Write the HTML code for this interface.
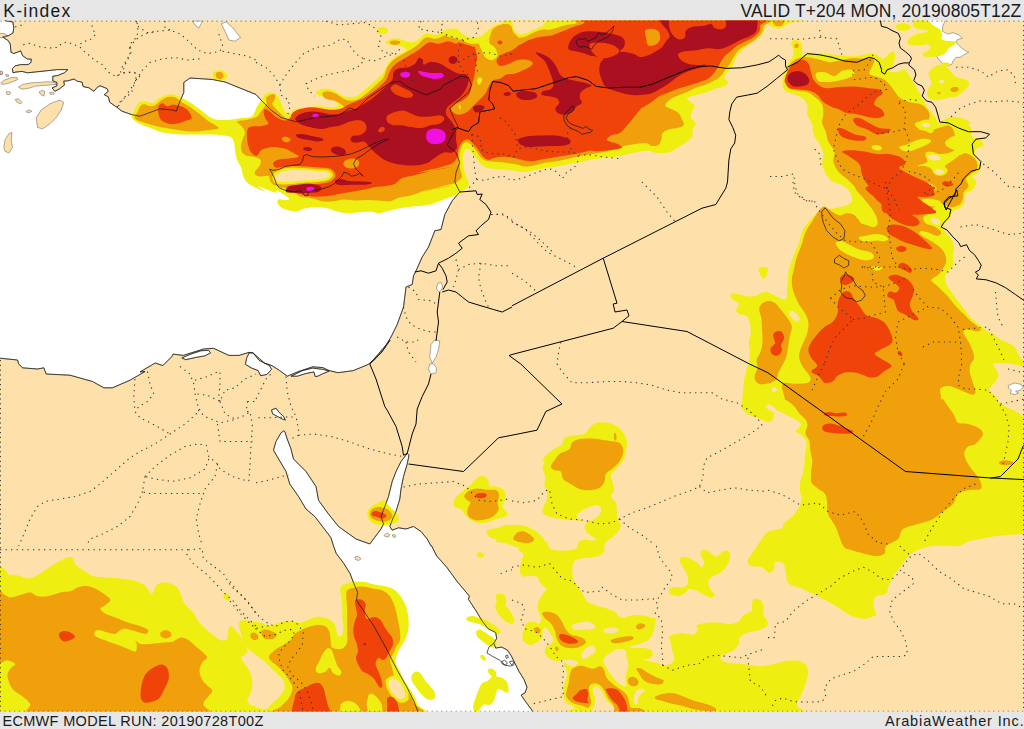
<!DOCTYPE html><html><head><meta charset="utf-8"><title>K-index</title><style>
html,body{margin:0;padding:0;background:#e6e6e6;width:1024px;height:729px;overflow:hidden}
body{font-family:"Liberation Sans",sans-serif;color:#1a1a1a;position:relative}
.t{position:absolute;white-space:nowrap;font-size:15.6px;line-height:1;letter-spacing:0.45px}
svg{position:absolute;left:0;top:0}
</style></head><body>
<svg width="1024" height="729" viewBox="0 0 1024 729">
<defs><clipPath id="m"><rect x="0" y="20.4" width="1024" height="691.2"/></clipPath></defs>
<g clip-path="url(#m)">
<rect x="0" y="0" width="1024" height="729" fill="#fee1aa"/>
<path d="M-5.0,15.0L6.2,20.8L13.0,22.1L13.7,28.2L13.0,33.0L8.2,35.8L3.4,36.5L2.7,37.1L8.2,40.6L10.3,44.0L11.0,52.2L13.7,53.6L20.6,50.9L22.6,55.7L27.4,59.1L31.3,59.1L30.9,62.5L28.1,64.6L20.6,64.6L15.1,65.9L12.3,68.7L13.0,72.8L15.8,72.1L21.9,71.4L27.4,72.8L41.1,71.4L57.6,69.6L67.9,69.6L64.4,72.8L57.6,75.5L52.8,76.2L52.8,81.0L56.9,82.4L56.9,85.8L52.1,87.9L54.8,91.3L59.0,89.2L64.4,85.1L63.8,81.0L67.2,81.0L74.0,79.0L76.8,81.0L82.3,82.4L83.0,86.5L89.1,87.9L93.9,91.3L97.4,87.2L100.1,85.8L107.0,88.6L108.3,91.3L104.2,94.7L108.3,96.8L109.7,102.3L116.6,107.1L122.0,111.2L127.5,113.2L131.6,114.6L140.0,116.2L150.0,112.5L160.0,108.8L172.5,110.0L176.2,111.2L180.0,101.2L183.8,92.5L183.8,82.5L190.0,78.0L212.5,79.5L225.0,82.0L256.0,94.5L261.0,100.0L271.0,110.0L281.0,117.5L296.0,121.8L316.0,117.5L338.5,115.5L349.8,108.0L356.0,110.0L368.5,97.5L391.0,82.5L399.8,81.2L406.0,86.2L426.0,95.0L441.0,88.8L443.5,85.0L453.5,80.0L461.0,76.2L468.5,77.5L471.5,85.0L468.5,92.5L456.0,102.5L449.8,108.8L453.5,117.5L458.5,127.5L453.5,132.5L447.2,145.0L456.0,152.5L459.8,162.5L456.0,172.5L454.8,182.0L459.8,192.0L452.2,200.8L444.8,214.5L441.0,229.5L434.8,230.8L428.5,247.0L422.2,257.0L416.0,270.8L413.5,275.8L412.2,284.5L406.0,287.0L403.5,307.0L397.2,324.5L391.0,337.0L383.5,349.5L376.0,358.2L369.8,364.0L390.1,340.2L381.2,352.9L368.5,364.3L353.3,370.6L338.1,372.7L329.2,370.6L322.8,367.6L312.7,366.8L297.4,371.9L287.3,376.2L279.7,370.6L272.0,365.6L264.4,363.0L253.0,352.9L249.2,352.3L239.0,355.4L228.9,355.4L213.6,348.3L203.5,349.0L183.2,355.4L173.0,354.1L171.7,356.7L162.9,365.6L155.2,363.0L140.0,371.9L145.0,371.5L130.0,380.2L112.5,387.8L103.8,387.8L92.5,381.5L70.0,375.2L46.2,374.0L43.8,367.8L37.5,369.0L22.5,367.8L18.8,364.0L17.5,360.0L0.0,358.2L-5.0,358.0Z" fill="#fff" stroke="#333" stroke-width="0.4"/>
<path d="M283.5,431.0L281.0,432.8L276.0,441.5L273.5,450.2L277.2,456.5L286.0,471.5L289.8,484.0L298.5,496.5L306.0,509.0L314.8,516.5L323.5,527.8L331.0,537.8L333.5,546.0L336.3,553.5L343.9,563.6L350.1,573.6L353.9,583.7L357.7,592.4L356.4,600.0L363.9,611.3L374.0,626.3L386.5,648.9L396.6,669.0L406.6,686.6L414.1,701.6L417.9,711.7L421.7,721.7L534.8,715.5L530.9,708.7L525.0,700.9L521.1,695.0L525.0,693.0L527.0,687.2L524.0,679.4L519.1,671.6L515.2,663.8L511.3,655.9L507.4,650.1L501.6,647.1L495.7,648.1L493.8,643.2L496.7,638.4L495.7,632.5L487.9,628.6L482.0,620.8L476.2,611.0L468.4,599.3L469.4,596.2L456.8,581.1L446.8,567.3L436.7,556.0L431.7,546.0L431.0,546.0L427.2,539.0L421.0,531.5L413.5,526.5L406.0,529.0L398.5,527.8L392.2,530.2L389.8,526.5L392.2,520.2L396.0,511.5L399.8,499.0L401.0,489.0L403.5,476.5L407.2,464.0L409.0,455.2L407.2,453.5L401.0,461.5L396.0,471.5L392.2,481.5L388.5,496.5L384.8,506.5L381.0,516.5L383.5,524.0L381.0,529.0L373.5,539.0L369.8,544.0L356.0,539.0L338.5,526.5L328.5,514.0L318.5,500.2L316.0,486.5L306.0,471.5L293.5,459.0L291.0,449.0L287.2,439.0L284.8,431.5Z" fill="#fff" stroke="#333" stroke-width="0.4"/>
<path d="M181.9,357.9L190.8,354.1L200.9,350.8L208.6,350.3L210.6,352.9L204.8,355.9L195.9,357.4L185.7,359.7Z" fill="#fff" stroke="#333" stroke-width="0.4"/>
<path d="M249.2,352.9L253.0,352.9L259.3,360.5L269.5,365.6L271.5,369.4L267.0,374.4L260.6,375.7L258.1,370.6L251.7,368.1L245.4,364.3L246.7,357.9Z" fill="#fff" stroke="#333" stroke-width="0.4"/>
<path d="M291.1,376.2L302.5,370.6L312.7,368.1L322.8,369.4L329.2,371.1L322.8,373.7L317.8,376.2L315.2,376.5L313.9,371.9L305.1,373.7L297.4,376.2Z" fill="#fff" stroke="#333" stroke-width="0.4"/>
<path d="M271.5,410.0L275.9,408.2L279.2,412.5L283.5,416.3L285.3,420.1L282.2,418.9L277.1,416.3L272.6,413.8Z" fill="#fff" stroke="#333" stroke-width="0.4"/>
<path d="M436.5,287.0L438.0,283.2L441.0,282.5L442.5,285.8L441.5,290.0L439.0,292.0L437.0,290.0Z" fill="#ffffff" stroke="#333" stroke-width="0.4"/>
<path d="M431.0,344.5L434.8,340.0L439.8,340.8L438.5,349.5L436.0,357.0L432.2,363.2L429.8,357.0L430.5,349.5Z" fill="#ffffff" stroke="#333" stroke-width="0.4"/>
<path d="M429.8,364.0L428.5,369.0L431.0,374.0L436.0,372.8L436.5,367.8L433.5,364.0Z" fill="#ffffff" stroke="#333" stroke-width="0.4"/>
<path d="M1008.1,385.7L1014.3,383.0L1021.1,384.3L1023.2,387.8L1019.7,390.5L1015.6,391.2L1018.4,393.2L1014.3,394.6L1010.1,393.2L1011.5,390.5L1008.8,388.4Z" fill="#ffffff" stroke="#333" stroke-width="0.4"/>
<path d="M924.3,18.6L946.1,18.6L942.6,26.3L942.6,31.3L947.5,34.1L953.1,32.7L958.8,34.8L962.3,38.3L957.4,39.7L955.9,42.5L960.2,46.7L964.4,50.2L968.6,52.3L964.4,54.5L960.2,57.3L955.9,57.3L953.1,60.8L951.7,64.3L947.5,65.7L943.3,63.6L939.1,60.1L937.0,56.6L936.3,50.9L934.1,42.5L932.0,34.1L927.8,28.4L925.0,25.6Z" fill="#ffffff" stroke="#333" stroke-width="0.4"/>
<path d="M192.5,21.0L202.5,21.0L198.8,28.0L195.0,25.0Z" fill="#ffffff" stroke="#333" stroke-width="0.4"/>
<path d="M221.2,23.8L226.2,22.0L232.5,27.5L237.5,33.8L240.5,37.5L235.0,41.2L228.8,40.0L226.2,33.8L223.8,28.8Z" fill="#ffffff" stroke="#333" stroke-width="0.4"/>
<path d="M37.5,127.5L36.2,117.5L41.2,110.0L50.0,103.8L60.0,100.0L63.8,102.5L61.2,110.0L56.2,117.5L50.0,123.8L42.5,128.8Z" fill="#fee1aa" stroke="#333" stroke-width="0.4"/>
<path d="M0.7,83.1L4.1,80.3L11.0,77.6L17.1,77.6L17.8,79.6L12.3,81.7L6.9,83.8L2.1,84.4Z" fill="#fee1aa" stroke="#333" stroke-width="0.4"/>
<path d="M18.5,87.2L22.6,84.4L31.5,82.8L39.8,82.4L48.0,81.7L54.2,82.4L56.5,84.4L52.1,84.7L43.9,85.4L35.7,86.1L27.4,88.6L21.9,89.2Z" fill="#fee1aa" stroke="#333" stroke-width="0.4"/>
<path d="M6.2,92.0L8.2,91.3L10.7,92.7L9.6,94.7L6.9,94.3Z" fill="#fee1aa" stroke="#333" stroke-width="0.4"/>
<path d="M39.1,92.0L42.5,90.2L44.6,91.3L43.9,96.1L41.1,94.7Z" fill="#fee1aa" stroke="#333" stroke-width="0.4"/>
<path d="M49.4,92.7L52.8,92.0L54.2,93.8L50.7,94.7Z" fill="#fee1aa" stroke="#333" stroke-width="0.4"/>
<path d="M15.1,99.5L18.5,98.8L21.9,102.3L20.6,103.9L17.1,102.3Z" fill="#fee1aa" stroke="#333" stroke-width="0.4"/>
<path d="M26.1,111.2L29.5,110.1L31.8,111.2L29.5,112.6L26.7,112.3Z" fill="#fee1aa" stroke="#333" stroke-width="0.4"/>
<path d="M-0.7,71.4L2.1,72.1L2.5,74.2L-0.7,74.8Z" fill="#fee1aa" stroke="#333" stroke-width="0.4"/>
<path d="M5.5,74.8L8.2,74.6L8.9,76.2L6.2,76.5Z" fill="#fee1aa" stroke="#333" stroke-width="0.4"/>
<path d="M3.8,147.5L5.0,140.0L8.8,133.8L12.0,132.5L11.2,140.0L12.5,147.5L8.8,153.0L5.0,151.2Z" fill="#fee1aa" stroke="#333" stroke-width="0.4"/>
<path d="M-3.0,33.5L4.0,33.5L7.5,35.5L5.0,37.5L-3.0,37.8Z" fill="#fee1aa" stroke="#333" stroke-width="0.4"/>
<path d="M0.0,71.5L2.0,71.0L2.5,73.5L0.5,74.5Z" fill="#fee1aa" stroke="#333" stroke-width="0.4"/>
<path d="M384.0,535.5L386.5,533.0L389.8,534.5L388.5,537.0L385.2,536.5Z" fill="#fee1aa" stroke="#333" stroke-width="0.4"/>
<path d="M392.2,535.0L394.8,534.5L396.0,536.5L393.5,537.5Z" fill="#fee1aa" stroke="#333" stroke-width="0.4"/>
<path d="M354.8,557.0L358.0,556.2L361.0,558.8L358.5,560.5L355.5,559.5Z" fill="#fee1aa" stroke="#333" stroke-width="0.4"/>
<path d="M131.7,115.9C131.7,114.6 132.9,113.6 133.7,112.0C134.5,110.4 135.6,107.8 136.6,106.1C137.6,104.5 138.1,103.0 139.5,102.2C141.0,101.4 143.1,101.1 145.4,101.2C147.7,101.4 150.9,103.7 153.2,103.2C155.5,102.7 156.8,99.7 159.1,98.3C161.3,97.0 164.6,95.7 166.9,95.0C169.2,94.3 170.8,94.2 172.7,94.4C174.7,94.6 176.6,95.6 178.6,96.4C180.5,97.2 181.8,97.8 184.5,99.3C187.1,100.8 191.3,103.2 194.2,105.2C197.1,107.1 199.4,109.1 202.0,111.0C204.6,113.0 207.2,115.4 209.8,116.9C212.4,118.3 214.4,119.3 217.7,119.8C220.9,120.3 225.5,120.1 229.4,119.8C233.3,119.5 237.5,118.3 241.1,117.9C244.7,117.4 248.6,117.9 250.9,116.9C253.1,115.9 253.8,113.6 254.8,112.0C255.7,110.4 255.7,108.9 256.7,107.1C257.7,105.3 259.3,103.2 260.6,101.2C261.9,99.3 263.4,96.8 264.5,95.4C265.6,94.0 265.5,93.3 267.2,93.0C269.0,92.7 272.7,92.6 274.8,93.8C276.8,94.9 278.1,97.1 279.8,100.0C281.4,102.9 283.1,109.0 284.8,111.2C286.4,113.5 288.3,114.0 289.8,113.8C291.2,113.5 290.8,111.0 293.5,110.0C296.2,109.0 301.8,108.1 306.0,107.5C310.2,106.9 313.9,106.2 318.5,106.2C323.1,106.2 330.2,107.7 333.5,107.5C336.8,107.3 338.9,106.5 338.5,105.0C338.1,103.5 333.9,100.2 331.0,98.8C328.1,97.3 323.5,97.3 321.0,96.2C318.5,95.2 315.6,93.8 316.0,92.5C316.4,91.2 320.6,89.1 323.5,88.8C326.4,88.4 330.2,89.2 333.5,90.5C336.8,91.8 339.8,95.3 343.5,96.2C347.2,97.2 352.2,97.5 356.0,96.2C359.8,95.0 362.7,91.5 366.0,88.8C369.3,86.0 373.1,82.7 376.0,80.0C378.9,77.3 381.4,75.4 383.5,72.5C385.6,69.6 386.4,65.2 388.5,62.5C390.6,59.8 393.1,58.3 396.0,56.2C398.9,54.2 405.2,51.7 406.0,50.0C406.8,48.3 403.5,47.1 401.0,46.2C398.5,45.4 393.5,45.6 391.0,45.0C388.5,44.4 385.8,43.5 386.0,42.5C386.2,41.5 389.8,39.2 392.2,38.8C394.8,38.2 398.3,39.0 401.0,39.5C403.7,40.0 406.0,41.7 408.5,42.0C411.0,42.3 413.1,42.6 416.0,41.2C418.9,39.9 422.7,34.8 426.0,33.8C429.3,32.7 432.7,35.6 436.0,35.0C439.3,34.4 442.7,31.0 446.0,30.0C449.3,29.0 453.1,27.9 456.0,28.8C458.9,29.6 461.0,33.5 463.5,35.0C466.0,36.5 468.1,37.3 471.0,37.5C473.9,37.7 478.1,37.5 481.0,36.2C483.9,35.0 486.0,31.9 488.5,30.0C491.0,28.1 493.5,26.5 496.0,25.0C498.5,23.5 502.2,24.6 503.5,21.2C504.8,17.9 459.9,7.7 504.0,5.0C548.1,2.3 724.2,2.3 768.0,5.0C811.8,7.7 767.5,17.1 767.0,20.9C766.5,24.7 766.0,25.3 765.0,27.8C764.0,30.2 763.0,33.3 761.1,35.6C759.1,37.9 755.9,39.5 753.3,41.4C750.7,43.4 748.1,45.0 745.5,47.3C742.9,49.6 739.6,52.5 737.7,55.1C735.7,57.7 735.2,60.3 733.8,62.9C732.3,65.5 730.5,68.5 728.9,70.7C727.2,73.0 724.1,74.6 724.0,76.6C723.8,78.5 727.9,80.8 727.9,82.5C727.9,84.1 725.9,85.4 724.0,86.4C722.0,87.3 719.1,87.3 716.2,88.3C713.2,89.3 709.7,91.1 706.4,92.2C703.2,93.4 699.9,94.2 696.6,95.1C693.4,96.1 687.9,96.9 686.9,98.1C685.9,99.2 689.5,100.7 690.8,102.0C692.1,103.3 694.5,104.3 694.7,105.9C694.9,107.5 692.4,109.8 691.8,111.8C691.1,113.7 690.1,115.7 690.8,117.6C691.4,119.6 695.3,121.5 695.7,123.5C696.0,125.4 693.4,127.0 692.7,129.3C692.1,131.6 693.1,134.9 691.8,137.1C690.5,139.4 687.4,141.2 684.9,143.0C682.5,144.8 680.0,146.3 677.1,147.9C674.2,149.5 670.9,152.0 667.3,152.8C663.8,153.6 659.2,153.1 655.6,152.8C652.0,152.4 651.8,150.3 645.9,150.8C639.9,151.3 627.0,154.7 620.0,155.9C613.0,157.1 608.6,157.2 603.6,157.9C598.6,158.5 594.5,159.0 589.9,159.8C585.4,160.6 581.1,161.8 576.2,162.7C571.4,163.7 565.2,164.9 560.6,165.7C556.1,166.5 552.8,167.0 548.9,167.6C545.0,168.3 541.1,168.8 537.2,169.6C533.3,170.3 529.4,171.9 525.5,172.1C521.6,172.3 517.7,171.0 513.8,170.5C509.8,170.1 505.9,169.9 502.0,169.6C498.1,169.2 493.6,169.2 490.3,168.6C487.1,167.9 484.8,167.3 482.5,165.7C480.2,164.0 478.4,161.1 476.6,158.8C474.9,156.5 473.2,153.6 471.8,152.0C470.3,150.4 469.2,149.1 467.9,149.1C466.5,149.1 464.8,150.4 463.9,152.0C463.1,153.6 463.0,156.1 463.0,158.8C463.0,161.6 463.5,165.7 463.9,168.6C464.4,171.5 465.1,174.0 465.9,176.4C466.7,178.8 468.7,181.3 468.8,183.2C469.0,185.2 468.3,186.6 466.9,188.1C465.4,189.7 461.3,191.4 460.0,192.4C458.7,193.4 461.5,192.9 459.1,194.0C456.6,195.1 449.9,197.2 445.4,198.9C440.8,200.5 436.0,202.6 431.7,203.8C427.5,204.9 419.0,205.7 420.0,205.7C421.0,205.7 436.5,203.6 437.5,203.5C438.5,203.5 430.0,205.0 425.8,205.5C421.5,206.0 416.7,206.0 412.1,206.4C407.6,206.9 402.7,207.6 398.4,208.4C394.2,209.2 390.0,210.5 386.7,211.3C383.5,212.1 381.5,213.2 378.9,213.3C376.3,213.3 374.3,211.9 371.1,211.7C367.8,211.6 363.3,212.0 359.4,212.3C355.5,212.6 351.2,213.4 347.7,213.3C344.1,213.2 341.1,212.5 337.9,211.7C334.6,210.9 331.7,209.2 328.1,208.4C324.5,207.6 320.3,207.0 316.4,207.0C312.5,207.0 307.9,207.7 304.7,208.4C301.4,209.1 299.5,211.0 296.9,211.3C294.3,211.7 291.7,211.0 289.1,210.4C286.5,209.7 283.2,208.7 281.2,207.4C279.3,206.1 277.7,203.9 277.3,202.5C277.0,201.2 278.3,199.6 279.3,199.2C280.3,198.8 281.6,199.9 283.2,200.0C284.8,200.1 288.4,200.2 289.1,199.6C289.7,199.1 288.7,198.0 287.1,196.7C285.5,195.4 281.1,192.8 279.3,191.8C277.5,190.8 277.0,190.7 276.4,190.8C275.7,191.0 276.9,192.9 275.4,192.8C273.9,192.6 270.5,191.0 267.6,189.8C264.6,188.7 258.3,185.7 257.8,185.9C257.3,186.1 265.0,190.9 264.5,191.1C264.0,191.3 257.7,188.7 254.8,187.2C251.8,185.7 248.9,184.3 247.0,182.3C245.0,180.4 244.0,177.9 243.0,175.5C242.1,173.0 242.1,170.3 241.1,167.7C240.1,165.1 238.2,162.4 237.2,159.8C236.2,157.2 235.7,154.8 235.2,152.0C234.7,149.3 234.9,145.7 234.3,143.2C233.6,140.8 233.1,138.7 231.3,137.4C229.5,136.1 226.8,135.9 223.5,135.4C220.3,134.9 216.0,134.6 211.8,134.5C207.6,134.3 203.0,134.5 198.1,134.5C193.2,134.5 187.4,134.6 182.5,134.5C177.6,134.3 172.7,134.0 168.8,133.5C164.9,133.0 162.3,132.5 159.1,131.5C155.8,130.5 152.6,128.9 149.3,127.6C146.0,126.3 142.1,125.0 139.5,123.7C136.9,122.4 135.0,121.1 133.7,119.8C132.4,118.5 131.7,117.2 131.7,115.9Z" fill="#eeee10"/>
<path d="M512.3,14.1C506.7,16.0 512.8,22.9 513.2,25.8C513.7,28.7 514.1,30.2 515.2,31.7C516.3,33.1 518.0,34.4 520.1,34.6C522.2,34.8 525.0,33.8 527.9,32.6C530.8,31.5 535.1,29.1 537.7,27.8C540.3,26.5 542.1,27.1 543.5,24.8C545.0,22.6 551.7,15.9 546.4,14.1C541.2,12.3 517.8,12.1 512.3,14.1Z" fill="#fee1aa"/>
<path d="M212.8,72.9C213.3,72.0 214.2,71.4 215.7,71.0C217.2,70.6 219.8,69.9 221.6,70.4C223.4,70.9 225.6,72.7 226.4,73.9C227.3,75.1 227.3,76.7 226.4,77.8C225.6,79.0 223.4,80.4 221.6,80.7C219.8,81.1 217.2,80.4 215.7,79.8C214.2,79.1 213.3,78.0 212.8,76.8C212.3,75.7 212.3,73.9 212.8,72.9Z" fill="#eeee10"/>
<path d="M377.0,30.0C377.3,29.1 378.7,27.9 380.0,27.5C381.3,27.1 383.7,27.1 385.0,27.5C386.3,27.9 387.7,29.1 388.0,30.0C388.3,30.9 388.0,32.3 387.0,33.0C386.0,33.7 383.5,34.0 382.0,34.0C380.5,34.0 378.8,33.7 378.0,33.0C377.2,32.3 376.7,30.9 377.0,30.0Z" fill="#eeee10"/>
<path d="M767.0,16.0C761.1,17.5 767.6,22.9 768.9,24.8C770.2,26.8 772.8,27.2 774.8,27.8C776.7,28.3 778.7,28.6 780.6,28.2C782.6,27.7 784.2,25.9 786.5,24.8C788.8,23.8 791.7,22.6 794.3,21.9C796.9,21.3 800.5,21.9 802.1,20.9C803.7,20.0 809.9,16.9 804.1,16.0C798.2,15.2 772.8,14.6 767.0,16.0Z" fill="#eeee10"/>
<path d="M782.4,83.3C782.2,80.6 782.8,77.8 783.6,74.7C784.5,71.6 785.9,67.6 787.4,64.7C788.8,61.8 791.3,59.8 792.3,57.3C793.4,54.8 793.8,52.1 793.6,49.8C793.4,47.6 790.9,45.3 791.1,43.6C791.3,42.0 793.2,40.1 794.8,39.9C796.5,39.7 799.8,40.8 801.0,42.4C802.3,44.1 802.0,47.8 802.3,49.8C802.5,51.9 801.0,54.2 802.3,54.8C803.5,55.4 806.8,53.8 809.7,53.6C812.6,53.4 815.9,53.4 819.6,53.6C823.3,53.8 827.9,54.4 832.0,54.8C836.2,55.2 840.3,55.8 844.4,56.0C848.6,56.3 852.7,56.5 856.8,56.0C861.0,55.6 865.9,53.8 869.2,53.6C872.5,53.4 874.6,53.8 876.7,54.8C878.7,55.8 880.0,58.1 881.6,59.8C883.3,61.4 885.4,65.1 886.6,64.7C887.8,64.3 888.0,59.4 889.1,57.3C890.1,55.2 891.8,52.3 892.8,52.3C893.8,52.3 895.3,55.2 895.3,57.3C895.3,59.4 893.8,62.5 892.8,64.7C891.8,67.0 888.5,69.7 889.1,70.9C889.7,72.2 894.0,72.4 896.5,72.2C899.0,72.0 901.9,69.3 904.0,69.7C906.0,70.1 907.3,72.4 908.9,74.7C910.6,76.9 912.2,80.4 913.9,83.3C915.5,86.2 917.2,89.1 918.8,92.0C920.5,94.9 922.2,97.8 923.8,100.7C925.5,103.6 926.9,106.7 928.8,109.4C930.6,112.1 933.3,114.6 935.0,116.8C936.6,119.1 936.8,122.2 938.7,123.0C940.6,123.9 943.7,122.6 946.1,121.8C948.6,121.0 950.7,118.3 953.6,118.1C956.5,117.9 960.6,118.9 963.5,120.5C966.4,122.2 969.5,125.3 970.9,128.0C972.4,130.7 970.5,134.6 972.2,136.7C973.8,138.7 979.0,138.9 980.9,140.4C982.7,141.8 984.2,143.9 983.3,145.4C982.5,146.8 977.4,147.2 975.9,149.1C974.5,150.9 974.0,154.0 974.7,156.5C975.3,159.0 979.0,161.3 979.6,164.0C980.2,166.6 979.6,170.6 978.4,172.6C977.1,174.7 972.6,174.9 972.2,176.4C971.8,177.8 975.7,179.3 975.9,181.3C976.1,183.4 975.1,186.7 973.4,188.8C971.8,190.8 967.4,192.5 966.0,193.7C964.5,194.9 965.0,194.2 964.6,195.9C964.2,197.5 964.6,201.6 963.6,203.7C962.7,205.8 960.6,207.3 958.8,208.6C957.0,209.9 954.5,209.7 952.9,211.5C951.3,213.3 950.6,216.9 949.0,219.3C947.4,221.7 943.8,224.0 943.1,226.1C942.5,228.2 943.8,229.9 945.1,232.0C946.4,234.1 949.5,236.4 951.0,238.8C952.4,241.3 953.6,243.7 953.9,246.6C954.2,249.6 952.9,253.5 952.9,256.4C952.9,259.3 954.5,261.9 953.9,264.2C953.2,266.5 950.5,268.1 949.0,270.1C947.5,272.0 945.6,273.7 945.1,275.9C944.6,278.2 945.1,281.1 946.1,283.8C947.0,286.4 949.2,289.0 951.0,291.6C952.7,294.2 954.9,296.8 956.8,299.4C958.8,302.0 960.7,304.6 962.7,307.2C964.6,309.8 966.6,312.7 968.5,315.0C970.5,317.3 972.1,318.9 974.4,320.9C976.7,322.8 979.9,324.9 982.2,326.7C984.5,328.6 986.1,330.7 988.1,332.0C990.0,333.3 991.6,333.0 993.7,334.3C995.8,335.6 997.8,338.2 1000.6,339.8C1003.3,341.4 1007.6,342.5 1010.1,343.9C1012.7,345.2 1014.3,346.2 1015.6,348.0C1017.0,349.8 1017.0,352.8 1018.4,354.8C1019.8,356.9 1020.4,359.5 1024.0,360.3C1027.6,361.2 1037.3,359.1 1040.0,360.0C1042.7,360.9 1042.7,365.0 1040.0,366.0C1037.3,367.0 1028.3,366.1 1024.0,365.8C1019.7,365.6 1017.5,364.9 1014.3,364.4C1011.0,364.0 1007.9,363.6 1004.7,363.3C1001.5,363.1 996.9,362.7 995.1,363.1C993.2,363.5 993.5,364.7 993.7,365.8C993.9,367.0 995.6,368.4 996.4,369.9C997.2,371.4 998.6,372.9 998.5,374.7C998.4,376.6 997.0,379.0 995.8,380.9C994.5,382.8 992.0,384.8 991.0,386.4C989.9,388.0 989.1,389.1 989.6,390.5C990.0,391.9 992.3,393.0 993.7,394.6C995.1,396.2 997.1,398.8 997.8,400.0C998.5,401.1 996.3,400.2 998.0,401.5C999.7,402.8 1004.7,405.9 1008.0,407.8C1011.3,409.6 1015.3,411.3 1018.0,412.8C1020.7,414.2 1020.3,415.6 1024.0,416.5C1027.7,417.4 1037.3,398.4 1040.0,418.0C1042.7,437.6 1042.7,514.7 1040.0,534.0C1037.3,553.3 1029.8,533.8 1024.0,534.0C1018.2,534.2 1010.7,534.8 1005.5,535.2C1000.3,535.7 997.2,535.9 993.0,536.5C988.8,537.1 984.7,538.2 980.5,539.0C976.3,539.8 971.8,540.3 968.0,541.5C964.2,542.7 963.7,545.2 958.0,546.0C952.3,546.8 940.2,545.4 933.7,546.0C927.1,546.6 922.8,548.1 918.6,549.8C914.4,551.4 911.5,553.3 908.6,556.0C905.6,558.8 903.5,562.7 901.0,566.1C898.5,569.4 895.6,572.8 893.5,576.1C891.4,579.5 889.7,583.2 888.5,586.2C887.2,589.1 888.1,592.0 886.0,593.7C883.9,595.4 878.0,594.5 875.9,596.2C873.8,597.9 873.4,600.8 873.4,603.7C873.4,606.7 875.8,611.7 875.9,613.8C876.1,615.8 876.0,615.3 874.1,616.1C872.3,617.0 868.7,618.8 864.9,618.8C861.2,618.8 855.7,617.7 851.8,616.1C847.8,614.6 845.2,612.0 841.2,609.5C837.3,607.1 832.4,604.1 828.1,601.6C823.7,599.2 819.3,597.3 814.9,595.1C810.5,592.9 806.1,590.5 801.7,588.5C797.3,586.5 791.2,585.8 788.6,583.2C785.9,580.6 786.8,576.0 785.9,572.7C785.0,569.4 785.0,565.2 783.3,563.5C781.5,561.7 776.9,561.3 775.4,562.1C773.8,563.0 775.2,567.0 774.1,568.7C773.0,570.5 770.8,572.9 768.8,572.7C766.8,572.5 765.1,568.5 762.2,567.4C759.4,566.3 754.1,567.2 751.7,566.1C749.3,565.0 746.9,564.1 747.7,560.8C748.6,557.5 753.8,551.0 757.0,546.3C760.1,541.7 763.5,535.6 766.4,532.8C769.3,530.1 771.6,530.7 774.2,529.9C776.8,529.1 780.4,529.1 782.0,527.9C783.7,526.8 782.4,524.8 784.0,523.0C785.6,521.3 789.5,519.5 791.8,517.2C794.1,514.9 796.0,512.3 797.7,509.4C799.3,506.4 801.2,502.9 801.6,499.6C801.9,496.4 799.8,493.1 799.6,489.8C799.4,486.6 799.9,483.3 800.6,480.1C801.2,476.8 802.9,473.6 803.5,470.3C804.2,467.1 804.2,463.8 804.5,460.5C804.8,457.3 805.1,453.9 805.5,450.8C805.8,447.7 807.1,444.6 806.4,442.0C805.8,439.4 803.4,436.9 801.6,435.2C799.8,433.4 796.0,432.6 795.7,431.2C795.4,429.9 798.8,428.6 799.6,427.3C800.4,426.0 801.6,424.9 800.6,423.4C799.6,422.0 796.8,420.3 793.8,418.6C790.7,416.8 785.1,414.2 782.0,412.7C778.9,411.2 776.5,409.6 775.2,409.8C773.9,409.9 774.7,411.9 774.2,413.7C773.7,415.5 773.6,419.2 772.3,420.5C771.0,421.8 769.0,422.0 766.4,421.5C763.8,421.0 759.9,418.9 756.6,417.6C753.4,416.3 749.3,415.3 746.9,413.7C744.4,412.0 742.8,410.1 742.0,407.8C741.2,405.5 742.0,400.8 742.0,400.0C742.0,399.2 741.8,404.3 742.0,402.8C742.2,401.3 742.6,394.7 743.0,391.1C743.3,387.5 743.5,384.6 743.9,381.3C744.4,378.1 745.1,374.8 745.9,371.6C746.7,368.3 748.2,365.1 748.8,361.8C749.5,358.5 749.8,355.3 749.8,352.0C749.8,348.8 748.7,345.5 748.8,342.3C749.0,339.0 750.6,335.6 750.8,332.5C750.9,329.4 750.5,326.5 749.8,323.7C749.2,320.9 748.7,317.5 746.9,315.9C745.1,314.3 740.9,314.9 739.1,313.9C737.3,313.0 736.1,311.7 736.1,310.0C736.1,308.4 739.4,305.8 739.1,304.2C738.7,302.6 735.6,301.6 734.2,300.3C732.7,299.0 730.6,297.5 730.3,296.4C729.9,295.2 730.8,293.8 732.2,293.4C733.7,293.1 736.3,293.9 739.1,294.4C741.8,294.9 745.9,296.2 748.8,296.4C751.8,296.5 754.4,296.0 756.6,295.4C758.9,294.7 760.5,292.9 762.5,292.5C764.5,292.0 765.8,291.6 768.4,292.5C771.0,293.3 775.2,296.2 778.1,297.3C781.1,298.5 784.5,300.3 785.9,299.3C787.4,298.3 786.6,294.4 786.9,291.5C787.2,288.6 787.6,285.3 787.9,281.7C788.2,278.1 787.8,274.5 788.9,270.0C789.9,265.5 792.5,259.2 794.2,254.5C796.0,249.8 797.8,246.2 799.2,242.0C800.7,237.8 801.1,233.2 803.0,229.5C804.9,225.8 808.0,222.4 810.5,219.5C813.0,216.6 815.9,213.6 818.0,212.0C820.1,210.4 821.0,210.7 823.3,210.1C825.7,209.5 828.5,209.3 832.0,208.6C835.5,208.0 841.1,207.4 844.4,206.1C847.7,204.9 851.0,203.7 851.9,201.2C852.7,198.7 851.0,193.9 849.4,191.3C847.7,188.6 844.8,186.7 841.9,185.0C839.0,183.4 834.7,183.2 832.0,181.3C829.3,179.5 827.5,176.8 825.8,173.9C824.2,171.0 822.5,167.3 822.1,164.0C821.7,160.7 823.8,157.3 823.3,154.0C822.9,150.7 821.3,147.4 819.6,144.1C818.0,140.8 814.7,137.5 813.4,134.2C812.2,130.9 813.2,127.6 812.2,124.3C811.1,121.0 808.0,117.7 807.2,114.3C806.4,111.0 808.0,107.1 807.2,104.4C806.4,101.7 804.3,99.9 802.3,98.2C800.2,96.6 797.7,95.7 794.8,94.5C791.9,93.3 787.0,92.6 784.9,90.8C782.8,88.9 782.6,86.0 782.4,83.3Z" fill="#eeee10"/>
<path d="M766.4,405.9C766.6,405.1 768.8,405.0 770.3,405.5C771.8,406.0 774.5,407.7 775.2,408.8C775.8,409.8 775.2,411.6 774.2,411.7C773.2,411.9 770.6,410.7 769.3,409.8C768.0,408.8 766.2,406.6 766.4,405.9Z" fill="#fee1aa"/>
<path d="M788.9,313.0C788.7,311.7 790.5,310.9 791.8,311.0C793.1,311.2 795.4,312.6 796.7,313.9C798.0,315.2 799.6,317.5 799.6,318.8C799.6,320.1 797.8,321.8 796.7,321.8C795.5,321.8 794.1,320.3 792.8,318.8C791.5,317.4 789.0,314.3 788.9,313.0Z" fill="#fee1aa"/>
<path d="M771.9,388.2C772.4,387.6 774.3,386.9 775.2,387.2C776.1,387.5 777.3,389.3 777.1,390.1C777.0,390.9 775.1,392.0 774.2,392.1C773.3,392.2 772.3,391.4 771.9,390.7C771.5,390.1 771.3,388.8 771.9,388.2Z" fill="#fee1aa"/>
<path d="M765.4,405.7C765.8,404.9 768.7,404.3 770.3,404.8C771.9,405.3 774.5,407.5 775.2,408.7C775.8,409.9 775.4,411.8 774.2,412.0C773.1,412.2 769.8,410.7 768.4,409.6C766.9,408.6 765.1,406.6 765.4,405.7Z" fill="#fee1aa"/>
<path d="M930.4,219.3C930.8,218.4 933.7,217.6 935.3,217.9C937.0,218.3 939.7,220.1 940.2,221.2C940.7,222.4 939.4,224.4 938.3,224.8C937.1,225.2 934.7,224.5 933.4,223.6C932.1,222.7 930.1,220.2 930.4,219.3Z" fill="#fee1aa"/>
<path d="M758.6,268.0C759.7,266.9 766.1,266.7 767.4,268.0C768.7,269.3 767.1,274.1 766.4,275.9C765.8,277.6 764.5,279.0 763.5,278.8C762.5,278.6 761.4,276.7 760.5,274.9C759.7,273.1 757.5,269.2 758.6,268.0Z" fill="#eeee10"/>
<path d="M913.8,18.6C915.7,17.8 921.7,17.4 925.0,18.6C928.3,19.8 930.9,23.8 933.4,25.6C936.0,27.5 939.1,28.2 940.5,29.8C941.9,31.5 941.7,33.8 941.9,35.5C942.1,37.1 940.5,38.8 941.9,39.7C943.3,40.6 948.0,40.7 950.3,41.1C952.7,41.4 955.2,41.2 955.9,41.8C956.7,42.4 955.7,43.6 954.5,44.6C953.4,45.7 950.3,46.8 948.9,48.1C947.5,49.4 947.3,51.2 946.1,52.3C944.9,53.5 943.5,54.5 941.9,55.2C940.2,55.9 938.4,56.3 936.3,56.6C934.1,56.8 931.3,57.0 929.2,56.8C927.1,56.7 924.7,56.5 923.6,55.9C922.5,55.2 922.2,53.9 922.9,53.1C923.6,52.2 926.5,52.0 927.8,50.9C929.1,49.9 930.6,47.8 930.6,46.7C930.6,45.7 929.5,44.8 927.8,44.6C926.2,44.4 923.1,45.2 920.8,45.3C918.4,45.4 915.9,45.6 913.8,45.3C911.6,45.1 909.2,44.6 908.1,43.9C907.1,43.2 907.0,42.3 907.4,41.1C907.9,39.9 909.4,38.0 910.9,36.9C912.5,35.7 914.5,34.8 916.6,34.1C918.7,33.4 921.7,33.1 923.6,32.7C925.5,32.2 927.8,31.7 927.8,31.3C927.8,30.8 925.2,30.2 923.6,29.8C922.0,29.5 919.6,29.7 918.0,29.1C916.3,28.6 914.6,27.3 913.8,26.3C912.9,25.4 913.1,24.8 913.1,23.5C913.1,22.2 911.8,19.4 913.8,18.6Z" fill="#eeee10"/>
<path d="M896.2,25.6C896.7,24.8 898.0,23.9 899.7,23.5C901.3,23.2 904.3,23.2 906.0,23.5C907.8,23.9 909.5,24.8 910.2,25.6C910.9,26.4 910.9,27.6 910.2,28.4C909.5,29.3 907.8,30.2 906.0,30.5C904.3,30.9 901.3,30.9 899.7,30.5C898.1,30.2 897.2,29.3 896.6,28.4C896.0,27.6 895.7,26.4 896.2,25.6Z" fill="#eeee10"/>
<path d="M940.5,63.6C940.8,63.0 944.6,62.2 946.1,62.2C947.6,62.2 949.3,63.0 949.6,63.6C950.0,64.2 949.2,65.4 948.2,65.7C947.3,66.1 945.3,66.1 944.0,65.7C942.7,65.4 940.1,64.2 940.5,63.6Z" fill="#eeee10"/>
<path d="M928.5,73.4C928.9,71.9 930.3,69.9 932.0,68.5C933.8,67.1 936.7,65.4 939.1,65.0C941.4,64.7 944.2,65.5 946.1,66.4C948.0,67.4 948.9,69.0 950.3,70.6C951.7,72.3 952.7,75.0 954.5,76.3C956.4,77.5 959.3,77.7 961.6,78.4C963.8,79.1 966.7,79.4 967.9,80.5C969.1,81.5 969.2,83.3 968.9,84.7C968.5,86.1 967.0,87.5 965.8,88.9C964.6,90.3 963.2,91.8 961.6,93.1C959.9,94.4 958.1,95.9 955.9,96.7C953.8,97.4 951.3,96.9 948.9,97.4C946.6,97.8 944.2,99.0 941.9,99.5C939.5,99.9 937.1,100.5 934.9,100.2C932.6,99.8 929.8,98.5 928.5,97.4C927.2,96.2 927.1,94.5 927.1,93.1C927.1,91.7 927.8,90.6 928.5,88.9C929.2,87.3 931.1,85.2 931.3,83.3C931.6,81.4 930.4,79.3 929.9,77.7C929.5,76.0 928.2,75.0 928.5,73.4Z" fill="#eeee10"/>
<path d="M939.8,80.2C940.5,79.7 943.3,79.7 944.0,80.2C944.7,80.7 944.7,82.5 944.0,83.0C943.3,83.5 940.5,83.5 939.8,83.0C939.1,82.5 939.1,80.7 939.8,80.2Z" fill="#fee1aa"/>
<path d="M880.0,58.0C880.5,56.3 881.9,59.5 882.8,59.4C883.8,59.3 884.5,58.3 885.6,57.3C886.8,56.2 888.6,54.0 889.8,53.1C891.1,52.1 892.5,51.4 893.4,51.6C894.2,51.9 894.7,53.2 894.8,54.5C894.9,55.7 894.5,57.6 894.1,59.4C893.6,61.1 892.9,63.2 892.0,65.0C891.0,66.8 889.4,68.4 888.4,69.9C887.5,71.5 887.3,73.6 886.3,74.1C885.4,74.7 883.9,74.3 882.8,73.4C881.8,72.6 880.5,71.8 880.0,69.2C879.5,66.6 879.5,59.6 880.0,58.0Z" fill="#eeee10"/>
<path d="M941.9,124.1C937.9,123.1 944.2,119.6 946.1,118.5C948.0,117.3 950.8,117.2 953.1,117.0C955.5,116.9 957.8,117.2 960.2,117.7C962.5,118.3 965.6,119.5 967.2,120.6C968.8,121.6 974.2,123.5 970.0,124.1C965.8,124.7 945.9,125.0 941.9,124.1Z" fill="#eeee10"/>
<path d="M-5.0,577.4C-2.5,552.1 5.9,575.1 10.0,574.9C14.2,574.7 17.2,575.5 20.1,576.1C23.0,576.7 24.7,578.8 27.6,578.6C30.5,578.4 34.3,576.5 37.7,574.9C41.0,573.2 44.3,570.7 47.7,568.6C51.0,566.5 54.4,564.2 57.7,562.3C61.1,560.4 65.3,557.9 67.8,557.3C70.3,556.7 71.5,557.3 72.8,558.6C74.0,559.8 73.6,562.9 75.3,564.8C77.0,566.7 79.9,568.0 82.8,569.8C85.8,571.7 89.1,574.9 92.9,576.1C96.6,577.4 100.8,577.0 105.4,577.4C110.0,577.8 115.5,578.0 120.5,578.6C125.5,579.3 131.4,579.9 135.5,581.1C139.7,582.4 142.9,584.1 145.6,586.2C148.3,588.3 150.0,593.9 151.9,593.7C153.7,593.5 154.6,586.8 156.9,584.9C159.2,583.0 162.5,582.2 165.7,582.4C168.8,582.6 173.2,584.3 175.7,586.2C178.2,588.0 179.3,590.8 180.7,593.7C182.2,596.6 182.4,600.6 184.5,603.7C186.6,606.9 191.0,609.6 193.3,612.5C195.6,615.4 195.8,618.2 198.3,621.3C200.8,624.4 205.0,628.4 208.3,631.3C211.7,634.3 215.4,637.4 218.4,638.9C221.3,640.3 223.8,641.0 225.9,640.1C228.0,639.3 229.0,634.5 230.9,633.9C232.8,633.2 235.3,634.5 237.2,636.4C239.1,638.2 241.0,642.2 242.2,645.1C243.5,648.1 244.9,651.8 244.7,653.9C244.5,656.0 241.0,656.0 241.0,657.7C241.0,659.4 243.3,661.7 244.7,664.0C246.2,666.3 248.5,668.6 249.7,671.5C251.0,674.4 252.0,678.2 252.3,681.5C252.5,684.9 251.8,688.7 251.0,691.6C250.2,694.5 247.2,696.8 247.2,699.1C247.2,701.4 249.5,703.9 251.0,705.4C252.5,706.9 254.8,704.3 256.0,707.9C257.3,711.5 302.0,723.6 258.5,726.7C215.0,729.9 38.9,751.6 -5.0,726.7C-48.9,701.8 -7.5,602.7 -5.0,577.4Z" fill="#eeee10"/>
<path d="M223.4,594.9C223.8,594.1 226.1,593.3 227.2,593.7C228.2,594.1 229.5,596.3 229.7,597.5C229.9,598.6 229.3,600.5 228.4,600.7C227.6,600.9 225.5,599.7 224.6,598.7C223.8,597.7 223.0,595.8 223.4,594.9Z" fill="#eeee10"/>
<path d="M239.8,621.8C240.6,620.8 241.7,619.8 243.7,619.8C245.6,619.8 248.6,621.3 251.5,621.8C254.4,622.2 258.3,622.1 261.2,622.7C264.2,623.4 266.5,625.5 269.1,625.7C271.7,625.8 274.3,624.5 276.9,623.7C279.5,623.0 282.1,621.6 284.7,621.2C287.3,620.7 289.9,620.9 292.5,621.2C295.1,621.4 297.7,623.0 300.3,622.7C302.9,622.5 305.5,620.8 308.1,619.8C310.7,618.8 313.0,617.2 315.9,616.9C318.9,616.5 322.8,616.9 325.7,617.9C328.6,618.8 331.7,620.6 333.5,622.7C335.3,624.9 335.6,628.3 336.4,630.5C337.3,632.8 337.4,635.8 338.4,636.4C339.4,637.1 341.5,636.1 342.3,634.5C343.1,632.8 343.3,629.6 343.3,626.6C343.3,623.7 342.5,620.1 342.3,616.9C342.1,613.6 342.5,610.4 342.3,607.1C342.1,603.9 341.7,600.6 341.3,597.3C341.0,594.1 339.7,589.8 340.4,587.6C341.0,585.4 342.8,585.0 345.2,584.1C347.7,583.1 351.7,582.0 355.0,581.7C358.3,581.4 361.5,581.6 364.8,582.1C368.0,582.6 371.0,583.9 374.5,584.6C378.1,585.4 383.0,585.8 386.2,586.6C389.5,587.4 391.8,588.1 394.1,589.5C396.3,591.0 398.1,593.1 399.9,595.4C401.7,597.7 403.5,600.3 404.8,603.2C406.1,606.1 407.1,609.7 407.7,613.0C408.4,616.2 408.7,619.5 408.7,622.7C408.7,626.0 408.5,629.2 407.7,632.5C406.9,635.8 405.3,639.3 403.8,642.3C402.4,645.2 400.2,647.5 398.9,650.1C397.6,652.7 396.5,655.6 396.0,657.9C395.5,660.2 395.4,661.5 396.0,663.8C396.7,666.0 398.5,668.6 399.9,671.6C401.4,674.5 403.2,678.4 404.8,681.3C406.4,684.3 408.1,686.5 409.7,689.1C411.3,691.7 413.3,694.3 414.6,697.0C415.9,699.6 416.7,701.2 417.5,704.8C418.3,708.3 444.5,716.2 419.5,718.4C394.4,720.7 292.2,720.4 267.1,718.4C242.0,716.5 267.8,709.6 269.1,706.7C270.4,703.8 273.0,702.8 274.9,700.9C276.9,698.9 279.2,697.3 280.8,695.0C282.4,692.7 284.4,689.8 284.7,687.2C285.0,684.6 284.0,681.7 282.7,679.4C281.4,677.1 278.8,675.5 276.9,673.5C274.9,671.6 273.0,669.6 271.0,667.7C269.1,665.7 267.4,663.8 265.2,661.8C262.9,659.8 259.9,657.9 257.3,655.9C254.7,654.0 251.8,652.4 249.5,650.1C247.3,647.8 245.1,645.2 243.7,642.3C242.2,639.3 241.6,635.3 240.7,632.5C239.9,629.7 239.0,627.5 238.8,625.7C238.6,623.9 239.0,622.7 239.8,621.8Z" fill="#eeee10"/>
<path d="M228.0,632.5C229.7,618.3 235.2,631.8 237.8,633.5C240.4,635.1 242.0,639.2 243.7,642.3C245.3,645.4 247.9,649.8 247.6,652.0C247.3,654.3 243.3,654.3 241.7,655.9C240.1,657.6 237.5,659.8 237.8,661.8C238.1,663.8 241.9,665.4 243.7,667.7C245.5,669.9 247.3,672.2 248.6,675.5C249.9,678.7 251.3,683.9 251.5,687.2C251.6,690.4 250.3,692.7 249.5,695.0C248.7,697.3 246.0,698.9 246.6,700.9C247.3,702.8 250.0,705.1 253.4,706.7C256.9,708.3 264.8,708.7 267.1,710.6C269.4,712.6 273.6,717.1 267.1,718.4C260.6,719.7 234.6,732.8 228.0,718.4C221.5,704.1 226.4,646.7 228.0,632.5Z" fill="#eeee10"/>
<path d="M466.4,617.9C467.1,617.0 469.7,615.7 472.3,615.9C474.9,616.1 478.8,617.5 482.0,618.8C485.3,620.1 489.0,622.1 491.8,623.7C494.6,625.3 497.2,627.0 498.6,628.6C500.1,630.2 501.1,632.7 500.6,633.5C500.1,634.3 497.8,634.3 495.7,633.5C493.6,632.7 490.8,630.2 487.9,628.6C485.0,627.0 481.4,624.9 478.1,623.7C474.9,622.5 470.3,622.1 468.4,621.2C466.4,620.2 465.8,618.7 466.4,617.9Z" fill="#eeee10"/>
<path d="M476.2,631.5C476.7,630.4 478.1,629.1 480.1,629.6C482.0,630.1 485.6,633.0 487.9,634.5C490.2,635.9 492.3,636.9 493.8,638.4C495.2,639.8 496.7,641.8 496.7,643.2C496.7,644.7 495.2,646.8 493.8,647.1C492.3,647.5 490.0,646.3 487.9,645.2C485.8,644.1 482.8,641.8 481.1,640.3C479.3,638.8 478.0,637.9 477.1,636.4C476.3,634.9 475.7,632.7 476.2,631.5Z" fill="#eeee10"/>
<path d="M495.7,595.4C496.2,594.1 498.1,593.4 499.6,593.4C501.1,593.4 503.4,594.1 504.5,595.4C505.6,596.7 506.3,599.6 506.4,601.2C506.6,602.9 505.0,603.7 505.5,605.2C506.0,606.6 508.1,608.1 509.4,610.0C510.7,612.0 512.5,614.9 513.3,616.9C514.1,618.8 514.7,620.6 514.3,621.8C513.8,622.9 512.1,624.0 510.4,623.7C508.6,623.4 505.6,621.6 503.5,619.8C501.4,618.0 499.0,615.2 497.7,613.0C496.3,610.7 495.5,608.1 495.3,606.1C495.1,604.2 496.6,603.0 496.7,601.2C496.7,599.5 495.2,596.7 495.7,595.4Z" fill="#eeee10"/>
<path d="M480.1,655.9C480.3,655.3 482.0,654.5 483.0,655.0C484.0,655.4 485.7,657.9 485.9,658.9C486.2,659.8 485.1,660.8 484.4,660.8C483.7,660.8 482.4,659.7 481.6,658.9C480.9,658.1 479.9,656.6 480.1,655.9Z" fill="#eeee10"/>
<path d="M487.9,669.6C488.4,668.8 490.5,668.3 491.8,668.6C493.1,669.0 494.9,670.3 495.7,671.6C496.5,672.9 495.7,675.5 496.7,676.4C497.7,677.4 499.9,676.6 501.6,677.4C503.2,678.2 505.3,679.7 506.4,681.3C507.6,683.0 508.2,685.2 508.4,687.2C508.6,689.1 508.6,692.6 507.4,693.0C506.3,693.5 503.2,690.8 501.6,690.1C499.9,689.5 498.6,688.3 497.7,689.1C496.7,690.0 496.4,693.0 495.7,695.0C495.1,697.0 494.7,699.2 493.8,700.9C492.8,702.5 491.5,704.1 489.8,704.8C488.2,705.4 485.6,704.1 484.0,704.8C482.4,705.4 481.4,707.0 480.1,708.7C478.8,710.3 477.3,714.9 476.2,714.5C475.0,714.2 473.4,709.3 473.2,706.7C473.1,704.1 474.4,701.5 475.2,698.9C476.0,696.3 477.0,693.7 478.1,691.1C479.3,688.5 480.4,685.1 482.0,683.3C483.7,681.5 486.3,681.5 487.9,680.4C489.5,679.2 491.6,677.6 491.8,676.4C492.0,675.3 489.5,674.7 488.9,673.5C488.2,672.4 487.4,670.4 487.9,669.6Z" fill="#eeee10"/>
<path d="M411.7,675.5C412.4,674.0 414.2,671.9 415.6,671.6C417.1,671.2 419.0,672.2 420.5,673.5C422.0,674.8 422.9,677.4 424.4,679.4C425.9,681.3 427.7,683.3 429.3,685.2C430.9,687.2 433.2,689.1 434.2,691.1C435.2,693.0 435.6,695.5 435.2,697.0C434.7,698.4 432.9,699.7 431.2,699.9C429.6,700.0 427.3,699.2 425.4,697.9C423.4,696.6 421.3,694.2 419.5,692.1C417.7,690.0 416.0,687.2 414.6,685.2C413.3,683.3 412.2,682.0 411.7,680.4C411.2,678.7 411.1,676.9 411.7,675.5Z" fill="#eeee10"/>
<path d="M476.9,553.5C477.4,552.8 479.4,551.9 480.6,552.3C481.9,552.6 484.4,554.6 484.4,555.5C484.4,556.5 481.8,557.9 480.6,558.0C479.5,558.2 478.0,557.3 477.4,556.5C476.8,555.8 476.3,554.2 476.9,553.5Z" fill="#eeee10"/>
<path d="M542.0,461.5C542.4,460.3 544.9,456.1 547.0,454.0C549.1,451.9 552.0,450.7 554.5,449.0C557.0,447.3 560.3,445.9 562.0,444.0C563.7,442.1 562.4,439.2 564.5,437.8C566.6,436.3 571.2,435.9 574.5,435.2C577.8,434.6 582.0,435.2 584.5,434.0C587.0,432.8 587.4,429.6 589.5,427.8C591.6,425.9 594.1,423.6 597.0,422.8C599.9,421.9 603.7,422.1 607.0,422.8C610.3,423.4 614.3,424.8 617.0,426.5C619.7,428.2 621.6,430.2 623.2,432.8C624.9,435.2 626.6,438.4 627.0,441.5C627.4,444.6 626.3,448.5 625.8,451.5C625.2,454.5 625.3,456.6 623.6,459.5C621.9,462.5 617.9,466.7 615.8,469.3C613.7,471.9 611.4,472.9 610.9,475.2C610.4,477.4 612.4,480.4 612.9,483.0C613.3,485.6 614.2,488.5 613.8,490.8C613.5,493.1 610.6,494.7 610.9,496.6C611.2,498.6 614.8,500.2 615.8,502.5C616.8,504.8 616.4,507.7 616.8,510.3C617.1,512.9 617.1,515.5 617.7,518.1C618.4,520.7 620.7,523.7 620.7,525.9C620.7,528.2 619.2,529.8 617.7,531.8C616.3,533.8 613.8,536.0 611.9,537.7C609.9,539.3 607.3,539.9 606.0,541.6C604.7,543.2 604.7,545.5 604.1,547.4C603.4,549.4 603.7,552.1 602.1,553.3C600.5,554.4 597.2,553.6 594.3,554.3C591.4,554.9 587.8,556.4 584.5,557.2C581.3,558.0 576.7,557.8 574.8,559.1C572.8,560.4 573.3,562.7 572.8,565.0C572.3,567.3 571.8,570.0 571.8,572.8C571.8,575.6 572.7,579.4 572.8,582.0C572.9,584.6 574.6,586.5 572.3,588.6C569.9,590.7 562.8,594.5 558.6,594.5C554.4,594.5 550.0,590.7 546.9,588.6C543.7,586.5 541.1,584.5 539.6,582.0C538.1,579.5 538.6,575.6 537.7,573.8C536.7,571.9 535.1,570.7 533.8,570.9C532.4,571.0 531.5,573.8 529.8,574.8C528.2,575.7 525.6,577.0 524.0,576.7C522.4,576.4 520.6,574.8 520.1,572.8C519.6,570.9 520.7,567.3 521.1,565.0C521.4,562.7 521.4,561.1 522.0,559.1C522.7,557.2 524.0,554.9 525.0,553.3C525.9,551.7 528.4,550.4 527.9,549.4C527.4,548.4 524.3,548.2 522.0,547.4C519.8,546.6 516.8,545.5 514.2,544.5C511.6,543.5 509.0,542.4 506.4,541.6C503.8,540.7 501.2,540.3 498.6,539.6C496.0,539.0 492.7,538.6 490.8,537.7C488.8,536.7 487.4,535.1 486.9,533.8C486.4,532.4 486.2,530.8 487.9,529.8C489.5,528.9 493.5,528.7 496.6,527.9C499.7,527.1 503.5,525.3 506.4,525.0C509.3,524.6 511.6,525.3 514.2,525.9C516.8,526.6 519.8,527.7 522.0,528.9C524.3,530.0 525.6,531.5 527.9,532.8C530.2,534.1 533.4,535.5 535.7,536.7C538.0,537.8 539.8,538.3 541.6,539.6C543.4,540.9 544.8,542.9 546.4,544.5C548.1,546.1 549.2,548.3 551.3,549.4C553.4,550.4 556.5,550.8 559.1,550.9C561.7,551.1 564.3,550.6 567.0,550.4C569.6,550.1 572.8,550.0 574.8,549.4C576.7,548.7 577.9,547.7 578.7,546.4C579.5,545.1 578.7,542.5 579.6,541.6C580.6,540.6 582.4,540.6 584.5,540.6C586.6,540.6 590.1,541.6 592.3,541.6C594.6,541.6 597.9,541.2 598.2,540.6C598.5,539.9 595.9,538.8 594.3,537.7C592.7,536.5 590.1,535.4 588.4,533.8C586.8,532.1 584.9,529.8 584.5,527.9C584.2,525.9 587.1,523.2 586.5,522.0C585.8,520.9 582.6,521.4 580.6,521.1C578.7,520.7 577.4,520.3 574.8,520.1C572.2,519.9 568.3,520.0 565.0,519.7C561.7,519.4 558.2,518.7 555.2,518.1C552.3,517.5 549.5,517.1 547.4,516.2C545.3,515.2 543.2,513.9 542.5,512.3C541.9,510.6 542.9,508.4 543.5,506.4C544.2,504.5 545.8,502.8 546.4,500.5C547.1,498.3 547.7,495.3 547.4,492.7C547.1,490.1 544.8,487.5 544.5,484.9C544.2,482.3 545.8,479.7 545.5,477.1C545.1,474.5 542.7,471.9 542.5,469.3C542.4,466.7 544.6,462.8 544.5,461.5C544.4,460.2 541.6,462.7 542.0,461.5Z" fill="#eeee10"/>
<path d="M576.7,515.2C577.4,513.7 580.3,511.8 582.6,510.3C584.9,508.8 587.8,507.2 590.4,506.4C593.0,505.6 596.4,504.9 598.2,505.4C600.0,505.9 601.0,507.7 601.1,509.3C601.3,511.0 600.6,513.4 599.2,515.2C597.7,517.0 594.8,519.1 592.3,520.1C589.9,521.1 586.8,521.2 584.5,521.1C582.3,520.9 580.0,520.1 578.7,519.1C577.4,518.1 576.1,516.7 576.7,515.2Z" fill="#fee1aa"/>
<path d="M453.7,502.5C453.8,500.7 455.0,498.6 456.6,496.6C458.2,494.7 461.0,492.9 463.4,490.8C465.9,488.7 469.0,486.1 471.2,483.9C473.5,481.8 475.2,479.4 477.1,478.1C479.1,476.8 481.2,475.8 483.0,476.1C484.8,476.5 486.7,478.4 487.9,480.0C489.0,481.7 488.0,484.8 489.8,485.9C491.6,487.0 496.2,486.1 498.6,486.9C501.0,487.7 503.3,488.8 504.5,490.8C505.6,492.7 505.8,496.0 505.4,498.6C505.1,501.2 502.2,504.0 502.5,506.4C502.8,508.8 507.1,511.5 507.4,513.2C507.7,515.0 506.2,516.2 504.5,517.1C502.7,518.1 499.2,518.3 496.6,519.1C494.0,519.9 491.8,521.4 488.8,522.0C485.9,522.7 482.0,523.3 479.1,523.0C476.1,522.7 473.5,521.4 471.2,520.1C469.0,518.8 467.0,517.0 465.4,515.2C463.8,513.4 463.1,510.6 461.5,509.3C459.9,508.0 456.9,508.5 455.6,507.4C454.3,506.2 453.5,504.3 453.7,502.5Z" fill="#eeee10"/>
<path d="M477.1,555.2C477.0,554.5 479.0,552.9 480.0,552.9C481.1,552.9 483.3,554.5 483.4,555.2C483.4,556.0 481.5,557.6 480.4,557.6C479.4,557.6 477.2,556.0 477.1,555.2Z" fill="#eeee10"/>
<path d="M367.2,514.0C367.2,511.9 368.3,509.4 369.8,507.8C371.2,506.1 373.7,505.2 376.0,504.0C378.3,502.8 381.6,500.2 383.5,500.2C385.4,500.2 385.8,502.5 387.2,504.0C388.7,505.5 390.6,507.3 392.2,509.0C393.9,510.7 396.2,512.1 397.2,514.0C398.3,515.9 399.3,518.6 398.5,520.2C397.7,521.9 394.8,523.2 392.2,524.0C389.8,524.8 386.4,525.2 383.5,525.2C380.6,525.2 377.0,524.8 374.8,524.0C372.5,523.2 371.0,521.9 369.8,520.2C368.5,518.6 367.2,516.1 367.2,514.0Z" fill="#eeee10"/>
<path d="M507.0,526.5C511.3,523.9 517.8,524.8 522.0,525.2C526.2,525.7 528.7,527.1 532.0,529.0C535.3,530.9 539.5,533.7 542.0,536.5C544.5,539.3 546.4,545.1 547.0,546.0C547.6,546.9 545.6,541.3 545.9,541.7C546.2,542.1 548.7,546.3 548.8,548.6C549.0,550.8 548.5,553.6 546.9,555.4C545.2,557.2 542.0,559.0 539.1,559.3C536.1,559.6 531.9,558.3 529.3,557.3C526.7,556.4 525.1,554.9 523.4,553.4C521.8,552.0 521.5,549.9 519.5,548.6C517.6,547.3 514.3,546.6 511.7,545.6C509.1,544.6 506.5,543.5 503.9,542.7C501.3,541.9 495.6,543.4 496.1,540.7C496.6,538.0 502.7,529.1 507.0,526.5Z" fill="#eeee10"/>
<path d="M519.5,548.6C515.8,550.5 522.9,551.3 523.4,553.4C523.9,555.6 523.1,558.8 522.5,561.2C521.8,563.7 519.5,566.0 519.5,568.1C519.5,570.2 520.8,572.6 522.5,573.9C524.1,575.2 526.7,575.4 529.3,575.9C531.9,576.4 535.8,576.1 538.1,576.9C540.4,577.7 541.2,579.8 543.0,580.8C544.8,581.8 548.2,581.4 548.8,582.7C549.5,584.0 548.0,586.5 546.9,588.6C545.7,590.7 543.5,593.2 542.0,595.4C540.5,597.7 538.7,599.8 538.1,602.3C537.4,604.7 537.6,607.5 538.1,610.1C538.6,612.7 540.9,615.6 541.0,617.9C541.2,620.2 540.2,623.1 539.1,623.8C537.9,624.4 536.1,622.0 534.2,621.8C532.2,621.6 529.0,621.8 527.3,622.8C525.7,623.8 525.2,625.5 524.4,627.7C523.6,629.8 522.6,633.2 522.5,635.5C522.3,637.7 522.3,639.9 523.4,641.3C524.6,642.8 527.3,643.9 529.3,644.3C531.2,644.6 533.4,644.1 535.2,643.3C536.9,642.5 538.9,641.0 540.0,639.4C541.2,637.7 541.3,635.5 542.0,633.5C542.6,631.6 543.0,628.3 543.9,627.7C544.9,627.0 546.7,628.5 547.9,629.6C549.0,630.7 549.8,632.9 550.8,634.5C551.8,636.1 553.7,637.7 553.7,639.4C553.7,641.0 552.1,643.0 550.8,644.3C549.5,645.6 546.9,645.7 545.9,647.2C544.9,648.7 544.4,651.3 544.9,653.0C545.4,654.8 546.9,656.6 548.8,657.9C550.8,659.2 554.0,660.5 556.6,660.9C559.2,661.2 561.8,660.0 564.5,659.9C567.1,659.7 570.0,659.4 572.3,659.9C574.5,660.4 578.1,661.7 578.1,662.8C578.1,664.0 574.6,666.7 572.3,666.7C569.9,666.7 565.0,662.5 563.9,662.8C562.9,663.1 565.4,666.7 565.9,668.6C566.4,670.6 567.0,672.2 566.9,674.5C566.7,676.8 565.6,679.7 564.9,682.3C564.3,684.9 563.1,687.5 563.0,690.1C562.8,692.7 563.1,695.7 563.9,697.9C564.8,700.2 566.1,702.2 567.9,703.8C569.6,705.4 572.6,705.8 574.7,707.7C576.8,709.7 544.5,713.4 580.5,715.5C616.6,717.6 755.2,722.0 791.2,720.2C827.2,718.3 794.7,708.7 796.5,704.4C798.2,700.0 800.2,697.3 801.7,693.8C803.3,690.3 804.6,686.8 805.7,683.3C806.8,679.8 808.3,675.8 808.3,672.8C808.3,669.7 807.2,666.8 805.7,664.9C804.1,662.9 802.4,661.6 799.1,660.9C795.8,660.2 789.9,660.5 785.9,660.9C782.0,661.3 779.3,662.7 775.4,663.5C771.4,664.4 766.6,665.9 762.2,666.2C757.8,666.4 753.0,665.3 749.0,664.9C745.1,664.4 742.5,664.0 738.5,663.5C734.6,663.1 728.4,663.1 725.3,662.2C722.3,661.3 720.3,659.6 720.1,658.3C719.9,657.0 721.8,655.6 724.0,654.3C726.2,653.0 730.8,652.1 733.2,650.4C735.7,648.6 737.4,646.0 738.5,643.8C739.6,641.6 738.5,639.0 739.8,637.2C741.1,635.4 743.6,634.3 746.4,633.2C749.3,632.1 753.7,631.7 757.0,630.6C760.2,629.5 764.4,628.2 766.2,626.7C767.9,625.1 767.9,623.4 767.5,621.4C767.0,619.4 764.2,617.2 763.5,614.8C762.9,612.4 764.0,609.3 763.5,606.9C763.1,604.5 762.4,601.6 760.9,600.3C759.4,599.0 755.9,598.4 754.3,599.0C752.8,599.7 752.1,602.3 751.7,604.3C751.2,606.3 753.0,609.1 751.7,610.9C750.4,612.6 746.0,613.1 743.8,614.8C741.6,616.6 740.7,619.9 738.5,621.4C736.3,622.9 733.7,623.8 730.6,624.0C727.5,624.2 724.0,622.9 720.1,622.7C716.1,622.5 710.9,622.3 706.9,622.7C703.0,623.2 697.9,624.5 696.4,625.3C694.8,626.2 698.1,626.4 697.7,628.0C697.3,629.5 696.6,633.7 693.7,634.6C690.9,635.4 684.5,633.0 680.6,633.2C676.6,633.5 671.7,634.5 670.0,635.9C668.3,637.2 670.0,638.8 670.4,641.3C670.8,643.8 671.7,648.1 672.3,651.1C673.0,654.0 674.6,656.8 674.3,658.9C674.0,661.0 672.0,662.6 670.4,663.8C668.8,664.9 666.8,665.9 664.5,665.7C662.3,665.5 659.6,663.6 656.7,662.8C653.8,662.0 649.2,661.5 647.0,660.8C644.7,660.2 642.7,659.2 643.0,658.9C643.4,658.5 647.3,659.5 648.9,658.9C650.5,658.2 652.5,656.4 652.8,655.0C653.1,653.5 652.5,651.2 650.9,650.1C649.2,648.9 646.0,648.5 643.0,648.1C640.1,647.8 635.6,648.4 633.3,648.1C631.0,647.9 628.1,647.6 629.4,646.8C630.7,646.0 637.8,644.5 641.1,643.2C644.3,642.0 647.0,641.0 648.9,639.3C650.9,637.7 651.8,635.8 652.8,633.5C653.8,631.2 654.3,628.3 654.8,625.7C655.3,623.1 656.1,619.2 655.7,617.9C655.3,616.6 654.2,618.3 652.3,617.9C650.5,617.5 647.1,616.0 644.5,615.5C641.9,615.1 639.3,614.9 636.7,615.0C634.1,615.0 631.2,615.4 628.9,615.9C626.6,616.4 624.8,617.9 623.0,617.9C621.3,617.9 619.5,616.9 618.2,615.9C616.9,615.0 617.4,613.3 615.2,612.0C613.1,610.7 608.7,609.3 605.5,608.1C602.2,607.0 598.6,606.2 595.7,605.2C592.8,604.2 589.7,603.4 587.9,602.3C586.1,601.1 585.9,600.0 585.0,598.4C584.0,596.7 583.3,594.6 582.0,592.5C580.7,590.4 578.6,587.9 577.1,585.7C575.7,583.4 574.1,581.3 573.2,578.8C572.4,576.4 572.4,573.5 572.3,571.0C572.1,568.6 571.8,566.0 572.3,564.2C572.8,562.4 573.6,561.2 575.2,560.3C576.8,559.3 579.3,558.8 582.0,558.3C584.8,557.8 588.9,557.8 591.8,557.3C594.7,556.9 597.5,556.4 599.6,555.4C601.7,554.4 603.8,552.9 604.5,551.5C605.1,550.0 603.4,548.2 603.5,546.6C603.7,545.0 606.4,542.9 605.5,541.7C604.5,540.6 599.9,539.9 597.7,539.8C595.4,539.6 593.8,540.7 591.8,540.7C589.8,540.7 588.1,539.6 585.9,539.8C583.8,539.9 580.7,540.3 579.1,541.7C577.5,543.2 578.0,547.1 576.2,548.6C574.4,550.0 571.3,550.2 568.4,550.5C565.4,550.8 561.8,550.8 558.6,550.5C555.3,550.2 550.9,550.0 548.8,548.6C546.7,547.1 550.8,541.7 545.9,541.7C541.0,541.7 523.3,546.6 519.5,548.6Z" fill="#eeee10"/>
<path d="M571.8,625.7C572.4,624.5 575.8,623.4 578.6,622.7C581.4,622.1 585.6,621.3 588.4,621.8C591.1,622.3 594.5,624.4 595.2,625.7C595.8,626.9 594.4,628.5 592.3,629.2C590.1,629.8 585.4,629.4 582.5,629.6C579.6,629.7 576.5,630.6 574.7,630.0C572.9,629.3 571.1,626.9 571.8,625.7Z" fill="#fee1aa"/>
<path d="M604.0,629.6C604.8,628.8 607.6,627.8 609.8,627.6C612.1,627.5 616.4,628.0 617.7,628.6C619.0,629.3 618.6,630.7 617.7,631.5C616.7,632.3 613.9,633.3 611.8,633.5C609.7,633.6 606.3,633.2 605.0,632.5C603.7,631.9 603.2,630.4 604.0,629.6Z" fill="#fee1aa"/>
<path d="M581.5,654.0C582.2,652.2 584.6,649.6 586.4,648.1C588.2,646.7 590.8,645.0 592.3,645.2C593.7,645.4 594.9,647.8 595.2,649.1C595.5,650.4 595.4,651.7 594.2,653.0C593.1,654.3 590.3,655.9 588.4,656.9C586.4,657.9 583.6,659.4 582.5,658.9C581.4,658.4 580.9,655.8 581.5,654.0Z" fill="#fee1aa"/>
<path d="M604.0,657.9C605.3,656.1 609.5,653.5 611.8,652.0C614.1,650.6 615.4,649.4 617.7,649.1C619.9,648.8 624.0,648.8 625.5,650.1C626.9,651.4 626.0,654.5 626.4,656.9C626.9,659.4 628.4,662.1 628.4,664.7C628.4,667.3 626.9,669.9 626.4,672.5C626.0,675.2 625.5,678.1 625.5,680.4C625.5,682.6 627.1,685.4 626.4,686.2C625.8,687.0 623.4,686.2 621.6,685.2C619.8,684.3 617.5,682.1 615.7,680.4C613.9,678.6 612.3,676.5 610.8,674.5C609.4,672.5 608.1,670.6 606.9,668.6C605.8,666.7 604.5,664.6 604.0,662.8C603.5,661.0 602.7,659.7 604.0,657.9Z" fill="#fee1aa"/>
<path d="M593.2,688.2C593.9,687.0 595.8,685.9 597.1,686.2C598.5,686.5 599.9,688.5 601.1,690.1C602.2,691.8 602.8,694.0 604.0,696.0C605.1,697.9 606.3,699.9 607.9,701.8C609.5,703.8 612.4,705.4 613.8,707.7C615.1,710.0 619.3,714.2 615.7,715.5C612.1,716.8 595.8,717.1 592.3,715.5C588.7,713.9 593.7,708.7 594.2,705.8C594.7,702.8 595.4,700.1 595.2,697.9C595.0,695.8 593.6,694.7 593.2,693.1C592.9,691.4 592.6,689.3 593.2,688.2Z" fill="#fee1aa"/>
<path d="M637.2,690.1C638.3,689.5 640.8,689.0 642.1,689.1C643.4,689.3 645.2,690.3 645.0,691.1C644.8,691.9 642.2,692.9 641.1,694.0C640.0,695.2 638.8,696.3 638.2,697.9C637.5,699.6 637.8,702.8 637.2,703.8C636.5,704.8 634.8,704.8 634.3,703.8C633.7,702.8 633.5,699.7 633.7,697.9C633.8,696.1 634.6,694.4 635.2,693.1C635.8,691.8 636.0,690.8 637.2,690.1Z" fill="#fee1aa"/>
<path d="M522.9,633.5C523.4,631.4 524.4,627.5 525.9,625.7C527.3,623.9 529.8,622.9 531.7,622.7C533.7,622.6 536.0,623.6 537.6,624.7C539.2,625.8 540.7,627.6 541.5,629.6C542.3,631.5 543.1,634.5 542.5,636.4C541.8,638.4 539.4,639.9 537.6,641.3C535.8,642.7 533.7,644.5 531.7,644.8C529.8,645.1 527.3,644.3 525.9,643.2C524.4,642.2 523.4,640.0 522.9,638.4C522.4,636.7 522.4,635.6 522.9,633.5Z" fill="#eeee10"/>
<path d="M679.3,559.5C679.7,557.7 683.0,556.4 685.8,556.9C688.7,557.3 693.7,560.4 696.4,562.1C699.0,563.9 700.3,567.4 701.6,567.4C703.0,567.4 704.5,564.3 704.3,562.1C704.1,559.9 700.3,556.3 700.3,554.2C700.3,552.1 702.5,549.7 704.3,549.5C706.0,549.3 708.9,551.7 710.9,552.9C712.8,554.1 714.2,557.1 716.1,556.9C718.1,556.7 720.7,552.6 722.7,551.6C724.7,550.6 726.8,550.2 728.0,551.1C729.2,552.0 730.3,554.4 730.1,556.9C729.9,559.4 728.3,563.5 726.7,566.1C725.0,568.7 722.5,570.9 720.1,572.7C717.7,574.4 714.2,575.1 712.2,576.6C710.2,578.2 708.4,579.7 708.2,581.9C708.0,584.1 709.8,587.6 710.9,589.8C712.0,592.0 714.8,593.7 714.8,595.1C714.8,596.4 712.6,597.7 710.9,597.7C709.1,597.7 706.7,596.2 704.3,595.1C701.9,593.9 698.9,591.6 696.4,590.6C693.8,589.6 690.8,588.7 689.0,589.0C687.2,589.3 687.5,591.3 685.8,592.4C684.2,593.6 681.7,595.4 679.3,595.8C676.8,596.3 673.1,595.8 671.4,595.1C669.6,594.3 668.5,592.4 668.7,591.1C668.9,589.8 670.3,587.8 672.7,587.2C675.1,586.5 680.7,587.8 683.2,587.2C685.8,586.5 687.3,585.2 687.9,583.2C688.6,581.2 687.9,577.9 687.2,575.3C686.4,572.7 684.5,570.0 683.2,567.4C681.9,564.8 678.8,561.3 679.3,559.5Z" fill="#eeee10"/>
<path d="M215.7,73.9C216.0,72.9 217.5,72.1 218.6,72.0C219.8,71.8 221.7,72.1 222.5,72.9C223.4,73.7 223.8,75.8 223.5,76.8C223.2,77.9 221.7,79.0 220.6,79.2C219.4,79.3 217.5,78.7 216.7,77.8C215.9,76.9 215.4,74.9 215.7,73.9Z" fill="#f0a00a"/>
<path d="M389.5,42.5C389.5,41.8 391.6,40.8 393.0,40.5C394.4,40.2 396.8,40.5 398.0,40.8C399.2,41.1 400.5,41.9 400.5,42.5C400.5,43.1 399.2,44.1 398.0,44.5C396.8,44.9 394.4,45.1 393.0,44.8C391.6,44.5 389.5,43.2 389.5,42.5Z" fill="#f0a00a"/>
<path d="M772.8,16.0C770.9,17.3 773.0,22.2 773.8,23.9C774.6,25.6 776.2,26.0 777.7,26.2C779.2,26.4 781.3,26.5 782.6,24.8C783.9,23.1 787.1,17.5 785.5,16.0C783.9,14.6 774.8,14.7 772.8,16.0Z" fill="#f0a00a"/>
<path d="M134.6,116.9C134.8,115.6 136.6,113.8 137.6,112.0C138.6,110.2 139.4,107.4 140.5,106.1C141.6,104.8 142.9,104.2 144.4,104.2C145.9,104.2 147.5,106.0 149.3,106.1C151.1,106.3 153.4,106.0 155.2,105.2C156.9,104.3 158.1,102.6 160.0,101.2C162.0,99.9 164.4,98.0 166.9,97.3C169.3,96.7 172.4,96.7 174.7,97.3C177.0,98.0 178.3,99.8 180.5,101.2C182.8,102.7 185.4,104.2 188.4,106.1C191.3,108.1 194.9,110.5 198.1,113.0C201.4,115.4 204.5,118.3 207.9,120.8C211.3,123.2 217.7,126.2 218.6,127.6C219.6,129.1 216.5,129.0 213.8,129.6C211.0,130.1 206.3,130.6 202.0,130.9C197.8,131.3 192.9,131.8 188.4,131.5C183.8,131.3 178.9,130.2 174.7,129.6C170.5,128.9 166.9,128.4 163.0,127.6C159.1,126.8 154.8,125.7 151.2,124.7C147.7,123.7 143.9,122.6 141.5,121.8C139.0,120.9 137.7,120.6 136.6,119.8C135.5,119.0 134.5,118.2 134.6,116.9Z" fill="#f0a00a"/>
<path d="M237.2,121.8C238.0,120.6 243.7,120.6 247.0,119.8C250.2,119.0 254.4,118.2 256.7,116.9C259.0,115.6 259.5,113.5 260.6,112.0C261.8,110.5 262.6,109.6 263.6,108.1C264.5,106.6 266.0,105.0 266.5,103.2C267.0,101.4 265.7,98.8 266.5,97.3C267.3,95.9 269.9,94.7 271.4,94.4C272.8,94.1 274.8,94.4 275.3,95.4C275.8,96.4 274.8,98.8 274.3,100.3C273.8,101.7 272.0,102.7 272.3,104.2C272.7,105.6 274.6,107.3 276.2,109.1C277.9,110.9 280.2,113.3 282.1,114.9C284.1,116.5 286.1,119.0 288.0,118.8C289.9,118.6 290.5,115.0 293.5,113.8C296.5,112.5 301.8,111.9 306.0,111.2C310.2,110.6 314.3,110.0 318.5,110.0C322.7,110.0 327.2,111.2 331.0,111.2C334.8,111.2 338.9,110.8 341.0,110.0C343.1,109.2 344.3,107.7 343.5,106.2C342.7,104.8 338.9,102.5 336.0,101.2C333.1,100.0 328.3,100.0 326.0,98.8C323.7,97.5 322.0,95.0 322.2,93.8C322.5,92.5 325.0,91.2 327.2,91.2C329.5,91.2 332.9,92.3 336.0,93.8C339.1,95.2 342.7,99.0 346.0,100.0C349.3,101.0 352.7,101.0 356.0,100.0C359.3,99.0 362.7,96.2 366.0,93.8C369.3,91.2 373.1,87.7 376.0,85.0C378.9,82.3 381.6,80.4 383.5,77.5C385.4,74.6 385.6,70.4 387.2,67.5C388.9,64.6 390.8,62.3 393.5,60.0C396.2,57.7 399.8,56.0 403.5,53.8C407.2,51.5 412.2,49.0 416.0,46.2C419.8,43.5 422.7,38.8 426.0,37.5C429.3,36.2 432.7,39.2 436.0,38.8C439.3,38.3 444.0,35.4 446.0,35.0C448.0,34.6 445.6,35.8 447.8,36.6C450.1,37.3 456.0,38.3 459.5,39.5C463.1,40.6 466.0,42.6 469.3,43.4C472.6,44.2 476.9,43.1 479.1,44.4C481.2,45.7 480.9,48.9 482.0,51.2C483.1,53.5 484.1,56.6 485.9,58.0C487.7,59.5 490.8,60.5 492.7,60.0C494.7,59.5 497.3,57.2 497.6,55.1C497.9,53.0 496.0,49.2 494.7,47.3C493.4,45.3 490.6,45.0 489.8,43.4C489.0,41.8 489.3,39.8 489.8,37.5C490.3,35.3 491.3,31.7 492.7,29.7C494.2,27.8 496.3,26.8 498.6,25.8C500.9,24.8 504.3,23.7 506.4,23.9C508.5,24.0 510.1,25.3 511.3,26.8C512.4,28.3 512.1,30.9 513.2,32.6C514.4,34.4 516.0,36.9 518.1,37.5C520.2,38.2 523.3,37.4 525.9,36.6C528.5,35.7 531.1,33.8 533.8,32.6C536.4,31.5 539.0,30.2 541.6,29.7C544.2,29.2 546.8,30.0 549.4,29.7C552.0,29.4 554.3,28.6 557.2,27.8C560.1,27.0 563.7,25.6 567.0,24.8C570.2,24.0 574.1,24.7 576.7,22.9C579.3,21.1 551.7,15.6 582.6,14.1C613.5,12.6 732.0,12.0 762.1,14.1C792.1,16.2 763.2,23.5 763.0,26.8C762.9,30.0 762.4,31.5 761.1,33.6C759.8,35.7 757.5,37.7 755.2,39.5C753.0,41.3 750.0,42.7 747.4,44.4C744.8,46.0 741.9,47.1 739.6,49.2C737.3,51.4 735.4,54.6 733.8,57.1C732.1,59.5 731.1,61.9 729.8,63.9C728.5,65.9 727.2,67.0 725.9,68.8C724.6,70.6 723.3,73.0 722.0,74.6C720.7,76.3 719.4,77.6 718.1,78.5C716.8,79.5 716.2,79.5 714.2,80.5C712.3,81.5 709.3,83.3 706.4,84.4C703.5,85.5 699.6,86.2 696.6,87.3C693.7,88.5 691.8,89.9 688.8,91.2C685.9,92.5 682.3,93.7 679.1,95.1C675.8,96.6 671.6,98.2 669.3,100.0C667.0,101.8 664.7,104.3 665.4,105.9C666.0,107.5 670.9,108.5 673.2,109.8C675.5,111.1 677.6,112.1 679.1,113.7C680.5,115.3 681.2,117.8 682.0,119.6C682.8,121.4 684.4,123.1 683.9,124.4C683.5,125.7 681.5,126.6 679.1,127.4C676.6,128.2 672.1,128.4 669.3,129.3C666.5,130.3 663.8,131.6 662.5,133.2C661.2,134.9 662.1,137.1 661.5,139.1C660.8,141.0 660.2,143.8 658.6,145.0C656.9,146.1 654.2,146.3 651.7,145.9C649.3,145.6 649.2,142.9 643.9,143.0C638.6,143.1 625.4,145.7 620.0,146.7C614.6,147.7 614.1,148.2 611.4,149.1C608.7,149.9 606.8,151.2 603.6,152.0C600.3,152.8 595.8,153.3 591.9,153.9C588.0,154.6 584.1,155.1 580.2,155.9C576.2,156.7 572.3,157.9 568.4,158.8C564.5,159.7 560.6,160.5 556.7,161.2C552.8,161.8 548.9,162.0 545.0,162.7C541.1,163.5 536.5,165.0 533.3,165.7C530.0,166.3 528.1,166.8 525.5,166.6C522.9,166.5 520.9,165.3 517.7,164.7C514.4,164.0 509.8,163.2 505.9,162.7C502.0,162.2 497.5,162.1 494.2,161.8C491.0,161.4 488.7,161.6 486.4,160.8C484.1,160.0 482.3,158.7 480.5,156.9C478.8,155.1 477.3,152.2 475.7,150.0C474.0,147.9 472.4,145.5 470.8,144.2C469.2,142.9 467.4,142.1 465.9,142.2C464.4,142.4 463.0,143.7 462.0,145.2C461.0,146.6 460.5,148.4 460.0,151.0C459.6,153.6 459.1,157.9 459.1,160.8C459.1,163.7 459.6,166.0 460.0,168.6C460.5,171.2 462.2,174.5 462.0,176.4C461.8,178.4 460.2,179.2 459.1,180.3C457.9,181.5 457.4,182.4 455.2,183.2C452.9,184.1 449.3,184.2 445.4,185.2C441.5,186.2 436.0,188.0 431.7,189.1C427.5,190.2 417.0,192.6 420.0,192.0C423.0,191.5 447.7,186.5 450.0,185.9C452.3,185.4 438.3,187.9 433.6,188.9C428.9,189.8 425.8,190.7 421.9,191.8C418.0,192.9 414.1,194.7 410.2,195.7C406.2,196.7 401.7,196.7 398.4,197.7C395.2,198.6 393.9,200.7 390.6,201.2C387.4,201.7 382.8,200.8 378.9,200.6C375.0,200.4 371.1,200.0 367.2,200.0C363.3,200.0 359.4,200.7 355.5,200.6C351.6,200.5 347.3,199.5 343.8,199.6C340.2,199.7 337.2,200.8 334.0,201.2C330.7,201.5 327.1,201.8 324.2,201.6C321.3,201.3 319.0,200.3 316.4,199.6C313.8,199.0 311.2,198.1 308.6,197.7C306.0,197.2 303.4,197.7 300.8,196.7C298.2,195.7 295.4,193.2 293.0,191.8C290.5,190.4 288.4,189.1 286.1,188.3C283.9,187.5 281.1,187.8 279.3,186.9C277.5,186.0 276.5,184.5 275.4,183.0C274.3,181.5 273.8,179.3 272.5,178.1C271.2,176.9 269.7,176.0 267.6,175.8C265.5,175.5 261.9,176.8 259.8,176.6C257.6,176.3 255.6,175.2 254.9,174.2C254.2,173.2 254.9,172.0 255.7,170.6C256.5,169.2 258.8,167.5 259.6,165.7C260.5,163.9 261.4,161.3 260.6,159.8C259.8,158.4 257.0,157.6 254.8,156.9C252.5,156.3 249.1,156.8 247.0,155.9C244.8,155.1 243.0,153.8 242.1,152.0C241.1,150.2 240.9,147.5 241.1,145.2C241.3,142.9 242.4,140.5 243.0,138.4C243.7,136.2 245.2,134.5 245.0,132.5C244.8,130.5 243.4,128.4 242.1,126.6C240.8,124.9 236.4,122.9 237.2,121.8Z" fill="#f0a00a"/>
<path d="M950.3,88.9C950.6,88.2 952.0,87.5 953.1,87.2C954.3,86.9 956.4,86.8 957.4,87.2C958.3,87.6 959.0,88.9 958.8,89.6C958.5,90.4 957.1,91.4 955.9,91.7C954.8,92.1 952.7,92.2 951.7,91.7C950.8,91.3 950.1,89.7 950.3,88.9Z" fill="#f0a00a"/>
<path d="M937.0,92.9C937.0,92.5 938.4,92.0 939.1,92.0C939.7,92.1 940.8,92.8 940.8,93.1C940.8,93.5 939.7,94.3 939.1,94.3C938.4,94.2 937.0,93.2 937.0,92.9Z" fill="#f0a00a"/>
<path d="M786.1,80.9C785.9,78.2 786.7,74.9 787.4,72.2C788.0,69.5 788.2,67.0 789.8,64.7C791.5,62.5 794.4,59.8 797.3,58.5C800.2,57.3 803.5,57.1 807.2,57.3C810.9,57.5 815.9,58.9 819.6,59.8C823.3,60.6 826.6,62.0 829.5,62.3C832.4,62.5 833.7,61.6 837.0,61.0C840.3,60.4 845.3,58.9 849.4,58.5C853.5,58.1 858.3,58.7 861.8,58.5C865.3,58.3 868.4,56.9 870.5,57.3C872.5,57.7 874.0,59.4 874.2,61.0C874.4,62.7 872.5,65.1 871.7,67.2C870.9,69.3 868.8,72.0 869.2,73.4C869.6,74.9 871.7,74.9 874.2,75.9C876.7,76.9 881.2,77.8 884.1,79.6C887.0,81.5 889.1,84.2 891.6,87.1C894.0,90.0 896.1,94.5 899.0,97.0C901.9,99.5 905.2,100.7 908.9,101.9C912.6,103.2 918.0,102.8 921.3,104.4C924.6,106.1 927.5,109.4 928.8,111.9C930.0,114.3 930.0,117.4 928.8,119.3C927.5,121.2 923.0,121.4 921.3,123.0C919.7,124.7 917.6,128.0 918.8,129.2C920.1,130.5 925.5,130.7 928.8,130.5C932.1,130.3 935.4,128.8 938.7,128.0C942.0,127.2 946.1,125.1 948.6,125.5C951.1,125.9 952.5,128.2 953.6,130.5C954.6,132.7 955.2,136.7 954.8,139.2C954.4,141.6 950.5,143.3 951.1,145.4C951.7,147.4 955.6,150.1 958.5,151.6C961.4,153.0 965.6,152.6 968.5,154.0C971.4,155.5 974.5,157.8 975.9,160.2C977.4,162.7 978.0,166.6 977.1,168.9C976.3,171.2 972.8,172.2 970.9,173.9C969.1,175.5 966.4,176.8 966.0,178.8C965.6,180.9 968.9,184.0 968.5,186.3C968.0,188.6 964.4,190.6 963.5,192.5C962.6,194.4 963.7,195.8 963.1,197.8C962.4,199.8 961.8,203.1 959.7,204.6C957.7,206.2 953.7,207.2 951.0,207.2C948.2,207.2 945.7,204.7 943.1,204.6C940.5,204.6 937.6,205.5 935.3,206.6C933.0,207.7 931.4,209.7 929.5,211.5C927.5,213.3 924.3,215.4 923.6,217.3C923.0,219.3 923.9,221.7 925.6,223.2C927.2,224.7 930.8,224.7 933.4,226.1C936.0,227.6 940.5,230.4 941.2,232.0C941.8,233.6 939.2,235.7 937.3,235.9C935.3,236.1 932.1,233.8 929.5,233.0C926.9,232.2 923.3,230.9 921.7,231.0C920.0,231.2 918.7,232.6 919.7,233.9C920.7,235.2 924.9,237.2 927.5,238.8C930.1,240.5 933.0,242.1 935.3,243.7C937.6,245.3 939.6,246.8 941.2,248.6C942.8,250.4 944.3,252.2 945.1,254.5C945.9,256.7 946.4,260.0 946.1,262.3C945.7,264.5 944.3,266.2 943.1,268.1C942.0,270.1 940.9,272.4 939.2,274.0C937.6,275.6 934.7,276.8 933.4,277.9C932.1,279.0 930.4,279.2 931.4,280.8C932.4,282.4 936.6,285.2 939.2,287.7C941.8,290.1 944.4,292.5 947.0,295.5C949.7,298.4 952.3,302.3 954.9,305.2C957.5,308.2 960.1,310.4 962.7,313.0C965.3,315.7 967.9,318.6 970.5,320.9C973.1,323.1 976.3,324.9 978.3,326.7C980.2,328.6 983.3,333.0 982.2,332.0C981.1,331.0 972.6,321.4 971.8,320.6C970.9,319.7 975.9,325.0 977.2,326.7C978.6,328.5 980.4,330.2 980.0,330.9C979.5,331.5 976.3,331.1 974.5,330.9C972.7,330.6 970.8,329.5 969.0,329.5C967.2,329.5 964.2,329.8 963.5,330.9C962.8,331.9 964.0,333.7 964.9,335.7C965.8,337.6 967.6,339.8 969.0,342.5C970.4,345.2 972.3,349.4 973.1,352.1C973.9,354.8 974.3,356.9 973.8,359.0C973.4,361.0 971.1,362.4 970.4,364.4C969.7,366.5 969.5,368.8 969.7,371.3C969.9,373.8 971.0,376.8 971.8,379.5C972.6,382.3 973.9,385.5 974.5,387.8C975.1,390.0 975.6,392.1 975.2,393.2C974.7,394.4 973.5,394.8 971.8,394.6C970.0,394.4 967.2,392.8 964.9,391.9C962.6,391.0 960.3,390.0 958.0,389.1C955.8,388.2 953.5,386.8 951.2,386.4C948.9,385.9 946.2,385.9 944.3,386.4C942.5,386.8 940.8,387.5 940.2,389.1C939.6,390.7 940.7,394.2 940.9,396.0C941.1,397.8 941.2,399.5 941.6,400.0C941.9,400.5 941.9,397.9 943.0,399.0C944.1,400.1 946.1,403.8 948.0,406.5C949.9,409.2 952.6,412.5 954.2,415.2C955.9,418.0 955.7,421.3 958.0,422.8C960.3,424.2 964.7,423.2 968.0,424.0C971.3,424.8 975.5,426.1 978.0,427.8C980.5,429.4 983.4,431.3 983.0,434.0C982.6,436.7 978.0,441.9 975.5,444.0C973.0,446.1 969.9,444.8 968.0,446.5C966.1,448.2 964.2,451.1 964.2,454.0C964.2,456.9 966.1,460.7 968.0,464.0C969.9,467.3 973.4,471.1 975.5,474.0C977.6,476.9 979.7,479.0 980.5,481.5C981.3,484.0 982.6,487.5 980.5,489.0C978.4,490.5 971.8,489.4 968.0,490.2C964.2,491.1 960.5,491.7 958.0,494.0C955.5,496.3 955.5,501.1 953.0,504.0C950.5,506.9 946.3,509.0 943.0,511.5C939.7,514.0 937.2,516.9 933.0,519.0C928.8,521.1 923.0,522.3 918.0,524.0C913.0,525.7 906.3,526.5 903.0,529.0C899.7,531.5 900.8,536.2 898.0,539.0C895.2,541.8 888.2,543.6 886.0,546.0C883.8,548.4 886.4,551.9 884.7,553.5C883.0,555.2 879.5,556.0 875.9,556.0C872.4,556.0 867.6,554.6 863.4,553.5C859.2,552.5 854.2,551.0 850.8,549.8C847.5,548.5 845.9,549.9 843.3,546.0C840.7,542.1 838.1,531.8 835.5,526.5C832.9,521.2 829.4,518.2 828.0,514.0C826.6,509.8 827.5,504.9 827.0,501.6C826.5,498.2 826.6,496.0 825.0,493.8C823.4,491.5 819.5,489.8 817.2,487.9C814.9,485.9 812.3,485.0 811.3,482.0C810.4,479.1 811.2,473.9 811.3,470.3C811.5,466.7 812.5,463.8 812.3,460.5C812.1,457.3 810.8,454.0 810.4,450.8C809.9,447.5 810.2,443.9 809.4,441.0C808.6,438.1 805.8,435.8 805.5,433.2C805.1,430.6 807.4,427.7 807.4,425.4C807.4,423.1 806.8,421.5 805.5,419.5C804.2,417.6 801.6,416.0 799.6,413.7C797.7,411.4 796.0,408.1 793.8,405.9C791.5,403.6 787.2,400.5 785.9,400.0C784.6,399.5 786.3,403.6 785.9,402.8C785.6,402.0 784.6,397.6 784.0,395.0C783.3,392.4 782.0,389.2 782.0,387.2C782.0,385.2 782.0,383.5 784.0,382.9C785.9,382.3 790.2,383.6 793.8,383.7C797.3,383.7 802.7,383.8 805.5,383.3C808.2,382.7 809.7,381.7 810.4,380.4C811.0,379.0 810.5,377.6 809.4,375.5C808.2,373.4 805.1,370.3 803.5,367.7C801.9,365.1 800.3,362.4 799.6,359.8C799.0,357.2 799.0,355.0 799.6,352.0C800.3,349.1 802.2,345.5 803.5,342.3C804.8,339.0 806.6,335.8 807.4,332.5C808.2,329.2 808.7,325.8 808.4,322.7C808.1,319.6 806.9,316.9 805.5,313.9C804.0,311.0 801.2,307.9 799.6,305.2C798.0,302.4 796.8,299.9 795.7,297.3C794.6,294.7 793.4,292.5 792.8,289.5C792.1,286.6 791.6,283.0 791.8,279.8C792.0,276.5 792.9,273.8 793.8,270.0C794.6,266.2 795.4,261.2 796.8,257.0C798.1,252.8 800.3,248.7 801.8,244.5C803.2,240.3 803.8,235.8 805.5,232.0C807.2,228.2 809.7,225.3 811.8,222.0C813.8,218.7 816.0,214.6 818.0,212.0C820.0,209.4 821.7,206.6 824.0,206.5C826.3,206.4 829.2,210.0 831.8,211.5C834.4,213.0 837.3,215.1 839.6,215.4C841.9,215.7 843.2,213.6 845.5,213.4C847.8,213.3 851.2,213.4 853.3,214.4C855.4,215.4 856.9,217.8 858.2,219.3C859.5,220.8 859.6,222.2 861.1,223.2C862.6,224.2 864.9,224.5 867.0,225.2C869.1,225.8 872.0,227.4 873.8,227.1C875.6,226.8 877.4,225.2 877.7,223.2C878.0,221.2 876.9,218.0 875.8,215.4C874.6,212.8 873.0,210.5 870.9,207.6C868.8,204.6 865.5,200.7 863.1,197.8C860.6,194.9 857.7,191.9 856.2,190.0C854.8,188.1 855.9,188.1 854.3,186.3C852.8,184.4 849.6,181.3 846.9,178.8C844.2,176.4 840.5,174.3 838.2,171.4C835.9,168.5 833.9,164.8 833.3,161.5C832.6,158.2 835.3,154.9 834.5,151.6C833.7,148.3 829.7,144.9 828.3,141.6C826.9,138.3 826.9,134.8 825.8,131.7C824.8,128.6 822.5,125.9 822.1,123.0C821.7,120.1 823.3,117.4 823.3,114.3C823.3,111.2 823.5,107.3 822.1,104.4C820.6,101.5 817.1,99.0 814.7,97.0C812.2,94.9 810.1,93.1 807.2,92.0C804.3,91.0 800.4,91.4 797.3,90.8C794.2,90.2 790.5,90.0 788.6,88.3C786.7,86.6 786.3,83.5 786.1,80.9Z" fill="#f0a00a"/>
<path d="M759.6,307.1C760.1,305.6 761.0,304.2 762.5,303.2C764.0,302.2 766.2,300.9 768.4,300.9C770.5,300.9 772.9,301.5 775.2,303.2C777.5,304.9 779.9,308.4 782.0,311.0C784.1,313.6 786.3,316.2 787.9,318.8C789.5,321.4 791.5,323.7 791.8,326.6C792.1,329.6 790.5,332.8 789.8,336.4C789.2,340.0 788.5,344.5 787.9,348.1C787.2,351.7 786.9,355.0 785.9,357.9C785.0,360.8 783.3,363.1 782.0,365.7C780.7,368.3 779.1,371.2 778.1,373.5C777.1,375.8 777.8,377.7 776.2,379.4C774.5,381.0 771.0,382.5 768.4,383.3C765.8,384.1 762.7,384.6 760.5,384.3C758.4,383.9 756.6,382.8 755.7,381.3C754.7,379.9 754.4,377.7 754.7,375.5C755.0,373.2 757.3,370.3 757.6,367.7C757.9,365.1 756.2,362.4 756.6,359.8C757.1,357.2 759.6,355.0 760.5,352.0C761.5,349.1 762.2,345.8 762.5,342.3C762.8,338.7 762.3,334.5 762.1,330.5C761.9,326.6 761.9,321.9 761.5,318.8C761.1,315.7 759.9,313.9 759.6,312.0C759.2,310.0 759.1,308.6 759.6,307.1Z" fill="#f0a00a"/>
<path d="M999.2,462.0C999.9,461.3 1002.2,460.3 1004.2,460.2C1006.3,460.2 1010.3,460.9 1011.8,461.5C1013.2,462.1 1013.8,463.4 1013.0,464.0C1012.2,464.6 1008.8,465.2 1006.8,465.2C1004.7,465.3 1001.8,465.0 1000.5,464.5C999.2,464.0 998.6,462.7 999.2,462.0Z" fill="#f0a00a"/>
<path d="M794.3,44.9C794.6,44.3 796.0,43.6 796.8,43.6C797.5,43.7 798.7,44.7 798.8,45.4C798.9,46.1 798.0,47.5 797.3,47.9C796.6,48.2 795.3,47.9 794.8,47.4C794.3,46.9 794.0,45.5 794.3,44.9Z" fill="#f0a00a"/>
<path d="M815.9,73.4C816.9,72.0 821.5,71.8 824.6,72.2C827.7,72.6 831.6,76.1 834.5,75.9C837.4,75.7 839.0,72.0 841.9,70.9C844.8,69.9 849.8,69.1 851.9,69.7C853.9,70.3 855.2,73.2 854.3,74.7C853.5,76.1 849.8,77.3 846.9,78.4C844.0,79.4 840.3,80.2 837.0,80.9C833.7,81.5 830.2,82.1 827.1,82.1C824.0,82.1 820.2,82.3 818.4,80.9C816.5,79.4 814.9,74.9 815.9,73.4Z" fill="#eeee10"/>
<path d="M899.1,147.0C899.3,146.0 902.6,146.0 905.2,145.0C907.9,143.9 911.9,141.9 914.8,140.9C917.8,139.8 920.6,139.0 923.1,138.8C925.6,138.6 928.7,138.9 929.9,139.5C931.2,140.1 931.5,141.2 930.6,142.2C929.7,143.3 926.6,144.6 924.4,145.7C922.3,146.7 919.9,147.5 917.6,148.4C915.3,149.3 913.0,150.7 910.7,151.1C908.4,151.6 905.8,151.8 903.9,151.1C901.9,150.4 898.9,148.1 899.1,147.0Z" fill="#eeee10"/>
<path d="M871.7,146.3C872.1,145.7 874.3,145.0 875.8,145.0C877.3,145.0 879.5,145.7 880.6,146.3C881.6,147.0 882.4,148.4 881.9,149.1C881.5,149.8 879.3,150.4 877.8,150.4C876.3,150.4 874.1,149.8 873.0,149.1C872.0,148.4 871.2,147.0 871.7,146.3Z" fill="#eeee10"/>
<path d="M925.8,152.5C926.7,151.7 929.0,151.6 931.3,151.8C933.6,152.0 936.8,153.6 939.5,153.9C942.3,154.1 945.2,153.6 947.8,153.2C950.3,152.7 952.8,150.8 954.6,151.1C956.4,151.5 958.5,154.1 958.7,155.2C959.0,156.4 957.4,156.8 956.0,158.0C954.6,159.1 952.3,160.7 950.5,162.1C948.7,163.5 945.5,164.8 945.0,166.2C944.6,167.6 947.8,169.0 947.8,170.3C947.8,171.7 946.4,173.5 945.0,174.4C943.6,175.4 941.4,175.9 939.5,175.8C937.7,175.7 935.4,174.9 934.0,173.8C932.7,172.6 932.7,170.2 931.3,169.0C929.9,167.7 928.1,166.7 925.8,166.2C923.5,165.8 918.3,166.6 917.6,166.2C916.9,165.9 920.1,164.8 921.7,164.2C923.3,163.5 926.5,163.4 927.2,162.1C927.9,160.8 926.0,158.2 925.8,156.6C925.6,155.0 924.9,153.3 925.8,152.5Z" fill="#eeee10"/>
<path d="M928.6,155.9C929.2,155.4 931.1,154.6 932.7,154.6C934.3,154.6 936.8,155.2 938.2,155.9C939.5,156.6 941.1,157.9 940.9,158.7C940.7,159.4 938.4,160.2 936.8,160.5C935.2,160.7 932.7,160.5 931.3,160.0C929.9,159.6 929.0,158.7 928.6,158.0C928.1,157.3 927.9,156.5 928.6,155.9Z" fill="#fee1aa"/>
<path d="M934.7,170.3C935.3,169.6 937.4,168.8 938.8,169.0C940.3,169.1 943.1,170.2 943.6,171.0C944.2,171.8 943.2,173.2 942.3,173.8C941.4,174.3 939.3,174.6 938.2,174.4C937.0,174.3 935.7,173.8 935.1,173.1C934.6,172.4 934.1,171.0 934.7,170.3Z" fill="#fee1aa"/>
<path d="M914.2,181.3C914.8,180.6 917.0,179.8 919.0,179.9C920.9,180.0 923.5,181.2 925.8,182.0C928.1,182.8 930.8,183.7 932.7,184.7C934.5,185.8 936.6,187.2 936.8,188.2C937.0,189.1 935.6,190.0 934.0,190.2C932.4,190.4 929.5,190.1 927.2,189.5C924.9,189.0 922.4,187.7 920.3,186.8C918.3,185.9 915.9,185.0 914.8,184.0C913.8,183.1 913.5,182.0 914.2,181.3Z" fill="#eeee10"/>
<path d="M925.8,184.7C925.9,184.3 927.6,183.9 928.6,184.0C929.5,184.2 931.0,185.0 931.3,185.4C931.6,185.9 931.2,186.6 930.6,186.8C930.0,187.0 928.7,186.9 927.9,186.5C927.1,186.2 925.7,185.1 925.8,184.7Z" fill="#fee1aa"/>
<path d="M923.1,201.9C923.1,201.2 926.3,200.5 928.6,200.5C930.8,200.5 934.3,201.2 936.8,201.9C939.3,202.6 942.7,203.8 943.6,204.6C944.6,205.4 943.6,206.4 942.3,206.7C940.9,206.9 937.7,206.3 935.4,206.0C933.1,205.6 930.6,205.3 928.6,204.6C926.5,203.9 923.1,202.6 923.1,201.9Z" fill="#eeee10"/>
<path d="M947.8,139.5C948.9,138.5 950.5,137.3 951.9,136.7C953.2,136.2 954.4,135.9 956.0,136.1C957.6,136.2 959.6,136.9 961.5,137.4C963.3,138.0 965.6,138.3 967.0,139.5C968.3,140.6 969.5,142.6 969.7,144.3C969.9,146.0 969.2,148.3 968.3,149.8C967.4,151.2 965.8,152.3 964.2,153.2C962.6,154.1 960.1,155.4 958.7,155.2C957.4,155.1 956.9,153.4 956.0,152.5C955.1,151.6 954.6,150.7 953.2,149.8C951.9,148.9 949.1,148.2 947.8,147.0C946.4,145.9 945.0,144.2 945.0,142.9C945.0,141.7 946.6,140.5 947.8,139.5Z" fill="#eeee10"/>
<path d="M914.8,123.7C915.1,122.7 917.1,122.3 919.0,121.7C920.8,121.0 924.1,119.7 925.8,119.6C927.5,119.5 928.3,120.1 929.2,121.0C930.2,121.9 930.5,123.7 931.3,125.1C932.1,126.5 934.0,127.8 934.0,129.2C934.0,130.6 932.9,133.1 931.3,133.3C929.7,133.5 926.7,131.5 924.4,130.6C922.2,129.7 919.2,129.0 917.6,127.8C916.0,126.7 914.6,124.7 914.8,123.7Z" fill="#eeee10"/>
<path d="M921.7,124.4C921.9,123.7 924.4,123.0 925.8,123.0C927.2,123.0 929.5,123.7 929.9,124.4C930.4,125.1 929.5,126.7 928.6,127.1C927.6,127.6 925.6,127.6 924.4,127.1C923.3,126.7 921.5,125.1 921.7,124.4Z" fill="#fee1aa"/>
<path d="M859.2,236.9C859.8,236.1 862.4,236.4 865.0,235.9C867.6,235.4 871.9,234.1 874.8,233.9C877.7,233.8 880.3,234.1 882.6,234.9C884.9,235.7 888.1,237.8 888.5,238.8C888.8,239.9 886.5,240.9 884.5,241.2C882.6,241.4 879.3,240.4 876.7,240.4C874.1,240.4 871.5,241.2 868.9,241.2C866.3,241.2 862.7,241.1 861.1,240.4C859.5,239.7 858.5,237.6 859.2,236.9Z" fill="#eeee10"/>
<path d="M835.7,242.7C836.0,241.3 839.3,240.8 841.6,241.2C843.9,241.5 846.5,243.3 849.4,244.7C852.3,246.1 855.6,248.3 859.2,249.6C862.7,250.9 868.4,251.2 870.9,252.5C873.3,253.8 874.5,256.1 873.8,257.4C873.2,258.7 869.7,260.1 867.0,260.3C864.2,260.5 860.5,259.3 857.2,258.4C853.9,257.4 850.4,255.9 847.4,254.5C844.5,253.0 841.6,251.5 839.6,249.6C837.7,247.6 835.4,244.1 835.7,242.7Z" fill="#eeee10"/>
<path d="M870.9,267.1C871.5,266.6 874.8,266.0 876.7,266.2C878.7,266.3 882.3,267.4 882.6,268.1C882.9,268.8 880.3,270.2 878.7,270.5C877.1,270.7 874.1,270.2 872.8,269.7C871.5,269.1 870.2,267.7 870.9,267.1Z" fill="#eeee10"/>
<path d="M921.7,199.8C922.3,198.8 926.5,198.6 929.5,198.8C932.4,199.0 937.3,199.8 939.2,200.7C941.2,201.7 942.2,203.7 941.2,204.6C940.2,205.6 936.0,206.6 933.4,206.6C930.8,206.6 927.5,205.8 925.6,204.6C923.6,203.5 921.0,200.7 921.7,199.8Z" fill="#eeee10"/>
<path d="M-5.0,593.7C-3.3,583.2 2.5,594.3 5.0,594.9C7.5,595.6 7.5,597.5 10.0,597.5C12.6,597.5 16.7,595.8 20.1,594.9C23.4,594.1 27.2,592.2 30.1,592.4C33.0,592.6 34.7,595.6 37.7,596.2C40.6,596.8 43.9,596.8 47.7,596.2C51.5,595.6 56.5,593.3 60.2,592.4C64.0,591.6 67.4,592.0 70.3,591.2C73.2,590.3 74.9,588.3 77.8,587.4C80.7,586.6 84.5,585.7 87.9,586.2C91.2,586.6 95.0,588.5 97.9,589.9C100.8,591.4 103.3,593.3 105.4,594.9C107.5,596.6 110.4,598.3 110.4,600.0C110.4,601.6 107.1,603.5 105.4,605.0C103.7,606.5 100.4,607.3 100.4,608.8C100.4,610.2 102.9,612.3 105.4,613.8C107.9,615.2 111.7,616.1 115.5,617.5C119.2,619.0 123.8,621.1 128.0,622.6C132.2,624.0 137.2,625.1 140.6,626.3C143.9,627.6 147.3,628.8 148.1,630.1C148.9,631.3 147.7,633.6 145.6,633.9C143.5,634.1 138.9,632.2 135.5,631.3C132.2,630.5 128.0,629.0 125.5,628.8C123.0,628.6 122.2,629.2 120.5,630.1C118.8,630.9 117.6,633.4 115.5,633.9C113.4,634.3 110.9,633.2 107.9,632.6C105.0,632.0 100.2,629.9 97.9,630.1C95.6,630.3 94.1,632.6 94.1,633.9C94.1,635.1 95.6,636.4 97.9,637.6C100.2,638.9 104.6,640.1 107.9,641.4C111.3,642.6 114.6,643.9 118.0,645.1C121.3,646.4 125.1,647.9 128.0,648.9C130.9,650.0 134.1,652.0 135.5,651.4C137.0,650.8 136.8,646.9 136.8,645.1C136.8,643.4 134.9,641.1 135.5,640.9C136.2,640.7 138.1,643.4 140.6,643.9C143.1,644.4 146.8,644.1 150.6,643.9C154.4,643.7 159.4,643.1 163.2,642.6C166.9,642.2 170.3,642.2 173.2,641.4C176.1,640.5 178.2,637.8 180.7,637.6C183.2,637.4 185.7,638.7 188.3,640.1C190.8,641.6 193.3,644.3 195.8,646.4C198.3,648.5 201.4,650.8 203.3,652.7C205.2,654.6 207.3,656.0 207.1,657.7C206.9,659.4 203.3,660.4 202.1,662.7C200.8,665.0 199.3,668.4 199.5,671.5C199.8,674.6 201.2,678.4 203.3,681.5C205.4,684.7 211.3,687.8 212.1,690.3C212.9,692.8 209.8,694.3 208.3,696.6C206.9,698.9 204.4,699.9 203.3,704.1C202.3,708.3 229.7,718.8 202.1,721.7C174.4,724.6 66.3,724.6 37.7,721.7C9.0,718.8 32.6,708.3 30.1,704.1C27.6,699.9 25.5,699.1 22.6,696.6C19.7,694.1 15.1,692.4 12.6,689.1C10.0,685.7 7.9,679.9 7.5,676.5C7.1,673.2 8.8,671.1 10.0,669.0C11.3,666.9 15.5,665.4 15.1,664.0C14.6,662.5 10.9,661.3 7.5,660.2C4.2,659.2 -2.9,668.8 -5.0,657.7C-7.1,646.6 -6.7,604.1 -5.0,593.7Z" fill="#f0a00a"/>
<path d="M160.6,632.6C161.4,631.6 164.0,630.1 165.7,630.1C167.3,630.1 169.8,631.6 170.7,632.6C171.5,633.6 171.5,635.4 170.7,636.4C169.8,637.3 167.3,638.4 165.7,638.4C164.1,638.4 162.0,637.3 161.1,636.4C160.3,635.4 159.9,633.6 160.6,632.6Z" fill="#f0a00a"/>
<path d="M269.1,655.9C269.7,654.1 272.6,651.9 274.9,650.1C277.2,648.3 280.1,646.8 282.7,645.2C285.3,643.6 288.6,642.1 290.5,640.3C292.5,638.5 292.5,636.2 294.5,634.5C296.4,632.7 299.7,630.9 302.3,629.6C304.9,628.3 307.5,627.4 310.1,626.6C312.7,625.9 315.3,625.1 317.9,625.1C320.5,625.1 323.8,625.4 325.7,626.6C327.7,627.9 328.8,630.2 329.6,632.5C330.4,634.8 330.3,637.9 330.6,640.3C330.9,642.8 330.4,645.7 331.6,647.1C332.7,648.6 335.5,648.9 337.4,649.1C339.4,649.3 341.7,649.3 343.3,648.1C344.9,647.0 346.5,644.9 347.2,642.3C347.8,639.7 347.2,635.8 347.2,632.5C347.2,629.2 347.2,626.0 347.2,622.7C347.2,619.5 347.3,616.2 347.2,613.0C347.1,609.7 347.0,606.5 346.8,603.2C346.6,599.9 346.0,595.7 346.2,593.4C346.4,591.2 346.7,590.5 348.2,589.5C349.6,588.6 352.6,588.1 355.0,587.6C357.4,587.1 359.9,586.4 362.8,586.6C365.7,586.8 369.3,587.9 372.6,588.6C375.8,589.2 379.6,589.4 382.3,590.5C385.1,591.6 387.4,593.4 389.2,595.4C391.0,597.3 391.9,599.6 393.1,602.2C394.2,604.8 395.2,607.9 396.0,611.0C396.8,614.1 397.3,617.5 398.0,620.8C398.6,624.0 399.6,627.3 399.9,630.5C400.2,633.8 400.6,637.5 399.9,640.3C399.3,643.1 397.2,644.9 396.0,647.1C394.9,649.4 394.1,651.9 393.1,654.0C392.1,656.1 390.3,657.6 390.2,659.8C390.0,662.1 391.5,665.1 392.1,667.7C392.8,670.3 393.1,673.2 394.1,675.5C395.0,677.7 396.3,679.4 398.0,681.3C399.6,683.3 401.9,684.9 403.8,687.2C405.8,689.5 408.1,692.4 409.7,695.0C411.3,697.6 412.6,698.9 413.6,702.8C414.6,706.7 439.0,715.8 415.5,718.4C392.1,721.0 295.4,720.4 273.0,718.4C250.5,716.5 278.5,709.6 280.8,706.7C283.1,703.8 285.0,702.8 286.6,700.9C288.3,698.9 289.6,697.3 290.5,695.0C291.5,692.7 292.8,689.8 292.5,687.2C292.2,684.6 290.2,682.0 288.6,679.4C287.0,676.8 284.7,673.8 282.7,671.6C280.8,669.3 278.8,667.5 276.9,665.7C274.9,663.9 272.3,662.4 271.0,660.8C269.7,659.2 268.4,657.7 269.1,655.9Z" fill="#f0a00a"/>
<path d="M250.5,634.5C250.9,633.5 252.3,632.5 253.4,632.5C254.6,632.5 256.5,633.5 257.3,634.5C258.2,635.4 258.8,637.4 258.3,638.4C257.8,639.3 255.6,640.0 254.4,639.9C253.2,639.9 251.7,638.9 251.1,638.0C250.4,637.1 250.1,635.4 250.5,634.5Z" fill="#f0a00a"/>
<path d="M261.2,631.5C261.7,630.2 264.3,629.6 266.1,629.6C267.9,629.6 270.2,630.7 272.0,631.5C273.8,632.3 276.5,633.3 276.9,634.5C277.2,635.6 275.4,637.5 273.9,638.4C272.5,639.2 269.9,639.5 268.1,639.3C266.3,639.2 264.3,638.7 263.2,637.4C262.1,636.1 260.8,632.8 261.2,631.5Z" fill="#f0a00a"/>
<path d="M315.9,667.7C316.4,666.0 317.7,664.1 318.9,661.8C320.0,659.5 321.3,656.3 322.8,654.0C324.2,651.7 326.2,648.8 327.7,648.1C329.1,647.5 330.4,648.5 331.6,650.1C332.7,651.7 333.5,655.3 334.5,657.9C335.5,660.5 336.3,663.4 337.4,665.7C338.6,668.0 341.0,669.9 341.3,671.6C341.7,673.2 340.7,675.1 339.4,675.5C338.1,675.8 335.1,674.8 333.5,673.5C331.9,672.2 330.9,668.0 329.6,667.7C328.3,667.3 327.3,670.6 325.7,671.6C324.1,672.5 321.4,673.5 319.8,673.5C318.3,673.5 317.0,672.5 316.3,671.6C315.7,670.6 315.5,669.3 315.9,667.7Z" fill="#eeee10"/>
<path d="M368.7,695.0C369.5,694.2 371.0,693.4 372.6,694.0C374.2,694.7 376.8,696.8 378.4,698.9C380.1,701.0 382.0,703.5 382.3,706.7C382.7,710.0 382.3,716.5 380.4,718.4C378.4,720.4 372.9,720.7 370.6,718.4C368.3,716.2 367.2,708.0 366.7,704.8C366.2,701.5 367.4,700.5 367.7,698.9C368.0,697.3 367.9,695.8 368.7,695.0Z" fill="#eeee10"/>
<path d="M342.3,702.8C343.8,701.8 346.7,700.5 349.1,700.9C351.6,701.2 354.7,701.8 357.0,704.8C359.2,707.7 365.4,716.2 362.8,718.4C360.2,720.7 345.1,720.4 341.3,718.4C337.6,716.5 340.2,709.3 340.4,706.7C340.5,704.1 340.8,703.8 342.3,702.8Z" fill="#eeee10"/>
<path d="M386.2,679.4C387.6,677.9 391.5,675.3 394.1,675.5C396.7,675.6 399.8,678.1 401.9,680.4C404.0,682.6 405.6,686.0 406.8,689.1C407.9,692.2 409.5,696.6 408.7,698.9C407.9,701.2 404.3,702.8 401.9,702.8C399.4,702.8 396.3,700.9 394.1,698.9C391.8,697.0 389.6,693.5 388.2,691.1C386.8,688.7 386.2,686.2 385.9,684.3C385.5,682.3 384.9,680.8 386.2,679.4Z" fill="#eeee10"/>
<path d="M389.2,680.4C390.1,679.4 392.3,678.1 394.1,678.4C395.9,678.7 398.3,680.5 399.9,682.3C401.5,684.1 403.0,686.7 403.8,689.1C404.6,691.6 405.5,695.3 404.8,697.0C404.2,698.6 401.7,699.2 399.9,698.9C398.1,698.6 395.7,696.6 394.1,695.0C392.4,693.4 391.1,690.9 390.2,689.1C389.2,687.4 388.8,685.7 388.6,684.3C388.4,682.8 388.3,681.3 389.2,680.4Z" fill="#fee1aa"/>
<path d="M554.5,460.2C556.0,458.2 557.0,455.9 559.5,454.0C562.0,452.1 567.4,450.9 569.5,449.0C571.6,447.1 570.3,444.4 572.0,442.8C573.7,441.1 576.2,439.7 579.5,439.0C582.8,438.3 587.8,438.3 592.0,438.5C596.2,438.7 600.8,439.8 604.5,440.2C608.2,440.8 611.8,440.9 614.5,441.5C617.2,442.1 619.3,442.3 620.8,444.0C622.2,445.7 623.5,448.6 623.2,451.5C623.0,454.4 621.4,458.6 619.5,461.5C617.6,464.4 614.3,466.9 612.0,469.0C609.7,471.1 607.0,471.9 605.8,474.0C604.5,476.1 605.5,479.2 604.5,481.5C603.5,483.8 602.0,486.3 599.5,487.8C597.0,489.2 592.8,490.0 589.5,490.2C586.2,490.5 582.6,490.0 579.5,489.0C576.4,488.0 573.5,485.7 570.8,484.0C568.0,482.3 564.9,481.1 563.2,479.0C561.6,476.9 562.2,473.0 560.8,471.5C559.3,470.0 556.2,471.1 554.5,470.2C552.8,469.4 550.8,468.2 550.8,466.5C550.8,464.8 553.0,462.3 554.5,460.2Z" fill="#f0a00a"/>
<path d="M614.0,434.0C614.2,432.9 615.3,432.7 615.8,433.5C616.2,434.3 616.7,437.9 616.5,439.0C616.3,440.1 614.9,441.1 614.5,440.2C614.1,439.4 613.8,435.1 614.0,434.0Z" fill="#f0a00a"/>
<path d="M513.2,538.6C513.4,537.2 515.4,533.9 517.1,532.8C518.9,531.6 521.9,531.3 524.0,531.8C526.1,532.3 528.2,534.4 529.8,535.7C531.5,537.0 534.1,538.5 534.1,539.6C534.1,540.7 531.9,542.1 529.8,542.5C527.8,543.0 524.3,542.8 522.0,542.5C519.8,542.3 517.6,541.8 516.2,541.2C514.7,540.5 513.1,540.0 513.2,538.6Z" fill="#f0a00a"/>
<path d="M464.4,495.7C464.9,494.2 467.2,492.0 469.3,490.8C471.4,489.6 474.2,488.6 477.1,488.4C480.0,488.3 483.6,489.5 486.9,489.8C490.1,490.1 494.6,489.4 496.6,490.4C498.7,491.4 498.8,493.6 499.0,495.7C499.1,497.7 497.7,500.2 497.6,502.5C497.6,504.8 499.1,507.2 498.6,509.3C498.1,511.5 496.6,513.6 494.7,515.2C492.7,516.8 489.8,518.2 486.9,519.1C483.9,520.0 479.9,520.6 477.1,520.5C474.3,520.3 471.9,519.3 470.3,518.1C468.6,516.9 467.7,515.0 467.3,513.2C467.0,511.5 467.8,509.2 468.3,507.4C468.8,505.6 470.6,503.8 470.3,502.5C469.9,501.2 467.3,500.7 466.4,499.6C465.4,498.4 463.9,497.1 464.4,495.7Z" fill="#f0a00a"/>
<path d="M369.8,514.0C369.8,512.4 370.8,510.2 372.2,509.0C373.7,507.8 376.2,507.1 378.5,507.0C380.8,506.9 383.9,507.5 386.0,508.5C388.1,509.5 390.0,511.2 391.0,512.8C392.0,514.3 393.1,516.3 392.2,517.8C391.4,519.2 388.3,521.0 386.0,521.5C383.7,522.0 380.8,521.5 378.5,521.0C376.2,520.5 373.7,519.7 372.2,518.5C370.8,517.3 369.8,515.6 369.8,514.0Z" fill="#f0a00a"/>
<path d="M517.0,534.0C517.8,532.5 521.0,531.3 523.2,531.5C525.5,531.7 529.0,533.8 530.8,535.2C532.5,536.7 534.6,539.0 534.0,540.2C533.4,541.5 529.6,542.8 527.0,542.8C524.4,542.8 519.9,541.7 518.2,540.2C516.6,538.8 516.2,535.5 517.0,534.0Z" fill="#f0a00a"/>
<path d="M542.5,613.0C543.1,611.8 546.9,611.7 549.3,612.0C551.7,612.3 555.0,613.3 557.1,614.9C559.2,616.6 560.5,619.3 562.0,621.8C563.5,624.2 564.4,627.5 565.9,629.6C567.4,631.7 568.7,633.3 570.8,634.5C572.9,635.6 576.3,635.6 578.6,636.4C580.9,637.2 583.3,638.2 584.5,639.3C585.6,640.5 586.4,641.9 585.4,643.2C584.5,644.6 581.4,646.3 578.6,647.2C575.8,648.0 571.8,648.5 568.8,648.1C565.9,647.8 563.0,646.7 561.0,645.2C559.1,643.7 558.1,641.6 557.1,639.3C556.1,637.1 556.1,634.1 555.2,631.5C554.2,628.9 552.9,625.8 551.2,623.7C549.6,621.6 546.9,620.6 545.4,618.8C543.9,617.0 541.8,614.1 542.5,613.0Z" fill="#f0a00a"/>
<path d="M610.8,640.3C611.6,639.5 615.2,638.4 617.7,637.8C620.1,637.1 623.0,636.6 625.5,636.4C627.9,636.2 631.0,636.0 632.3,636.4C633.6,636.8 634.1,638.1 633.3,639.0C632.5,639.8 629.7,640.6 627.4,641.3C625.1,641.9 622.1,642.6 619.6,642.9C617.2,643.1 614.2,643.3 612.8,642.9C611.3,642.4 610.0,641.2 610.8,640.3Z" fill="#f0a00a"/>
<path d="M636.2,625.7C636.8,624.8 638.7,623.5 640.1,623.3C641.6,623.2 644.3,624.0 645.0,624.7C645.7,625.4 644.9,626.8 644.0,627.6C643.1,628.4 640.7,629.4 639.5,629.6C638.3,629.7 637.4,629.3 636.8,628.6C636.2,628.0 635.7,626.6 636.2,625.7Z" fill="#f0a00a"/>
<path d="M555.2,647.2C555.5,646.7 556.9,646.4 557.5,646.8C558.1,647.2 558.8,648.8 558.7,649.5C558.5,650.2 557.3,651.1 556.7,651.1C556.1,651.1 555.4,650.2 555.2,649.5C554.9,648.8 554.8,647.6 555.2,647.2Z" fill="#f0a00a"/>
<path d="M533.7,628.6C534.0,627.7 536.4,627.1 537.6,627.2C538.7,627.4 540.2,628.6 540.5,629.6C540.8,630.6 540.3,632.6 539.5,633.1C538.7,633.6 536.6,633.3 535.6,632.5C534.6,631.8 533.3,629.5 533.7,628.6Z" fill="#f0a00a"/>
<path d="M566.9,690.1C567.4,688.0 568.3,684.9 568.8,682.3C569.3,679.7 569.2,676.8 569.8,674.5C570.5,672.2 570.9,670.1 572.7,668.6C574.5,667.2 577.9,665.9 580.5,665.7C583.2,665.5 586.1,667.2 588.4,667.7C590.6,668.2 592.3,668.9 594.2,668.6C596.2,668.4 598.5,666.1 600.1,666.3C601.7,666.5 603.0,667.9 604.0,669.6C605.0,671.3 605.0,674.5 605.9,676.5C606.9,678.4 608.2,679.7 609.8,681.3C611.5,683.0 613.8,684.8 615.7,686.2C617.7,687.7 619.6,688.5 621.6,690.1C623.5,691.8 626.1,693.7 627.4,696.0C628.7,698.3 628.7,701.8 629.4,703.8C630.0,705.8 629.4,706.9 631.3,707.7C633.3,708.5 638.5,707.4 641.1,708.7C643.7,710.0 650.9,714.4 647.0,715.5C643.0,716.7 623.2,717.1 617.7,715.5C612.1,713.9 615.4,708.7 613.8,705.8C612.1,702.8 609.5,700.5 607.9,697.9C606.3,695.3 605.3,692.2 604.0,690.1C602.7,688.0 601.7,686.4 600.1,685.2C598.5,684.1 596.0,683.1 594.2,683.3C592.4,683.5 590.1,684.4 589.3,686.2C588.5,688.0 589.0,691.4 589.3,694.0C589.7,696.6 591.5,699.6 591.3,701.8C591.1,704.1 589.8,707.1 588.4,707.7C586.9,708.4 584.8,706.4 582.5,705.8C580.2,705.1 577.0,704.8 574.7,703.8C572.4,702.8 570.3,701.4 568.8,699.9C567.4,698.4 566.2,696.6 565.9,695.0C565.6,693.4 566.4,692.2 566.9,690.1Z" fill="#f0a00a"/>
<path d="M636.2,668.6C636.5,667.8 639.0,667.8 641.1,668.6C643.2,669.5 646.3,672.1 648.9,673.5C651.5,675.0 654.3,676.3 656.7,677.4C659.2,678.6 662.7,679.3 663.6,680.4C664.4,681.4 663.1,683.2 661.6,683.9C660.1,684.5 657.2,684.5 654.8,684.3C652.3,684.0 649.1,683.3 647.0,682.3C644.8,681.3 643.4,679.9 642.1,678.4C640.8,676.9 640.1,675.2 639.1,673.5C638.2,671.9 635.9,669.5 636.2,668.6Z" fill="#f0a00a"/>
<path d="M628.4,678.4C629.2,677.3 631.7,676.5 633.3,676.8C634.9,677.2 637.5,679.0 638.2,680.4C638.8,681.8 638.2,684.3 637.2,685.2C636.2,686.2 633.8,686.5 632.3,686.2C630.8,685.9 629.0,684.6 628.4,683.3C627.7,682.0 627.6,679.5 628.4,678.4Z" fill="#f0a00a"/>
<path d="M654.8,697.0C655.7,696.0 659.6,694.7 662.6,694.0C665.5,693.4 669.1,692.7 672.3,693.1C675.6,693.4 678.9,694.8 682.1,696.0C685.4,697.1 688.6,698.8 691.9,699.9C695.1,701.0 698.4,701.8 701.6,702.8C704.9,703.8 709.0,704.6 711.4,705.8C713.8,706.9 716.3,708.7 716.3,709.7C716.3,710.6 713.8,711.4 711.4,711.6C709.0,711.8 704.9,711.1 701.6,710.6C698.4,710.1 695.1,709.5 691.9,708.7C688.6,707.9 685.4,706.6 682.1,705.8C678.9,704.9 675.6,704.6 672.3,703.8C669.1,703.0 665.2,701.6 662.6,700.9C660.0,700.2 658.0,700.2 656.7,699.5C655.4,698.8 653.8,697.9 654.8,697.0Z" fill="#f0a00a"/>
<path d="M159.1,105.2C159.9,104.0 161.7,103.0 163.0,103.2C164.3,103.4 165.2,105.9 166.9,106.1C168.5,106.4 170.5,104.8 172.7,104.8C175.0,104.8 178.3,105.4 180.5,106.1C182.8,106.8 184.8,107.8 186.4,109.1C188.0,110.4 189.5,112.3 190.3,113.9C191.1,115.6 192.3,117.6 191.3,118.8C190.3,120.0 186.9,120.4 184.5,121.2C182.0,122.0 179.2,123.3 176.6,123.7C174.0,124.1 171.3,124.2 168.8,123.7C166.4,123.2 163.6,122.1 162.0,120.8C160.4,119.5 159.7,117.7 159.1,115.9C158.4,114.1 158.1,111.8 158.1,110.0C158.1,108.2 158.2,106.3 159.1,105.2Z" fill="#f0430a"/>
<path d="M247.9,128.6C248.9,126.9 250.7,126.6 252.8,126.2C254.9,125.9 258.0,126.7 260.6,126.2C263.2,125.8 267.6,124.9 268.4,123.7C269.3,122.5 266.3,120.8 265.5,118.8C264.7,116.9 263.6,113.6 263.6,112.0C263.6,110.4 264.4,109.1 265.5,109.1C266.6,109.1 268.6,110.7 270.4,112.0C272.2,113.3 274.0,115.5 276.2,116.9C278.5,118.3 281.8,120.1 284.1,120.4C286.3,120.7 288.6,119.9 289.9,118.8C291.2,117.7 290.7,115.2 292.0,113.7C293.3,112.2 295.1,110.8 297.9,109.8C300.6,108.7 304.9,107.7 308.6,107.4C312.3,107.2 316.4,107.8 320.3,108.2C324.2,108.6 328.5,109.8 332.0,109.8C335.6,109.8 338.9,109.2 341.8,108.2C344.7,107.2 346.6,105.3 349.6,103.9C352.6,102.5 356.6,101.5 359.8,100.0C362.9,98.5 365.4,97.1 368.5,95.0C371.6,92.9 375.6,90.0 378.5,87.5C381.4,85.0 384.1,82.7 386.0,80.0C387.9,77.3 388.1,74.0 389.8,71.2C391.4,68.5 393.3,66.0 396.0,63.8C398.7,61.5 402.2,59.8 406.0,57.5C409.8,55.2 414.8,52.5 418.5,50.0C422.2,47.5 425.2,43.5 428.5,42.5C431.8,41.5 435.2,44.0 438.5,43.8C441.8,43.5 445.6,41.2 448.5,41.2C451.4,41.2 454.2,43.6 456.0,43.8C457.8,43.9 457.3,42.1 459.5,42.4C461.7,42.7 466.5,44.5 469.3,45.3C472.1,46.2 471.2,46.5 476.1,47.3C481.0,48.1 491.6,50.6 498.6,50.2C505.6,49.9 513.6,46.8 518.1,45.3C522.7,43.9 523.3,42.6 525.9,41.4C528.5,40.3 530.8,39.3 533.8,38.5C536.7,37.7 540.6,37.0 543.5,36.6C546.4,36.1 548.7,36.2 551.3,35.6C553.9,34.9 556.2,33.8 559.1,32.6C562.1,31.5 566.0,29.9 568.9,28.7C571.8,27.6 574.1,26.8 576.7,25.8C579.3,24.8 582.6,24.8 584.5,22.9C586.5,20.9 559.7,15.6 588.4,14.1C617.2,12.6 728.6,12.1 757.2,14.1C785.8,16.0 759.8,22.9 760.1,25.8C760.4,28.7 760.3,29.7 759.1,31.7C758.0,33.6 755.6,35.9 753.3,37.5C751.0,39.2 748.1,40.1 745.5,41.4C742.9,42.7 739.9,43.9 737.7,45.3C735.4,46.8 733.8,48.6 731.8,50.2C729.8,51.9 727.6,53.5 725.9,55.1C724.3,56.7 723.3,58.0 722.0,60.0C720.7,61.9 719.4,64.7 718.1,66.8C716.8,68.9 715.8,70.7 714.2,72.7C712.6,74.6 711.0,76.9 708.4,78.5C705.8,80.2 701.8,81.3 698.6,82.5C695.3,83.6 692.1,84.4 688.8,85.4C685.6,86.4 682.3,87.2 679.1,88.3C675.8,89.5 672.6,90.9 669.3,92.2C666.0,93.5 662.5,94.5 659.5,96.1C656.6,97.8 654.3,100.2 651.7,102.0C649.1,103.8 645.9,105.6 643.9,106.9C642.0,108.2 643.7,105.7 640.0,109.8C636.3,113.9 626.7,127.0 622.0,131.2C617.3,135.5 614.5,133.5 612.0,135.0C609.5,136.5 606.2,138.5 607.0,140.0C607.8,141.5 614.5,142.5 617.0,143.8C619.5,145.0 622.8,146.5 622.0,147.5C621.2,148.5 616.2,149.4 612.0,150.0C607.8,150.6 602.0,151.2 597.0,151.2C592.0,151.2 587.0,149.8 582.0,150.0C577.0,150.2 572.4,151.5 567.0,152.5C561.6,153.5 555.3,155.2 549.5,156.2C543.7,157.3 537.0,158.8 532.0,158.8C527.0,158.8 506.9,158.4 519.5,156.2C532.1,154.1 594.8,147.3 607.5,146.1C620.2,144.9 599.7,148.1 595.8,149.1C591.9,150.0 588.0,151.1 584.1,152.0C580.2,152.9 576.9,153.7 572.3,154.5C567.8,155.3 561.3,156.2 556.7,156.9C552.2,157.6 548.9,158.1 545.0,158.8C541.1,159.5 536.5,160.8 533.3,161.2C530.0,161.5 528.1,161.2 525.5,160.8C522.9,160.4 520.9,159.5 517.7,158.8C514.4,158.2 509.8,157.0 505.9,156.9C502.0,156.7 497.1,157.4 494.2,157.9C491.3,158.3 490.3,160.1 488.4,159.8C486.4,159.5 484.3,157.7 482.5,155.9C480.7,154.1 479.2,151.2 477.6,149.1C476.0,146.9 474.4,144.8 472.7,143.2C471.1,141.6 469.5,139.6 467.9,139.3C466.2,139.0 464.4,139.9 463.0,141.2C461.5,142.6 460.0,144.5 459.1,147.1C458.1,149.7 458.1,154.3 457.1,156.9C456.1,159.5 455.2,161.3 453.2,162.7C451.2,164.2 448.3,164.7 445.4,165.7C442.5,166.6 438.9,167.8 435.6,168.6C432.4,169.4 428.5,169.9 425.9,170.5C423.3,171.2 416.0,173.0 420.0,172.5C424.0,172.0 447.1,167.9 450.0,167.4C452.9,166.9 441.5,168.5 437.5,169.3C433.5,170.1 429.7,171.3 425.8,172.3C421.9,173.2 418.0,174.2 414.1,175.2C410.2,176.2 405.6,176.7 402.3,178.1C399.1,179.6 397.1,182.7 394.5,184.0C391.9,185.3 390.0,185.4 386.7,185.9C383.5,186.4 378.9,186.3 375.0,186.9C371.1,187.6 367.2,189.0 363.3,189.8C359.4,190.7 355.5,191.1 351.6,191.8C347.7,192.4 343.8,193.0 339.8,193.8C335.9,194.5 332.0,195.6 328.1,196.1C324.2,196.6 320.0,196.7 316.4,196.7C312.8,196.6 309.6,196.2 306.6,195.7C303.7,195.2 301.3,194.6 298.8,193.8C296.4,192.9 293.9,192.1 292.0,190.8C290.0,189.5 286.6,187.2 287.1,185.9C287.6,184.6 291.3,183.7 294.9,183.0C298.5,182.4 304.4,182.4 308.6,182.0C312.8,181.7 316.7,181.9 320.3,181.1C323.9,180.2 328.1,178.5 330.1,177.1C332.0,175.8 332.4,174.5 332.0,173.2C331.7,171.9 330.7,170.1 328.1,169.3C325.5,168.5 320.3,168.7 316.4,168.4C312.5,168.0 308.6,167.7 304.7,167.4C300.8,167.1 296.5,166.4 293.0,166.4C289.4,166.4 286.1,167.2 283.2,167.4C280.3,167.5 277.0,168.2 275.4,167.4C273.8,166.6 272.8,163.8 273.4,162.5C274.1,161.2 276.7,160.2 279.3,159.6C281.9,158.9 285.8,159.1 289.1,158.6C292.3,158.1 298.2,157.6 298.8,156.6C299.5,155.7 295.2,154.0 293.0,152.7C290.7,151.4 288.4,149.8 285.2,148.8C281.9,147.9 277.3,146.7 273.4,146.9C269.5,147.0 264.5,148.3 261.7,149.8C258.9,151.3 258.5,155.6 256.7,155.9C254.9,156.3 252.3,154.0 250.9,152.0C249.4,150.1 248.6,146.8 247.9,144.2C247.3,141.6 247.0,139.0 247.0,136.4C247.0,133.8 247.0,130.3 247.9,128.6Z" fill="#f0430a"/>
<path d="M489.8,37.5C491.1,35.6 491.3,31.7 492.7,29.7C494.2,27.8 496.3,26.8 498.6,25.8C500.9,24.8 504.3,23.7 506.4,23.9C508.5,24.0 510.1,25.3 511.3,26.8C512.4,28.3 512.1,30.9 513.2,32.6C514.4,34.4 517.3,35.4 518.1,37.5C518.9,39.6 519.1,43.2 518.1,45.3C517.1,47.5 514.5,48.9 512.3,50.2C510.0,51.5 506.7,52.0 504.5,53.2C502.2,54.3 499.9,55.6 498.6,57.1C497.3,58.5 496.3,60.5 496.6,61.9C497.0,63.4 498.6,65.5 500.5,65.9C502.5,66.2 505.4,64.9 508.4,63.9C511.3,62.9 514.9,60.6 518.1,60.0C521.4,59.3 525.4,59.5 527.9,60.0C530.3,60.5 532.4,61.8 532.8,62.9C533.1,64.1 531.6,65.5 529.8,66.8C528.1,68.1 524.6,69.6 522.0,70.7C519.4,71.9 516.8,73.0 514.2,73.7C511.6,74.3 508.7,73.8 506.4,74.6C504.1,75.5 502.8,77.6 500.5,78.5C498.3,79.5 494.7,79.2 492.7,80.5C490.8,81.8 490.1,84.1 488.8,86.4C487.5,88.6 486.5,91.9 484.9,94.2C483.3,96.5 481.0,98.1 479.1,100.0C477.1,102.0 475.2,103.9 473.2,105.9C471.2,107.8 469.6,110.3 467.3,111.8C465.1,113.2 461.8,114.5 459.5,114.7C457.3,114.8 455.1,113.9 453.7,112.7C452.2,111.6 450.4,109.3 450.7,107.8C451.1,106.4 453.5,105.2 455.6,103.9C457.7,102.6 461.2,101.7 463.4,100.0C465.7,98.4 467.8,96.8 469.3,94.2C470.8,91.6 471.4,87.3 472.2,84.4C473.0,81.5 473.7,79.2 474.2,76.6C474.7,74.0 474.7,72.0 475.2,68.8C475.6,65.5 477.1,60.6 477.1,57.1C477.1,53.5 474.8,49.6 475.2,47.3C475.5,45.0 477.4,44.4 479.1,43.4C480.7,42.4 483.1,42.4 484.9,41.4C486.7,40.5 488.5,39.5 489.8,37.5Z" fill="#f0a00a"/>
<path d="M479.1,42.4C478.4,44.1 480.9,48.6 482.0,51.2C483.1,53.8 484.1,56.6 485.9,58.0C487.7,59.5 490.8,60.5 492.7,60.0C494.7,59.5 497.3,57.2 497.6,55.1C497.9,53.0 496.0,49.2 494.7,47.3C493.4,45.3 490.7,44.9 489.8,43.4C488.9,41.9 489.9,38.9 489.2,38.5C488.6,38.1 487.6,40.4 485.9,41.0C484.2,41.7 479.7,40.7 479.1,42.4Z" fill="#eeee10"/>
<path d="M269.5,178.1C269.3,175.9 269.9,173.1 271.9,171.3C273.8,169.4 277.7,167.9 281.2,167.0C284.8,166.1 288.7,166.1 293.0,166.0C297.2,165.9 302.1,166.2 306.6,166.4C311.2,166.6 316.3,167.0 320.3,167.4C324.3,167.8 327.9,167.4 330.5,168.8C333.0,170.1 335.6,173.0 335.5,175.2C335.5,177.3 332.9,180.2 330.1,181.6C327.2,183.1 322.6,183.5 318.4,184.0C314.1,184.5 308.9,184.4 304.7,184.8C300.5,185.1 296.9,185.7 293.0,185.9C289.1,186.2 284.6,186.6 281.2,186.3C277.9,186.1 275.0,185.7 273.0,184.4C271.1,183.0 269.7,180.3 269.5,178.1Z" fill="#f0a00a"/>
<path d="M272.5,178.1C272.4,176.4 272.8,174.2 274.4,172.7C276.0,171.1 279.1,169.8 282.2,168.9C285.3,168.1 288.9,167.9 293.0,167.8C297.0,167.6 302.2,167.9 306.6,168.2C311.0,168.4 315.6,168.8 319.3,169.1C323.1,169.5 326.8,169.3 329.1,170.3C331.4,171.3 333.2,173.6 333.0,175.2C332.8,176.8 330.7,178.9 328.1,180.1C325.5,181.2 321.3,181.6 317.4,182.0C313.5,182.5 308.8,182.5 304.7,182.8C300.6,183.1 296.7,183.7 293.0,184.0C289.2,184.2 285.2,184.5 282.2,184.4C279.2,184.2 276.6,184.0 275.0,183.0C273.4,182.0 272.6,179.9 272.5,178.1Z" fill="#eeee10"/>
<path d="M275.4,178.1C275.4,177.0 276.0,175.4 277.3,174.2C278.6,173.1 280.6,172.0 283.2,171.3C285.8,170.6 289.1,170.1 293.0,169.9C296.9,169.8 302.4,170.1 306.6,170.3C310.9,170.5 314.9,171.0 318.4,171.3C321.8,171.6 325.2,171.6 327.1,172.3C329.1,172.9 330.2,174.2 330.1,175.2C329.9,176.2 328.5,177.4 326.2,178.1C323.9,178.9 320.0,179.3 316.4,179.7C312.8,180.1 308.6,180.1 304.7,180.5C300.8,180.8 296.5,181.4 293.0,181.6C289.4,181.9 285.8,182.1 283.2,182.0C280.6,181.9 278.6,181.7 277.3,181.1C276.0,180.4 275.4,179.3 275.4,178.1Z" fill="#fee1aa"/>
<path d="M343.3,163.5C343.4,162.2 345.4,160.4 347.2,159.6C349.0,158.8 352.1,158.3 354.0,158.6C356.0,158.9 358.3,160.2 358.9,161.5C359.6,162.8 359.1,165.3 357.9,166.4C356.8,167.5 354.0,168.2 352.1,168.4C350.1,168.5 347.7,168.2 346.2,167.4C344.7,166.6 343.1,164.8 343.3,163.5Z" fill="#f0a00a"/>
<path d="M281.8,138.1C282.1,137.3 284.2,136.6 285.7,136.7C287.1,136.9 290.1,138.2 290.5,139.1C291.0,139.9 289.7,141.6 288.6,142.0C287.5,142.4 284.9,142.1 283.7,141.4C282.6,140.8 281.4,138.9 281.8,138.1Z" fill="#f0a00a"/>
<path d="M497.6,41.4C498.0,40.9 499.7,40.3 500.5,40.5C501.4,40.6 502.5,41.8 502.5,42.4C502.5,43.1 501.3,44.2 500.5,44.4C499.8,44.5 498.5,43.9 498.0,43.4C497.5,42.9 497.2,41.9 497.6,41.4Z" fill="#f0430a"/>
<path d="M477.1,80.5C477.2,79.3 478.2,77.9 479.1,77.6C479.9,77.2 481.6,77.7 482.0,78.5C482.4,79.4 482.0,81.4 481.4,82.5C480.9,83.5 479.4,85.1 478.7,84.8C478.0,84.5 477.0,81.7 477.1,80.5Z" fill="#eeee10"/>
<path d="M458.6,105.9C458.7,105.1 459.7,104.6 460.1,104.9C460.5,105.2 461.2,107.1 461.1,107.8C461.0,108.6 460.0,109.7 459.5,109.4C459.1,109.1 458.5,106.6 458.6,105.9Z" fill="#eeee10"/>
<path d="M645.3,30.7C646.2,29.1 649.8,28.6 652.1,28.8C654.4,29.0 657.6,29.9 658.9,31.7C660.2,33.5 660.4,37.4 659.9,39.5C659.4,41.6 658.0,43.4 656.0,44.4C654.1,45.4 649.8,46.4 648.2,45.4C646.6,44.4 646.7,41.0 646.2,38.6C645.8,36.1 644.3,32.4 645.3,30.7Z" fill="#f0a00a"/>
<path d="M773.2,334.5C773.6,333.3 774.9,332.0 776.2,331.5C777.5,331.0 779.8,330.7 781.1,331.5C782.4,332.3 783.7,334.8 784.0,336.4C784.3,338.0 783.5,339.8 783.0,341.3C782.5,342.8 781.2,343.7 781.1,345.2C780.9,346.7 782.4,348.5 782.0,350.1C781.7,351.7 780.4,354.0 779.1,355.0C777.8,355.9 775.6,356.0 774.2,355.5C772.8,355.1 771.2,353.4 770.7,352.0C770.2,350.6 770.5,348.6 771.3,347.1C772.0,345.7 774.8,344.7 775.2,343.2C775.6,341.8 774.2,339.8 773.8,338.4C773.5,336.9 772.9,335.6 773.2,334.5Z" fill="#f0430a"/>
<path d="M784.9,78.4C785.4,76.1 787.2,72.2 788.6,69.7C790.1,67.2 791.3,65.1 793.6,63.5C795.8,61.8 799.8,59.8 802.3,59.8C804.7,59.8 807.0,61.4 808.5,63.5C809.9,65.6 810.1,69.5 810.9,72.2C811.8,74.9 812.0,77.3 813.4,79.6C814.9,81.9 817.3,84.4 819.6,85.8C821.9,87.3 823.8,88.1 827.1,88.3C830.4,88.5 834.9,87.3 839.5,87.1C844.0,86.8 849.4,86.4 854.3,86.6C859.3,86.8 865.1,87.8 869.2,88.3C873.4,88.8 876.9,88.7 879.2,89.5C881.4,90.4 883.3,91.8 882.9,93.3C882.5,94.7 878.1,96.4 876.7,98.2C875.2,100.1 873.4,102.6 874.2,104.4C875.0,106.3 880.0,107.5 881.6,109.4C883.3,111.2 884.9,114.1 884.1,115.6C883.3,117.0 879.6,117.9 876.7,118.1C873.8,118.3 870.1,117.4 866.8,116.8C863.4,116.2 860.1,115.0 856.8,114.3C853.5,113.7 849.8,113.9 846.9,113.1C844.0,112.3 841.9,110.4 839.5,109.4C837.0,108.4 834.7,108.1 832.0,106.9C829.3,105.7 825.8,104.0 823.3,101.9C820.9,99.9 819.4,96.4 817.1,94.5C814.9,92.6 812.6,91.6 809.7,90.8C806.8,90.0 803.1,90.0 799.8,89.5C796.5,89.1 792.2,89.3 789.8,88.3C787.4,87.3 786.2,85.0 785.4,83.3C784.6,81.7 784.3,80.6 784.9,78.4Z" fill="#f0430a"/>
<path d="M853.1,119.3C853.5,118.1 856.6,117.4 859.3,118.1C862.0,118.7 865.9,121.4 869.2,123.0C872.5,124.7 875.6,127.0 879.2,128.0C882.7,129.0 889.1,128.4 890.3,129.2C891.6,130.1 888.9,132.1 886.6,133.0C884.3,133.8 880.0,134.8 876.7,134.2C873.4,133.6 870.1,130.7 866.8,129.2C863.4,127.8 859.1,127.2 856.8,125.5C854.6,123.9 852.7,120.5 853.1,119.3Z" fill="#f0430a"/>
<path d="M838.2,128.0C839.0,127.2 841.7,128.2 844.4,129.2C847.1,130.3 850.8,133.0 854.3,134.2C857.9,135.4 863.9,135.6 865.5,136.7C867.2,137.7 866.1,139.8 864.3,140.4C862.4,141.0 857.7,140.8 854.3,140.4C851.0,140.0 846.9,138.9 844.4,137.9C841.9,136.9 840.5,135.8 839.5,134.2C838.4,132.5 837.4,128.8 838.2,128.0Z" fill="#f0430a"/>
<path d="M841.9,151.6C842.4,150.5 848.1,150.3 851.9,150.3C855.6,150.3 860.1,150.9 864.3,151.6C868.4,152.2 872.5,153.6 876.7,154.0C880.8,154.5 884.9,153.4 889.1,154.0C893.2,154.7 898.8,156.1 901.5,157.8C904.2,159.4 905.6,162.3 905.2,164.0C904.8,165.6 898.4,166.0 899.0,167.7C899.6,169.3 905.6,172.0 908.9,173.9C912.2,175.7 915.5,177.2 918.8,178.8C922.2,180.5 926.3,181.7 928.8,183.8C931.3,185.9 933.3,189.2 933.7,191.3C934.1,193.3 933.3,195.6 931.3,196.2C929.2,196.8 924.2,195.8 921.3,195.0C918.4,194.1 914.3,190.6 913.9,191.3C913.5,191.9 916.4,196.2 918.8,198.7C921.3,201.2 926.3,203.7 928.8,206.1C931.3,208.6 940.8,212.3 933.7,213.6C926.7,214.8 895.3,216.1 886.6,213.6C877.9,211.1 883.7,202.4 881.6,198.7C879.6,195.0 876.7,193.7 874.2,191.3C871.7,188.8 868.8,186.7 866.8,183.8C864.7,180.9 863.0,177.2 861.8,173.9C860.5,170.6 861.4,166.9 859.3,164.0C857.2,161.1 852.3,158.6 849.4,156.5C846.5,154.5 841.5,152.6 841.9,151.6Z" fill="#f0430a"/>
<path d="M942.0,183.4C942.1,182.6 943.6,181.5 945.0,181.3C946.4,181.1 949.1,181.4 950.5,182.0C951.9,182.6 953.5,184.0 953.2,184.7C953.0,185.5 950.6,186.4 949.1,186.5C947.6,186.7 945.5,186.2 944.3,185.7C943.1,185.2 941.9,184.1 942.0,183.4Z" fill="#f0430a"/>
<path d="M868.9,186.1C859.8,188.0 872.5,194.6 874.8,197.8C877.1,201.1 880.3,202.7 882.6,205.6C884.9,208.6 886.2,212.8 888.5,215.4C890.7,218.0 893.3,219.6 896.3,221.2C899.2,222.9 902.8,224.3 906.0,225.2C909.3,226.0 913.5,226.6 915.8,226.1C918.1,225.6 919.7,223.7 919.7,222.2C919.7,220.8 917.4,218.8 915.8,217.3C914.2,215.9 909.6,214.3 909.9,213.4C910.3,212.6 914.8,212.5 917.8,212.5C920.7,212.5 925.1,213.9 927.5,213.4C930.0,212.9 932.4,210.8 932.4,209.5C932.4,208.2 929.6,206.6 927.5,205.6C925.4,204.6 922.3,204.6 919.7,203.7C917.1,202.7 912.2,200.9 911.9,199.8C911.6,198.6 915.1,197.3 917.8,196.8C920.4,196.3 924.7,197.2 927.5,196.8C930.3,196.5 933.4,195.9 934.4,194.9C935.3,193.9 934.2,192.4 933.4,191.0C932.6,189.5 940.2,186.9 929.5,186.1C918.7,185.3 878.0,184.1 868.9,186.1Z" fill="#f0430a"/>
<path d="M886.5,228.1C886.8,226.6 889.1,225.3 891.4,224.8C893.7,224.3 897.1,224.4 900.2,225.2C903.3,225.9 906.7,227.3 909.9,229.1C913.2,230.9 916.8,233.6 919.7,235.9C922.6,238.2 925.4,240.6 927.5,242.7C929.6,244.9 932.7,247.6 932.4,248.6C932.1,249.6 928.3,249.1 925.6,248.6C922.8,248.1 919.1,246.6 915.8,245.7C912.5,244.7 909.3,244.0 906.0,242.7C902.8,241.4 899.0,239.3 896.3,237.9C893.5,236.4 891.1,235.6 889.4,233.9C887.8,232.3 886.2,229.6 886.5,228.1Z" fill="#f0430a"/>
<path d="M896.3,247.6C896.9,246.8 899.5,245.7 901.1,245.7C902.8,245.7 905.2,246.8 906.0,247.6C906.8,248.4 906.8,249.8 906.0,250.5C905.2,251.3 902.6,252.1 901.1,252.1C899.7,252.1 898.1,251.3 897.2,250.5C896.4,249.8 895.6,248.4 896.3,247.6Z" fill="#f0430a"/>
<path d="M898.2,265.2C898.5,264.3 900.5,262.7 902.1,262.7C903.8,262.7 906.4,264.0 908.0,265.2C909.6,266.4 911.6,268.8 911.9,270.1C912.2,271.4 911.2,273.0 909.9,273.0C908.6,273.0 905.7,270.9 904.1,270.1C902.5,269.3 901.1,268.9 900.2,268.1C899.2,267.3 897.9,266.1 898.2,265.2Z" fill="#f0430a"/>
<path d="M888.5,277.9C888.1,276.6 890.4,275.3 892.4,275.0C894.3,274.6 897.6,275.1 900.2,275.9C902.8,276.8 905.7,277.9 908.0,279.8C910.3,281.8 913.0,285.1 913.8,287.7C914.7,290.3 913.5,292.9 912.9,295.5C912.2,298.1 910.1,300.7 909.9,303.3C909.8,305.9 910.4,308.5 911.9,311.1C913.4,313.7 918.4,317.4 918.7,318.9C919.1,320.4 916.0,320.5 913.8,319.9C911.7,319.2 908.6,316.5 906.0,315.0C903.4,313.5 900.0,312.9 898.2,311.1C896.4,309.3 896.1,306.2 895.3,304.3C894.5,302.3 894.6,300.7 893.3,299.4C892.0,298.1 888.1,297.7 887.5,296.4C886.8,295.1 888.0,292.2 889.4,291.6C890.9,290.9 894.6,293.2 896.3,292.5C897.9,291.9 899.5,289.3 899.2,287.7C898.9,286.0 896.1,284.4 894.3,282.8C892.5,281.1 888.8,279.2 888.5,277.9Z" fill="#f0430a"/>
<path d="M840.6,277.9C840.8,276.2 842.7,274.7 844.5,274.4C846.3,274.0 849.7,275.0 851.3,275.9C853.0,276.8 854.6,278.5 854.3,279.8C853.9,281.1 851.2,282.9 849.4,283.8C847.6,284.6 845.0,285.7 843.5,284.7C842.1,283.8 840.4,279.6 840.6,277.9Z" fill="#f0430a"/>
<path d="M840.6,295.4C841.8,293.4 842.9,292.0 844.5,291.5C846.2,291.0 848.8,291.2 850.4,292.5C852.0,293.8 852.7,296.9 854.3,299.3C855.9,301.7 858.2,304.5 860.2,307.1C862.1,309.7 863.4,313.1 866.0,314.9C868.6,316.7 872.9,316.7 875.8,317.9C878.7,319.0 881.5,320.0 883.6,321.8C885.7,323.5 887.0,325.8 888.5,328.6C889.9,331.4 892.1,335.8 892.4,338.4C892.7,341.0 892.2,342.4 890.4,344.2C888.6,346.0 884.2,347.5 881.6,349.1C879.0,350.7 874.8,352.4 874.8,354.0C874.8,355.6 878.9,356.9 881.6,358.9C884.4,360.8 891.1,363.6 891.4,365.7C891.7,367.8 885.9,369.8 883.6,371.6C881.3,373.4 880.0,375.5 877.7,376.4C875.5,377.4 872.5,377.7 869.9,377.4C867.3,377.1 864.7,375.3 862.1,374.5C859.5,373.7 857.2,372.9 854.3,372.5C851.4,372.2 847.5,371.9 844.5,372.5C841.6,373.2 838.7,375.0 836.7,376.4C834.8,377.9 834.8,380.3 832.8,381.3C830.9,382.4 827.3,383.7 825.0,382.9C822.7,382.1 821.4,378.3 819.1,376.4C816.9,374.6 811.7,373.4 811.3,371.6C811.0,369.8 817.2,368.0 817.2,365.7C817.2,363.4 812.8,360.5 811.3,357.9C809.9,355.3 808.4,352.7 808.4,350.1C808.4,347.5 809.9,344.9 811.3,342.3C812.8,339.7 814.9,337.1 817.2,334.5C819.5,331.8 822.4,328.8 825.0,326.6C827.6,324.5 830.7,324.0 832.8,321.8C834.9,319.5 836.9,316.1 837.7,313.0C838.5,309.9 837.2,306.1 837.7,303.2C838.2,300.3 839.5,297.3 840.6,295.4Z" fill="#f0430a"/>
<path d="M840.2,277.8C840.7,276.7 842.0,275.2 843.6,274.9C845.1,274.6 847.6,275.2 849.4,275.9C851.2,276.5 854.1,277.6 854.3,278.8C854.5,279.9 852.0,281.7 850.4,282.7C848.8,283.7 846.1,284.8 844.5,284.6C843.0,284.5 841.7,282.9 841.0,281.7C840.3,280.6 839.8,279.0 840.2,277.8Z" fill="#f0430a"/>
<path d="M824.0,413.7C824.7,413.1 826.8,412.2 828.9,412.1C831.0,412.0 834.0,413.2 836.7,413.3C839.5,413.4 843.9,412.3 845.5,412.7C847.1,413.1 847.6,415.0 846.5,415.6C845.3,416.3 841.3,416.5 838.7,416.6C836.1,416.7 833.1,416.2 830.9,416.0C828.6,415.9 826.1,416.0 825.0,415.6C823.9,415.2 823.4,414.3 824.0,413.7Z" fill="#f0430a"/>
<path d="M822.1,427.3C822.2,426.2 823.5,425.1 825.0,424.4C826.5,423.8 828.6,423.3 830.9,423.4C833.1,423.6 836.1,424.6 838.7,425.4C841.3,426.2 844.0,427.3 846.5,428.3C848.9,429.3 852.7,430.4 853.3,431.2C854.0,432.1 852.5,433.2 850.4,433.6C848.3,434.0 843.9,433.7 840.6,433.6C837.4,433.5 833.6,433.2 830.9,432.8C828.1,432.4 825.5,432.2 824.0,431.2C822.6,430.3 821.9,428.5 822.1,427.3Z" fill="#f0430a"/>
<path d="M897.7,352.1C897.9,351.4 899.0,350.4 899.8,350.7C900.6,351.1 902.3,353.2 902.5,354.2C902.7,355.1 901.8,356.1 901.1,356.2C900.5,356.3 899.4,355.5 898.8,354.8C898.2,354.2 897.6,352.8 897.7,352.1Z" fill="#f0430a"/>
<path d="M59.0,633.9C59.4,632.7 61.1,631.7 62.8,631.3C64.4,631.0 67.0,631.0 69.0,631.8C71.0,632.7 74.6,635.0 74.8,636.4C75.0,637.7 72.1,639.3 70.3,640.1C68.5,641.0 65.7,641.7 64.0,641.4C62.3,641.1 61.1,639.6 60.2,638.4C59.4,637.1 58.6,635.0 59.0,633.9Z" fill="#f0430a"/>
<path d="M140.6,696.6C140.3,693.6 141.0,687.8 141.8,684.1C142.7,680.3 143.7,676.7 145.6,674.0C147.5,671.3 150.4,669.3 153.1,667.7C155.8,666.1 159.5,664.3 161.9,664.5C164.3,664.7 166.5,666.6 167.7,669.0C168.8,671.4 169.2,675.7 168.7,679.0C168.1,682.4 166.0,685.9 164.4,689.1C162.9,692.2 161.7,695.7 159.4,697.9C157.1,700.0 153.2,701.4 150.6,702.1C148.0,702.8 145.2,703.0 143.6,702.1C141.9,701.2 140.9,699.6 140.6,696.6Z" fill="#f0430a"/>
<path d="M355.0,601.2C355.3,599.8 356.6,599.5 357.9,599.3C359.2,599.1 361.5,599.5 362.8,600.3C364.1,601.1 365.4,602.4 365.7,604.2C366.1,606.0 364.6,608.6 364.8,611.0C364.9,613.5 365.1,617.9 366.7,618.8C368.3,619.8 372.3,616.7 374.5,616.9C376.8,617.0 378.8,618.2 380.4,619.8C382.0,621.4 383.0,624.5 384.3,626.6C385.6,628.8 386.9,630.7 388.2,632.5C389.5,634.3 391.3,635.4 392.1,637.4C392.9,639.3 393.6,641.8 393.1,644.2C392.6,646.7 390.3,649.8 389.2,652.0C388.0,654.3 387.4,656.6 386.2,657.9C385.1,659.2 383.6,659.8 382.3,659.8C381.0,659.8 379.6,657.2 378.4,657.9C377.3,658.5 375.5,661.5 375.5,663.8C375.5,666.0 377.5,669.0 378.4,671.6C379.4,674.2 380.7,676.9 381.4,679.4C382.0,681.8 382.7,684.9 382.3,686.2C382.0,687.5 380.7,688.3 379.4,687.2C378.1,686.0 376.3,681.5 374.5,679.4C372.7,677.3 370.6,675.8 368.7,674.5C366.7,673.2 364.4,673.0 362.8,671.6C361.2,670.1 360.0,668.0 358.9,665.7C357.8,663.4 356.1,660.2 356.0,657.9C355.8,655.6 357.8,654.3 357.9,652.0C358.1,649.8 357.6,646.8 357.0,644.2C356.3,641.6 354.6,639.0 354.0,636.4C353.4,633.8 353.3,631.2 353.4,628.6C353.6,626.0 354.4,623.1 355.0,620.8C355.6,618.5 356.8,617.0 357.0,614.9C357.1,612.8 356.3,610.4 356.0,608.1C355.7,605.8 354.7,602.7 355.0,601.2Z" fill="#f0430a"/>
<path d="M294.5,698.9C295.1,694.3 296.4,693.0 298.4,691.1C300.3,689.1 303.6,688.5 306.2,687.2C308.8,685.9 311.7,683.9 314.0,683.3C316.3,682.6 318.2,682.3 319.8,683.3C321.5,684.3 322.8,686.9 323.8,689.1C324.7,691.4 325.1,694.3 325.7,697.0C326.4,699.6 327.0,701.2 327.7,704.8C328.3,708.3 335.1,716.2 329.6,718.4C324.1,720.7 300.3,721.7 294.5,718.4C288.6,715.2 293.8,703.5 294.5,698.9Z" fill="#f0430a"/>
<path d="M387.2,698.9C387.7,697.5 388.9,696.6 390.2,696.6C391.5,696.6 393.7,697.5 395.0,698.9C396.3,700.3 397.3,701.5 398.0,704.8C398.6,708.0 400.6,716.2 398.9,718.4C397.3,720.7 390.2,720.7 388.2,718.4C386.2,716.2 387.4,708.0 387.2,704.8C387.1,701.5 386.7,700.3 387.2,698.9Z" fill="#f0430a"/>
<path d="M475.2,495.7C475.0,494.9 476.6,493.7 478.1,493.3C479.6,492.9 482.5,492.8 483.9,493.1C485.4,493.4 486.7,494.3 486.9,495.1C487.0,495.8 486.2,497.1 484.9,497.6C483.6,498.1 480.7,498.5 479.1,498.2C477.4,497.9 475.3,496.5 475.2,495.7Z" fill="#f0430a"/>
<path d="M371.5,513.5C371.8,512.7 373.4,511.2 374.8,511.0C376.1,510.8 378.1,511.5 379.8,512.0C381.4,512.5 383.6,513.2 384.8,514.0C385.9,514.8 386.9,515.8 386.5,516.5C386.1,517.2 383.8,518.4 382.2,518.5C380.7,518.6 378.8,517.4 377.2,517.0C375.7,516.6 374.0,516.6 373.0,516.0C372.0,515.4 371.2,514.3 371.5,513.5Z" fill="#f0430a"/>
<path d="M559.1,635.4C559.2,634.4 560.4,633.9 562.0,633.9C563.6,633.9 566.7,634.7 568.8,635.4C570.9,636.2 573.1,637.3 574.7,638.4C576.2,639.4 578.4,640.8 578.2,641.7C578.0,642.6 575.6,643.4 573.7,643.6C571.8,643.9 569.0,643.8 566.9,643.2C564.8,642.7 562.3,641.6 561.0,640.3C559.7,639.0 558.9,636.5 559.1,635.4Z" fill="#f0430a"/>
<path d="M572.7,697.9C572.7,696.7 575.3,695.3 576.6,694.0C577.9,692.7 578.9,690.9 580.5,690.1C582.2,689.3 585.1,688.5 586.4,689.1C587.7,689.8 588.2,692.2 588.4,694.0C588.5,695.8 587.4,698.4 587.4,699.9C587.4,701.4 589.2,702.3 588.4,702.8C587.5,703.3 584.5,703.0 582.5,702.8C580.5,702.6 578.3,702.3 576.6,701.5C575.0,700.6 572.7,699.2 572.7,697.9Z" fill="#f0430a"/>
<path d="M605.9,689.1C606.6,688.2 609.8,688.0 611.8,688.2C613.8,688.3 615.9,688.8 617.7,690.1C619.4,691.4 621.1,693.7 622.5,696.0C624.0,698.3 625.6,700.5 626.4,703.8C627.3,707.1 628.2,713.6 627.4,715.5C626.6,717.5 623.2,717.1 621.6,715.5C619.9,713.9 619.3,708.4 617.7,705.8C616.0,703.1 613.4,701.8 611.8,699.9C610.2,697.9 608.9,695.8 607.9,694.0C606.9,692.2 605.3,690.1 605.9,689.1Z" fill="#f0430a"/>
<path d="M295.9,117.4C296.8,116.2 299.1,114.5 301.7,113.5C304.3,112.5 308.2,111.7 311.5,111.5C314.7,111.4 318.0,112.0 321.2,112.5C324.5,113.0 327.8,114.3 331.0,114.5C334.3,114.6 337.9,114.1 340.8,113.5C343.7,112.8 346.0,111.4 348.6,110.5C351.2,109.7 353.8,109.7 356.4,108.6C359.0,107.5 361.6,105.3 364.2,103.7C366.8,102.1 369.4,100.8 372.0,98.8C374.6,96.9 377.2,94.3 379.8,92.0C382.4,89.7 385.5,87.3 387.7,85.2C389.8,83.0 391.6,81.4 392.5,79.3C393.5,77.2 392.5,74.3 393.5,72.5C394.5,70.7 396.1,69.4 398.4,68.6C400.7,67.7 404.4,68.4 407.2,67.6C410.0,66.8 413.0,65.3 415.0,63.7C417.0,62.0 417.6,58.5 418.9,57.8C420.2,57.2 422.0,58.6 422.8,59.8C423.6,60.9 422.5,64.3 423.8,64.6C425.1,65.0 427.9,61.9 430.6,61.7C433.4,61.6 437.5,62.5 440.4,63.7C443.3,64.8 445.3,66.9 448.2,68.6C451.1,70.2 455.0,72.5 458.0,73.4C460.9,74.4 464.0,73.4 465.8,74.4C467.6,75.4 468.5,77.2 468.7,79.3C468.9,81.4 467.9,84.5 466.8,87.1C465.6,89.7 464.0,92.5 461.9,94.9C459.8,97.4 456.5,99.6 454.1,101.8C451.6,103.9 448.5,105.5 447.2,107.6C445.9,109.7 445.4,112.0 446.2,114.5C447.1,116.9 450.5,119.7 452.1,122.3C453.7,124.9 455.4,127.1 456.0,130.1C456.7,133.0 455.9,136.9 456.0,139.8C456.2,142.8 457.6,145.5 457.0,147.7C456.3,149.8 454.2,151.7 452.1,152.5C450.0,153.4 446.9,151.9 444.3,152.5C441.7,153.2 439.4,154.7 436.5,156.4C433.6,158.2 430.0,161.8 426.7,163.3C423.5,164.7 420.5,164.9 417.0,165.2C413.4,165.6 409.1,165.6 405.2,165.2C401.3,164.9 397.1,164.3 393.5,163.3C389.9,162.3 386.7,161.0 383.8,159.4C380.8,157.7 378.2,155.5 375.9,153.5C373.7,151.6 372.0,149.6 370.1,147.7C368.1,145.7 366.5,142.6 364.2,141.8C361.9,141.0 358.7,142.9 356.4,142.8C354.1,142.6 351.2,142.0 350.5,140.8C349.9,139.7 350.9,136.9 352.5,135.9C354.1,135.0 358.0,135.9 360.3,135.0C362.6,134.0 365.4,132.0 366.2,130.1C367.0,128.1 366.3,124.9 365.2,123.2C364.1,121.6 361.8,120.6 359.3,120.3C356.9,120.0 353.6,120.5 350.5,121.3C347.5,122.1 344.0,124.2 340.8,125.2C337.5,126.2 334.3,126.5 331.0,127.1C327.8,127.8 324.8,129.1 321.2,129.1C317.7,129.1 312.9,128.0 309.5,127.1C306.1,126.3 303.0,125.4 300.7,124.2C298.5,123.1 296.7,121.5 295.9,120.3C295.0,119.2 294.9,118.5 295.9,117.4Z" fill="#aa1020"/>
<path d="M386.7,116.4C387.7,114.8 390.7,113.5 393.5,112.5C396.3,111.5 400.4,110.4 403.3,110.5C406.2,110.7 408.5,112.5 411.1,113.5C413.7,114.5 415.7,115.9 418.9,116.4C422.2,116.9 427.0,116.6 430.6,116.4C434.2,116.2 438.1,115.1 440.4,115.4C442.7,115.8 444.3,117.1 444.3,118.4C444.3,119.7 442.7,122.1 440.4,123.2C438.1,124.4 433.9,124.4 430.6,125.2C427.4,126.0 424.1,127.8 420.9,128.1C417.6,128.5 414.3,127.6 411.1,127.1C407.8,126.7 404.3,125.5 401.3,125.2C398.4,124.9 395.8,125.7 393.5,125.2C391.2,124.7 388.8,123.7 387.7,122.3C386.5,120.8 385.7,118.0 386.7,116.4Z" fill="#f0430a"/>
<path d="M378.9,129.1C379.5,128.4 380.8,127.3 381.8,127.1C382.8,127.0 384.4,127.5 384.7,128.1C385.1,128.8 384.4,130.3 383.8,131.1C383.1,131.8 381.7,132.3 380.8,132.4C379.9,132.5 378.6,132.2 378.3,131.6C378.0,131.1 378.3,129.9 378.9,129.1Z" fill="#f0430a"/>
<path d="M390.6,88.1C390.9,86.6 393.4,84.2 395.5,84.2C397.6,84.2 400.7,86.8 403.3,88.1C405.9,89.4 409.5,90.7 411.1,92.0C412.7,93.3 413.7,94.9 413.0,95.9C412.4,96.9 409.5,97.9 407.2,97.9C404.9,97.9 401.7,96.7 399.4,95.9C397.1,95.1 395.0,94.3 393.5,93.0C392.1,91.7 390.3,89.6 390.6,88.1Z" fill="#f0430a"/>
<path d="M295.9,135.0C296.3,134.3 299.1,133.8 301.7,134.0C304.3,134.1 308.2,135.3 311.5,135.9C314.7,136.6 319.3,137.2 321.2,137.9C323.2,138.6 323.9,139.6 323.2,140.2C322.6,140.8 319.9,141.5 317.3,141.4C314.7,141.3 310.7,140.4 307.6,139.8C304.5,139.3 300.7,138.7 298.8,137.9C296.8,137.1 295.4,135.6 295.9,135.0Z" fill="#aa1020"/>
<path d="M332.0,147.7C333.3,147.0 336.7,146.4 338.8,146.7C340.9,147.0 343.5,148.5 344.7,149.6C345.8,150.7 346.3,152.5 345.7,153.5C345.0,154.5 342.7,155.5 340.8,155.5C338.8,155.5 335.6,154.3 333.9,153.5C332.3,152.7 331.3,151.6 331.0,150.6C330.7,149.6 330.7,148.3 332.0,147.7Z" fill="#aa1020"/>
<path d="M303.7,147.7C304.6,147.2 308.1,146.9 309.5,147.3C311.0,147.6 312.6,149.0 312.5,149.6C312.3,150.3 310.0,151.1 308.6,151.2C307.2,151.2 304.9,150.6 304.1,150.0C303.2,149.4 302.8,148.1 303.7,147.7Z" fill="#aa1020"/>
<path d="M449.2,57.8C449.8,56.8 451.8,55.9 453.1,55.9C454.4,55.9 456.3,56.8 457.0,57.8C457.6,58.8 457.6,60.7 457.0,61.7C456.3,62.8 454.4,64.0 453.1,64.1C451.8,64.1 449.8,63.2 449.2,62.1C448.5,61.1 448.5,58.9 449.2,57.8Z" fill="#aa1020"/>
<path d="M473.6,106.6C474.6,105.8 477.7,105.1 479.5,105.1C481.2,105.1 483.8,105.7 484.3,106.6C484.8,107.6 483.7,109.6 482.4,110.5C481.1,111.5 478.0,112.6 476.5,112.5C475.1,112.4 474.1,111.1 473.6,110.2C473.1,109.2 472.6,107.5 473.6,106.6Z" fill="#aa1020"/>
<path d="M288.0,186.7C289.7,185.4 294.2,185.3 297.8,184.8C301.4,184.3 306.0,183.6 309.5,183.8C313.1,184.0 317.3,184.9 319.3,185.7C321.2,186.6 321.9,187.5 321.2,188.7C320.6,189.8 320.9,191.9 315.4,192.6C309.9,193.2 292.6,193.6 288.0,192.6C283.5,191.6 286.4,188.0 288.0,186.7Z" fill="#aa1020"/>
<path d="M334.9,180.9C335.6,179.9 338.5,178.9 340.8,178.9C343.1,178.9 345.7,180.5 348.6,180.9C351.5,181.2 355.1,181.1 358.4,181.2C361.6,181.4 365.8,181.5 368.1,181.8C370.4,182.2 372.7,182.7 372.0,183.2C371.4,183.7 367.5,184.5 364.2,184.8C361.0,185.0 356.1,184.7 352.5,184.8C348.9,184.8 345.3,185.2 342.7,185.2C340.1,185.1 338.2,185.1 336.9,184.4C335.6,183.7 334.3,181.8 334.9,180.9Z" fill="#aa1020"/>
<path d="M535.9,52.2C536.5,51.9 540.3,53.0 542.7,54.2C545.2,55.3 548.3,56.9 550.5,59.1C552.8,61.2 554.8,64.3 556.4,66.9C558.0,69.5 558.7,72.7 560.3,74.7C561.9,76.6 563.9,77.6 566.2,78.6C568.5,79.6 571.1,79.9 574.0,80.5C576.9,81.2 580.8,81.7 583.8,82.5C586.7,83.3 591.2,84.5 591.6,85.4C591.9,86.4 587.5,87.2 585.7,88.4C583.9,89.5 581.8,90.6 580.8,92.3C579.8,93.9 579.7,96.3 579.8,98.1C580.0,99.9 582.4,101.5 581.8,103.0C581.1,104.5 577.6,105.4 575.9,106.9C574.3,108.4 574.0,110.5 572.0,111.8C570.1,113.1 566.7,114.6 564.2,114.7C561.8,114.9 558.8,113.9 557.4,112.8C555.9,111.6 555.1,109.5 555.4,107.9C555.8,106.3 559.2,104.6 559.3,103.0C559.5,101.4 558.2,99.3 556.4,98.1C554.6,97.0 551.0,96.7 548.6,96.2C546.2,95.7 542.7,96.0 541.8,95.2C540.8,94.4 541.3,92.3 542.7,91.3C544.2,90.3 548.8,90.5 550.5,89.3C552.3,88.2 553.3,86.6 553.5,84.5C553.6,82.3 552.3,79.2 551.5,76.6C550.7,74.0 549.7,71.4 548.6,68.8C547.5,66.2 546.3,63.1 544.7,61.0C543.1,58.9 540.3,57.6 538.8,56.1C537.4,54.7 535.2,52.6 535.9,52.2Z" fill="#aa1020"/>
<path d="M516.4,93.2C517.0,92.3 519.1,91.6 521.2,91.3C523.4,91.0 526.6,91.0 529.1,91.3C531.5,91.6 534.6,92.3 535.9,93.2C537.2,94.2 537.7,96.1 536.9,97.1C536.1,98.2 533.5,99.3 531.0,99.7C528.6,100.1 524.5,100.1 522.2,99.7C519.9,99.3 518.3,98.2 517.3,97.1C516.4,96.1 515.7,94.2 516.4,93.2Z" fill="#aa1020"/>
<path d="M503.7,93.2C504.2,92.7 506.3,91.8 507.6,91.9C508.8,91.9 510.9,92.8 511.1,93.4C511.3,94.1 509.6,95.5 508.6,95.8C507.5,96.1 505.5,95.8 504.6,95.4C503.8,95.0 503.2,93.8 503.7,93.2Z" fill="#aa1020"/>
<path d="M518.3,139.1C519.5,138.3 522.1,137.4 525.2,136.8C528.2,136.2 533.0,135.9 536.9,135.6C540.8,135.4 544.7,135.1 548.6,135.2C552.5,135.3 556.9,135.6 560.3,136.2C563.7,136.9 567.5,138.0 569.1,139.1C570.7,140.3 570.9,142.0 570.1,143.0C569.3,144.1 567.1,144.9 564.2,145.4C561.3,145.9 556.4,145.8 552.5,146.0C548.6,146.2 544.7,146.4 540.8,146.6C536.9,146.7 532.3,147.2 529.1,147.0C525.8,146.7 523.0,145.8 521.2,145.0C519.5,144.2 518.8,143.0 518.3,142.1C517.8,141.1 517.2,140.0 518.3,139.1Z" fill="#aa1020"/>
<path d="M568.1,47.3C568.3,45.6 569.4,41.8 571.1,39.5C572.7,37.3 575.1,35.0 577.9,33.7C580.7,32.3 584.1,31.7 587.7,31.3C591.2,31.0 595.5,31.3 599.4,31.7C603.3,32.1 607.5,32.9 611.1,33.7C614.7,34.5 618.6,35.3 620.9,36.6C623.1,37.9 624.3,39.7 624.8,41.5C625.3,43.3 624.6,45.7 623.8,47.3C623.0,49.0 619.4,50.4 619.9,51.2C620.4,52.1 624.3,51.7 626.7,52.2C629.2,52.7 632.3,53.4 634.5,54.2C636.8,55.0 638.1,56.9 640.4,57.1C642.7,57.3 645.6,56.1 648.2,55.2C650.8,54.2 653.7,52.6 656.0,51.2C658.3,49.9 660.2,49.0 661.9,47.3C663.5,45.7 664.5,43.3 665.8,41.5C667.1,39.7 669.5,38.6 669.7,36.6C669.9,34.6 668.1,31.9 666.8,29.8C665.5,27.6 663.7,26.5 661.9,23.9C660.1,21.3 655.1,16.1 656.0,14.1C656.9,12.2 665.1,9.9 667.3,12.1C669.6,14.4 668.3,23.9 669.3,27.8C670.3,31.7 671.6,33.6 673.2,35.6C674.8,37.5 677.1,39.2 679.1,39.5C681.0,39.8 683.8,39.0 684.9,37.5C686.1,36.1 684.6,32.5 685.9,30.7C687.2,28.9 689.6,27.6 692.7,26.8C695.8,26.0 701.4,26.3 704.5,25.8C707.5,25.3 709.7,23.5 711.3,23.9C712.9,24.2 712.8,26.9 714.2,27.8C715.7,28.7 718.1,29.6 720.1,29.3C722.0,29.1 724.6,29.1 725.9,26.2C727.2,23.3 723.0,14.5 727.9,12.1C732.8,9.8 750.4,9.7 755.2,12.1C760.1,14.6 757.2,23.4 757.2,26.8C757.2,30.2 756.5,31.0 755.2,32.6C753.9,34.3 751.7,35.4 749.4,36.6C747.1,37.7 744.2,38.3 741.6,39.5C739.0,40.6 736.4,42.1 733.8,43.4C731.1,44.7 728.5,46.3 725.9,47.3C723.3,48.3 721.1,49.1 718.1,49.2C715.2,49.4 711.9,48.1 708.4,48.3C704.8,48.4 700.5,49.7 696.6,50.2C692.7,50.7 688.0,50.6 684.9,51.2C681.8,51.9 678.7,52.7 678.1,54.1C677.4,55.6 679.2,58.4 681.0,60.0C682.8,61.6 685.9,63.1 688.8,63.9C691.8,64.7 695.8,64.8 698.6,64.9C701.4,65.0 704.8,64.2 705.4,64.5C706.1,64.8 704.6,65.9 702.5,66.8C700.4,67.7 696.0,68.6 692.7,69.8C689.5,70.9 685.9,72.2 683.0,73.7C680.0,75.1 677.8,76.8 675.2,78.5C672.6,80.3 669.9,82.6 667.3,84.4C664.7,86.2 662.1,87.8 659.5,89.3C656.9,90.8 654.3,92.3 651.7,93.2C649.1,94.1 646.8,94.2 643.9,94.6C641.0,94.9 638.0,95.4 634.5,95.2C631.0,95.0 626.4,94.1 622.8,93.2C619.2,92.4 616.0,91.5 613.0,90.3C610.1,89.2 607.2,88.4 605.2,86.4C603.3,84.5 602.3,81.2 601.3,78.6C600.4,76.0 599.5,73.4 599.4,70.8C599.2,68.2 599.7,64.9 600.4,63.0C601.0,61.0 603.4,60.0 603.3,59.1C603.1,58.1 601.3,57.6 599.4,57.1C597.4,56.6 594.2,56.8 591.6,56.1C589.0,55.5 586.4,54.0 583.8,53.2C581.1,52.4 578.2,51.7 575.9,51.2C573.7,50.8 571.4,50.9 570.1,50.3C568.8,49.6 568.0,49.1 568.1,47.3Z" fill="#aa1020"/>
<path d="M590.6,43.4C592.2,42.6 596.0,42.3 599.4,42.5C602.8,42.6 608.0,43.4 611.1,44.4C614.2,45.4 616.6,47.0 617.9,48.3C619.2,49.6 619.4,51.1 618.9,52.2C618.4,53.4 617.0,54.2 615.0,55.2C613.0,56.1 609.5,57.6 607.2,58.1C604.9,58.6 603.1,58.4 601.3,58.1C599.5,57.8 598.1,57.3 596.4,56.1C594.8,55.0 592.7,52.7 591.6,51.2C590.4,49.8 589.8,48.6 589.6,47.3C589.4,46.0 589.0,44.3 590.6,43.4Z" fill="#f0430a"/>
<path d="M787.4,79.6C787.0,77.5 788.2,74.9 789.8,73.4C791.5,72.0 794.8,70.9 797.3,70.9C799.8,70.9 802.7,72.0 804.7,73.4C806.7,74.9 808.8,77.8 809.2,79.6C809.6,81.5 808.8,83.4 807.2,84.6C805.6,85.7 802.3,86.4 799.8,86.6C797.3,86.8 794.4,87.0 792.3,85.8C790.3,84.7 787.8,81.7 787.4,79.6Z" fill="#aa1020"/>
<path d="M363.2,643.8C363.2,643.5 364.2,643.2 364.8,643.2C365.3,643.3 366.3,643.9 366.3,644.2C366.3,644.5 365.3,645.3 364.8,645.2C364.2,645.1 363.2,644.2 363.2,643.8Z" fill="#aa1020"/>
<path d="M400.4,73.4C400.8,72.7 402.8,72.0 404.3,71.9C405.7,71.7 408.2,71.9 409.1,72.5C410.1,73.0 410.6,74.5 410.1,75.4C409.6,76.3 407.7,77.6 406.2,77.7C404.7,77.9 402.3,77.1 401.3,76.4C400.4,75.7 399.9,74.2 400.4,73.4Z" fill="#f010e0"/>
<path d="M417.9,71.1C418.6,70.6 422.3,71.5 424.8,71.9C427.2,72.2 430.0,72.9 432.6,73.0C435.2,73.2 438.5,72.7 440.4,73.0C442.3,73.4 443.7,74.2 443.9,75.0C444.1,75.8 442.9,77.1 441.4,77.7C439.8,78.4 437.0,79.0 434.5,78.9C432.1,78.8 429.0,78.0 426.7,77.3C424.4,76.7 422.3,76.0 420.9,75.0C419.4,74.0 417.3,71.6 417.9,71.1Z" fill="#f010e0"/>
<path d="M426.1,135.9C426.2,134.4 426.6,132.3 427.7,131.1C428.8,129.9 430.6,129.0 432.6,128.7C434.5,128.4 437.5,128.5 439.4,129.1C441.4,129.7 443.2,130.7 444.3,132.0C445.4,133.3 446.0,135.3 445.9,136.9C445.7,138.5 444.7,140.6 443.3,141.8C441.9,143.0 439.6,143.9 437.5,144.1C435.3,144.4 432.4,144.0 430.6,143.4C428.9,142.7 427.9,141.5 427.1,140.2C426.4,139.0 426.0,137.5 426.1,135.9Z" fill="#f010e0"/>
<path d="M312.5,114.5C312.9,113.9 315.3,113.5 316.4,113.7C317.4,113.8 318.8,114.6 318.9,115.2C319.0,115.9 317.9,117.1 317.0,117.4C316.0,117.7 314.2,117.5 313.4,117.0C312.7,116.5 312.0,115.0 312.5,114.5Z" fill="#f010e0"/>
<path d="M306.6,187.7C307.3,187.0 310.2,186.6 311.5,186.7C312.8,186.8 314.3,187.6 314.4,188.3C314.6,189.0 313.6,190.6 312.5,191.0C311.3,191.5 308.6,191.6 307.6,191.0C306.6,190.5 306.0,188.4 306.6,187.7Z" fill="#f010e0"/>
<path d="M-5.0,15.0L6.2,20.8L13.0,22.1L13.7,28.2L13.0,33.0L8.2,35.8L3.4,36.5L2.7,37.1L8.2,40.6L10.3,44.0L11.0,52.2L13.7,53.6L20.6,50.9L22.6,55.7L27.4,59.1L31.3,59.1L30.9,62.5L28.1,64.6L20.6,64.6L15.1,65.9L12.3,68.7L13.0,72.8L15.8,72.1L21.9,71.4L27.4,72.8L41.1,71.4L57.6,69.6L67.9,69.6L64.4,72.8L57.6,75.5L52.8,76.2L52.8,81.0L56.9,82.4L56.9,85.8L52.1,87.9L54.8,91.3L59.0,89.2L64.4,85.1L63.8,81.0L67.2,81.0L74.0,79.0L76.8,81.0L82.3,82.4L83.0,86.5L89.1,87.9L93.9,91.3L97.4,87.2L100.1,85.8L107.0,88.6L108.3,91.3L104.2,94.7L108.3,96.8L109.7,102.3L116.6,107.1L122.0,111.2L127.5,113.2L131.6,114.6L140.0,116.2L150.0,112.5L160.0,108.8L172.5,110.0L176.2,111.2L180.0,101.2L183.8,92.5L183.8,82.5L190.0,78.0L212.5,79.5L225.0,82.0L256.0,94.5L261.0,100.0L271.0,110.0L281.0,117.5L296.0,121.8L316.0,117.5L338.5,115.5L349.8,108.0L356.0,110.0L368.5,97.5L391.0,82.5L399.8,81.2L406.0,86.2L426.0,95.0L441.0,88.8L443.5,85.0L453.5,80.0L461.0,76.2L468.5,77.5L471.5,85.0L468.5,92.5L456.0,102.5L449.8,108.8L453.5,117.5L458.5,127.5L453.5,132.5L447.2,145.0L456.0,152.5L459.8,162.5L456.0,172.5L454.8,182.0L459.8,192.0L452.2,200.8L444.8,214.5L441.0,229.5L434.8,230.8L428.5,247.0L422.2,257.0L416.0,270.8L413.5,275.8L412.2,284.5L406.0,287.0L403.5,307.0L397.2,324.5L391.0,337.0L383.5,349.5L376.0,358.2L369.8,364.0L390.1,340.2L381.2,352.9L368.5,364.3L353.3,370.6L338.1,372.7L329.2,370.6L322.8,367.6L312.7,366.8L297.4,371.9L287.3,376.2L279.7,370.6L272.0,365.6L264.4,363.0L253.0,352.9L249.2,352.3L239.0,355.4L228.9,355.4L213.6,348.3L203.5,349.0L183.2,355.4L173.0,354.1L171.7,356.7L162.9,365.6L155.2,363.0L140.0,371.9L145.0,371.5L130.0,380.2L112.5,387.8L103.8,387.8L92.5,381.5L70.0,375.2L46.2,374.0L43.8,367.8L37.5,369.0L22.5,367.8L18.8,364.0L17.5,360.0L0.0,358.2L-5.0,358.0L-5.0,15.0" fill="none" stroke="#111" stroke-width="0.7" stroke-linejoin="round"/>
<path d="M283.5,431.0L281.0,432.8L276.0,441.5L273.5,450.2L277.2,456.5L286.0,471.5L289.8,484.0L298.5,496.5L306.0,509.0L314.8,516.5L323.5,527.8L331.0,537.8L333.5,546.0L336.3,553.5L343.9,563.6L350.1,573.6L353.9,583.7L357.7,592.4L356.4,600.0L363.9,611.3L374.0,626.3L386.5,648.9L396.6,669.0L406.6,686.6L414.1,701.6L417.9,711.7L421.7,721.7L534.8,715.5L530.9,708.7L525.0,700.9L521.1,695.0L525.0,693.0L527.0,687.2L524.0,679.4L519.1,671.6L515.2,663.8L511.3,655.9L507.4,650.1L501.6,647.1L495.7,648.1L493.8,643.2L496.7,638.4L495.7,632.5L487.9,628.6L482.0,620.8L476.2,611.0L468.4,599.3L469.4,596.2L456.8,581.1L446.8,567.3L436.7,556.0L431.7,546.0L431.0,546.0L427.2,539.0L421.0,531.5L413.5,526.5L406.0,529.0L398.5,527.8L392.2,530.2L389.8,526.5L392.2,520.2L396.0,511.5L399.8,499.0L401.0,489.0L403.5,476.5L407.2,464.0L409.0,455.2L407.2,453.5L401.0,461.5L396.0,471.5L392.2,481.5L388.5,496.5L384.8,506.5L381.0,516.5L383.5,524.0L381.0,529.0L373.5,539.0L369.8,544.0L356.0,539.0L338.5,526.5L328.5,514.0L318.5,500.2L316.0,486.5L306.0,471.5L293.5,459.0L291.0,449.0L287.2,439.0L284.8,431.5L283.5,431.0" fill="none" stroke="#111" stroke-width="0.7" stroke-linejoin="round"/>
<path d="M181.9,357.9L190.8,354.1L200.9,350.8L208.6,350.3L210.6,352.9L204.8,355.9L195.9,357.4L185.7,359.7L181.9,357.9" fill="none" stroke="#111" stroke-width="0.7" stroke-linejoin="round"/>
<path d="M249.2,352.9L253.0,352.9L259.3,360.5L269.5,365.6L271.5,369.4L267.0,374.4L260.6,375.7L258.1,370.6L251.7,368.1L245.4,364.3L246.7,357.9L249.2,352.9" fill="none" stroke="#111" stroke-width="0.7" stroke-linejoin="round"/>
<path d="M291.1,376.2L302.5,370.6L312.7,368.1L322.8,369.4L329.2,371.1L322.8,373.7L317.8,376.2L315.2,376.5L313.9,371.9L305.1,373.7L297.4,376.2L291.1,376.2" fill="none" stroke="#111" stroke-width="0.7" stroke-linejoin="round"/>
<path d="M271.5,410.0L275.9,408.2L279.2,412.5L283.5,416.3L285.3,420.1L282.2,418.9L277.1,416.3L272.6,413.8L271.5,410.0" fill="none" stroke="#111" stroke-width="0.7" stroke-linejoin="round"/>
<path d="M452.2,129.5L457.1,127.6L464.9,130.5L468.8,131.5L471.8,126.6L478.6,122.7L479.0,118.0L480.0,111.8L490.8,109.8L494.7,108.8L492.7,103.9L488.8,100.0L489.8,90.3L492.7,81.5L500.5,82.5L508.4,85.4L513.2,91.2L524.0,89.9L535.7,88.7L545.5,85.4L557.2,81.5L568.9,77.6L576.7,76.6L588.4,80.5L596.2,86.4L608.0,87.9L623.6,87.3L640.0,87.3" fill="none" stroke="#000" stroke-width="1" stroke-linejoin="round"/>
<path d="M640.0,87.3L651.7,84.4L663.4,79.5L675.2,74.6L686.9,69.8L698.6,66.8L710.3,65.9L725.9,68.4L741.6,67.8L757.2,64.9L768.9,61.9L774.8,58.0L778.7,55.1L781.6,58.0L785.5,60.0L785.5,65.9L787.5,69.8" fill="none" stroke="#000" stroke-width="1" stroke-linejoin="round"/>
<path d="M787.4,67.2L797.3,62.3L807.2,53.6L819.6,54.8L832.0,57.3L844.4,61.0L856.8,62.3L869.2,57.3L874.2,58.5L879.2,62.3L881.6,69.7L881.4,72.0L884.9,74.1L887.0,69.9L892.7,67.8L898.3,64.3L903.9,62.9L908.8,62.9" fill="none" stroke="#000" stroke-width="1" stroke-linejoin="round"/>
<path d="M880.0,17.9L881.4,26.3L887.0,27.7L892.0,30.5L898.3,33.4L900.4,38.3L899.0,43.2L900.4,48.1L905.3,51.6L910.2,55.9L911.6,58.7L909.5,62.2L908.8,65.0L914.5,69.9L915.9,74.9L913.8,80.5L917.3,84.0L922.2,86.1L924.3,90.3L922.2,95.9L926.4,100.9L932.0,102.3L935.6,107.2L937.7,114.2L939.8,122.0L948.6,123.0L958.5,128.0L968.5,131.7L980.9,131.7L989.5,134.2L985.8,137.9L975.9,139.2L972.2,144.1L973.4,154.0L980.9,161.5L979.6,168.9L970.9,171.4L963.5,178.8L961.0,183.8L956.1,188.8L954.8,195.0L948.6,198.7L943.7,203.7L946.1,210.1L956.8,190.0L957.8,195.9L949.0,196.8L944.1,201.7L945.1,207.6L951.0,209.5L949.0,217.3L944.1,222.2L941.2,227.1L947.0,230.0L952.9,236.9L958.8,242.7L960.7,246.6L966.6,244.7L969.5,250.5L974.4,254.5L978.3,260.3L981.2,265.2L979.3,270.1L975.4,272.0L978.3,275.0L976.3,278.9L986.1,279.8L995.9,282.8L1005.6,287.7L1015.4,294.5L1025.2,301.3" fill="none" stroke="#000" stroke-width="1" stroke-linejoin="round"/>
<path d="M787.5,69.8L776.7,78.5L767.0,86.4L757.2,93.2L747.4,95.1L736.7,97.1L731.8,103.9L729.8,111.8L728.9,119.6L732.8,127.4L735.7,135.2L734.7,143.0L730.8,148.9L728.9,160.0L727.5,182.0L725.8,188.2L715.8,204.5L702.0,208.2L603.2,258.2L512.0,305.8" fill="none" stroke="#000" stroke-width="1" stroke-linejoin="round"/>
<path d="M512.0,307.0L502.2,312.0L493.5,309.5L481.0,305.8L468.5,302.0L462.2,297.0L456.0,292.0L448.5,290.0L442.2,292.0" fill="none" stroke="#000" stroke-width="1" stroke-linejoin="round"/>
<path d="M603.2,258.2L617.0,303.2L613.2,304.0L615.0,312.0L627.0,310.0L629.0,315.8L622.0,321.5L613.2,328.2L512.0,354.5L509.0,355.5L520.8,364.0L562.0,404.0L545.8,411.5L537.0,430.2L512.0,435.2L498.5,437.8L463.5,471.5L408.5,464.0" fill="none" stroke="#000" stroke-width="1" stroke-linejoin="round"/>
<path d="M622.0,321.5L687.0,331.5L749.5,364.0L768.0,372.8L905.5,471.5L988.0,477.8L1028.0,479.8" fill="none" stroke="#000" stroke-width="1" stroke-linejoin="round"/>
<path d="M1028.0,439.0L1023.0,446.5L1018.0,459.0L1000.5,476.5L990.5,478.2" fill="none" stroke="#000" stroke-width="1" stroke-linejoin="round"/>
<path d="M459.8,192.0L476.0,190.8L477.2,194.5L482.2,194.0L479.8,199.5L486.0,204.5L491.0,212.0L488.5,219.5L481.0,225.8L476.0,230.8L478.5,234.5L468.5,235.8L458.5,243.2L462.2,248.2L456.0,253.2L448.5,258.2L438.5,263.2L436.0,270.8L428.5,273.2L421.0,270.8L414.8,272.0" fill="none" stroke="#000" stroke-width="1" stroke-linejoin="round"/>
<path d="M438.5,263.2L442.2,268.2L446.0,275.8L447.2,282.0L443.0,289.5" fill="none" stroke="#000" stroke-width="1" stroke-linejoin="round"/>
<path d="M439.8,292.0L438.5,302.0L437.2,312.0L438.5,322.0L437.2,332.0L436.0,340.8" fill="none" stroke="#000" stroke-width="1" stroke-linejoin="round"/>
<path d="M369.8,364.0L376.0,379.0L384.8,406.5L387.2,410.2L396.0,426.5L402.2,446.5L403.5,455.2L407.2,453.5" fill="none" stroke="#000" stroke-width="1" stroke-linejoin="round"/>
<path d="M431.0,374.0L428.5,384.0L422.2,396.5L417.2,409.0L416.0,424.0L412.2,434.0L409.0,446.5L407.2,453.5" fill="none" stroke="#000" stroke-width="1" stroke-linejoin="round"/>
<path d="M269.5,169.3L271.5,172.3L274.4,178.1L276.4,184.0L279.3,187.9L285.2,190.2L293.0,191.8L300.8,190.8L304.7,195.7L307.6,195.7L308.6,191.8L314.5,190.2L322.3,188.9L328.1,186.9L334.0,184.0L337.9,180.1L341.8,176.2L343.8,172.3L347.7,173.2L351.6,176.2L356.4,175.2L359.4,173.2L363.3,176.2L359.4,172.3L355.5,168.4L353.5,163.5L356.4,158.6L363.3,154.7L371.1,148.8L378.9,143.9L386.7,140.0L388.7,139.1L382.8,140.0L375.0,143.0L367.2,146.9L359.4,150.8L351.6,153.7L341.8,155.7L332.0,156.6L322.3,157.0L312.5,156.6L306.6,154.7L303.7,155.7L302.7,160.5L299.8,164.5L293.0,165.4L285.2,166.4L279.3,169.3L273.4,170.3L269.5,169.3" fill="none" stroke="#111" stroke-width="0.7" stroke-linejoin="round"/>
<path d="M0.5,21.0L1023.5,21.0L1023.5,711.3L0.5,711.3L0.5,358.0" fill="none" stroke="#444" stroke-width="1" stroke-dasharray="1.2,3.6"/>
<path d="M23.3,44.7L28.8,43.3L39.8,46.7L48.0,48.1L57.6,47.4L61.7,43.3L67.2,41.9L74.0,44.7L79.5,46.7L85.0,52.2L90.5,56.3L94.6,60.4L101.5,63.9L108.3,72.1L115.2,76.2L122.0,73.5L130.3,72.1L139.9,74.2" fill="none" stroke="#333" stroke-width="1.05" stroke-dasharray="1.3,4.2" stroke-linejoin="round"/>
<path d="M91.9,25.5L93.2,30.3L96.0,33.7L93.2,37.1L89.1,40.6L83.6,41.3L79.5,44.7" fill="none" stroke="#333" stroke-width="1.05" stroke-dasharray="1.3,4.2" stroke-linejoin="round"/>
<path d="M137.1,22.7L137.8,29.6L137.1,37.1L131.6,41.9L129.6,47.4L131.6,51.5L127.5,58.4L123.4,65.2L120.7,69.4L120.7,74.2L116.6,76.2" fill="none" stroke="#333" stroke-width="1.05" stroke-dasharray="1.3,4.2" stroke-linejoin="round"/>
<path d="M139.9,76.2L135.7,80.3L133.0,87.2L131.6,92.7L126.1,96.8L120.7,100.9L116.6,107.8" fill="none" stroke="#333" stroke-width="1.05" stroke-dasharray="1.3,4.2" stroke-linejoin="round"/>
<path d="M15.1,26.9L20.6,25.5L25.4,22.7" fill="none" stroke="#333" stroke-width="1.05" stroke-dasharray="1.3,4.2" stroke-linejoin="round"/>
<path d="M136.2,80.0L142.5,70.0L150.0,62.5L162.5,58.8L175.0,57.5L187.5,60.0L200.0,58.8" fill="none" stroke="#333" stroke-width="1.05" stroke-dasharray="1.3,4.2" stroke-linejoin="round"/>
<path d="M130.0,47.5L135.0,40.0L145.0,33.8L157.5,31.2L170.0,30.0L180.0,33.8L190.0,42.5L197.5,50.0L207.5,53.8L220.0,51.2L222.5,45.0L220.0,37.5L217.5,30.0" fill="none" stroke="#333" stroke-width="1.05" stroke-dasharray="1.3,4.2" stroke-linejoin="round"/>
<path d="M130.0,47.5L130.0,55.0L125.0,65.0L122.5,72.5L127.5,72.5L135.0,72.5L136.2,80.0L130.0,90.0L122.5,100.0L117.5,107.5" fill="none" stroke="#333" stroke-width="1.05" stroke-dasharray="1.3,4.2" stroke-linejoin="round"/>
<path d="M136.2,21.0L138.8,27.5L147.5,32.5L157.5,31.2" fill="none" stroke="#333" stroke-width="1.05" stroke-dasharray="1.3,4.2" stroke-linejoin="round"/>
<path d="M165.0,21.0L165.0,27.5L170.0,30.0" fill="none" stroke="#333" stroke-width="1.05" stroke-dasharray="1.3,4.2" stroke-linejoin="round"/>
<path d="M222.5,51.2L235.0,53.8L247.5,56.2L256.0,60.0" fill="none" stroke="#333" stroke-width="1.05" stroke-dasharray="1.3,4.2" stroke-linejoin="round"/>
<path d="M256.0,62.5L266.0,67.5L273.5,75.0L279.8,85.0L281.0,95.0L288.5,100.0L289.8,110.0L286.0,117.5" fill="none" stroke="#333" stroke-width="1.05" stroke-dasharray="1.3,4.2" stroke-linejoin="round"/>
<path d="M279.8,85.0L286.0,75.0L293.5,65.0L303.5,53.8L316.0,47.5L331.0,45.0L341.0,38.8L347.2,40.0L351.0,47.5L356.0,53.8L363.5,58.8L361.0,65.0L351.0,70.0L338.5,72.5L326.0,75.0L313.5,80.0L306.0,83.8L308.5,90.0L314.8,96.2" fill="none" stroke="#333" stroke-width="1.05" stroke-dasharray="1.3,4.2" stroke-linejoin="round"/>
<path d="M363.5,58.8L373.5,61.2L386.0,56.2L396.0,53.8L401.0,47.5" fill="none" stroke="#333" stroke-width="1.05" stroke-dasharray="1.3,4.2" stroke-linejoin="round"/>
<path d="M326.0,21.0L338.5,25.0L351.0,23.8L366.0,22.5L376.0,28.8L381.0,36.2L378.5,46.2L383.5,52.5L396.0,53.8" fill="none" stroke="#333" stroke-width="1.05" stroke-dasharray="1.3,4.2" stroke-linejoin="round"/>
<path d="M403.5,60.0L406.0,67.5L411.0,75.0L413.5,82.5" fill="none" stroke="#333" stroke-width="1.05" stroke-dasharray="1.3,4.2" stroke-linejoin="round"/>
<path d="M421.0,21.0L418.5,28.8L431.0,31.2L441.0,32.5L442.2,25.0L441.0,21.0" fill="none" stroke="#333" stroke-width="1.05" stroke-dasharray="1.3,4.2" stroke-linejoin="round"/>
<path d="M441.0,32.5L453.5,37.5L463.5,40.0L473.5,37.5L478.5,30.0L477.2,21.0" fill="none" stroke="#333" stroke-width="1.05" stroke-dasharray="1.3,4.2" stroke-linejoin="round"/>
<path d="M463.5,40.0L458.5,50.0L458.5,62.5L463.5,72.5L468.5,75.0" fill="none" stroke="#333" stroke-width="1.05" stroke-dasharray="1.3,4.2" stroke-linejoin="round"/>
<path d="M458.5,62.5L473.5,53.8L488.5,52.5L501.0,56.2L512.0,53.8" fill="none" stroke="#333" stroke-width="1.05" stroke-dasharray="1.3,4.2" stroke-linejoin="round"/>
<path d="M474.8,53.8L476.0,65.0L478.5,75.0" fill="none" stroke="#333" stroke-width="1.05" stroke-dasharray="1.3,4.2" stroke-linejoin="round"/>
<path d="M471.8,134.4L472.7,147.1L473.7,158.8L474.7,170.5L476.6,179.3L471.8,185.2L466.9,190.1" fill="none" stroke="#333" stroke-width="1.05" stroke-dasharray="1.3,4.2" stroke-linejoin="round"/>
<path d="M476.6,179.3L484.5,180.3L494.2,177.4L504.0,176.4L510.8,180.3L521.6,178.4L529.4,175.4L539.1,171.5L548.9,168.6L554.8,170.5L562.6,178.4L566.5,172.5L574.3,167.6L578.2,160.8L578.2,154.9" fill="none" stroke="#333" stroke-width="1.05" stroke-dasharray="1.3,4.2" stroke-linejoin="round"/>
<path d="M471.8,134.4L478.6,136.4L481.5,143.2L480.5,149.1L484.5,152.0L494.2,153.9L504.0,153.9L513.8,156.9L517.7,149.1L523.5,147.1L533.3,148.1L545.0,151.0L556.7,152.0L572.3,152.0L578.2,154.9L589.9,154.9L603.6,156.9L620.0,158.8" fill="none" stroke="#333" stroke-width="1.05" stroke-dasharray="1.3,4.2" stroke-linejoin="round"/>
<path d="M500.1,117.8L505.9,121.7L511.8,129.5L515.7,135.4L516.7,143.2L517.7,149.1" fill="none" stroke="#333" stroke-width="1.05" stroke-dasharray="1.3,4.2" stroke-linejoin="round"/>
<path d="M570.4,127.6L566.5,135.4L568.4,143.2L572.3,152.0" fill="none" stroke="#333" stroke-width="1.05" stroke-dasharray="1.3,4.2" stroke-linejoin="round"/>
<path d="M491.3,214.5L502.0,214.5L509.8,219.4L517.7,225.2L529.4,231.1L541.1,240.9L552.8,252.0" fill="none" stroke="#333" stroke-width="1.05" stroke-dasharray="1.3,4.2" stroke-linejoin="round"/>
<path d="M491.0,214.5L503.5,214.0L512.0,219.5" fill="none" stroke="#333" stroke-width="1.05" stroke-dasharray="1.3,4.2" stroke-linejoin="round"/>
<path d="M456.0,259.5L458.5,269.5L456.0,279.5L453.5,287.0" fill="none" stroke="#333" stroke-width="1.05" stroke-dasharray="1.3,4.2" stroke-linejoin="round"/>
<path d="M458.5,269.5L468.5,264.5L481.0,263.2L496.0,265.8L512.0,265.8" fill="none" stroke="#333" stroke-width="1.05" stroke-dasharray="1.3,4.2" stroke-linejoin="round"/>
<path d="M481.0,263.2L478.5,277.0L481.0,289.5L486.0,302.0L488.5,307.0" fill="none" stroke="#333" stroke-width="1.05" stroke-dasharray="1.3,4.2" stroke-linejoin="round"/>
<path d="M408.5,287.0L416.0,292.0L418.5,299.5L431.0,300.8L437.2,304.5" fill="none" stroke="#333" stroke-width="1.05" stroke-dasharray="1.3,4.2" stroke-linejoin="round"/>
<path d="M403.5,307.0L406.0,317.0L411.0,324.5L421.0,329.5L431.0,332.0L437.2,332.0" fill="none" stroke="#333" stroke-width="1.05" stroke-dasharray="1.3,4.2" stroke-linejoin="round"/>
<path d="M397.2,337.0L406.0,342.0L416.0,342.0L421.0,337.0" fill="none" stroke="#333" stroke-width="1.05" stroke-dasharray="1.3,4.2" stroke-linejoin="round"/>
<path d="M406.0,342.0L408.5,352.0L416.0,362.0" fill="none" stroke="#333" stroke-width="1.05" stroke-dasharray="1.3,4.2" stroke-linejoin="round"/>
<path d="M642.0,182.0L657.0,197.0L667.0,212.0L674.5,220.8" fill="none" stroke="#333" stroke-width="1.05" stroke-dasharray="1.3,4.2" stroke-linejoin="round"/>
<path d="M512.0,222.0L524.5,228.2L537.0,242.0L547.0,252.0L562.0,259.5L578.2,268.2" fill="none" stroke="#333" stroke-width="1.05" stroke-dasharray="1.3,4.2" stroke-linejoin="round"/>
<path d="M512.0,273.2L524.5,280.8L537.0,292.0" fill="none" stroke="#333" stroke-width="1.05" stroke-dasharray="1.3,4.2" stroke-linejoin="round"/>
<path d="M560.8,342.0L558.2,354.5L557.0,364.0" fill="none" stroke="#333" stroke-width="1.05" stroke-dasharray="1.3,4.2" stroke-linejoin="round"/>
<path d="M135.0,379.0L133.8,396.5L135.0,411.5L140.0,417.8L155.0,425.2L170.0,434.0" fill="none" stroke="#333" stroke-width="1.05" stroke-dasharray="1.3,4.2" stroke-linejoin="round"/>
<path d="M147.5,371.5L150.0,384.0L153.8,394.0L147.5,401.5L138.8,406.5L135.0,411.5" fill="none" stroke="#333" stroke-width="1.05" stroke-dasharray="1.3,4.2" stroke-linejoin="round"/>
<path d="M200.0,409.0L197.5,412.8L185.0,424.0L170.0,434.0L155.0,444.0L140.0,451.5L130.0,457.8L120.0,466.5L110.0,475.2L100.0,484.0L90.0,491.5L75.0,496.5L60.0,499.0L45.0,501.5L37.5,506.5L30.0,519.0L25.0,531.5L18.8,546.0" fill="none" stroke="#333" stroke-width="1.05" stroke-dasharray="1.3,4.2" stroke-linejoin="round"/>
<path d="M180.0,366.5L190.0,374.0L193.8,384.0L195.0,394.0L197.5,404.0L198.8,411.5L207.5,417.8L220.0,422.8L232.5,420.2L245.0,415.2L250.0,411.5" fill="none" stroke="#333" stroke-width="1.05" stroke-dasharray="1.3,4.2" stroke-linejoin="round"/>
<path d="M195.0,380.2L207.5,376.5L215.0,372.8L220.0,371.5L220.0,384.0L218.8,396.5L220.0,401.5" fill="none" stroke="#333" stroke-width="1.05" stroke-dasharray="1.3,4.2" stroke-linejoin="round"/>
<path d="M197.5,394.0L207.5,395.2L217.5,400.2L220.0,401.5L225.0,390.2L235.0,387.8L245.0,379.0L256.0,374.0" fill="none" stroke="#333" stroke-width="1.05" stroke-dasharray="1.3,4.2" stroke-linejoin="round"/>
<path d="M220.0,401.5L225.0,414.0L235.0,419.0" fill="none" stroke="#333" stroke-width="1.05" stroke-dasharray="1.3,4.2" stroke-linejoin="round"/>
<path d="M247.5,401.5L256.0,401.5" fill="none" stroke="#333" stroke-width="1.05" stroke-dasharray="1.3,4.2" stroke-linejoin="round"/>
<path d="M247.5,401.5L246.2,411.5L250.0,411.5L252.5,426.5L251.2,441.5L250.0,464.0L248.8,481.5" fill="none" stroke="#333" stroke-width="1.05" stroke-dasharray="1.3,4.2" stroke-linejoin="round"/>
<path d="M217.5,424.0L220.0,441.5L252.5,441.5" fill="none" stroke="#333" stroke-width="1.05" stroke-dasharray="1.3,4.2" stroke-linejoin="round"/>
<path d="M145.0,476.5L155.0,466.5L170.0,455.2L185.0,446.5L197.5,444.0L206.2,445.2L208.8,456.5L217.5,464.0L220.0,469.0L232.5,476.5L248.8,481.5" fill="none" stroke="#333" stroke-width="1.05" stroke-dasharray="1.3,4.2" stroke-linejoin="round"/>
<path d="M208.8,459.0L205.0,469.0L190.0,477.8L172.5,481.5L155.0,479.0L145.0,476.5" fill="none" stroke="#333" stroke-width="1.05" stroke-dasharray="1.3,4.2" stroke-linejoin="round"/>
<path d="M145.0,476.5L142.5,491.5L147.5,493.5L202.5,493.5" fill="none" stroke="#333" stroke-width="1.05" stroke-dasharray="1.3,4.2" stroke-linejoin="round"/>
<path d="M217.5,464.0L215.0,476.5L205.0,489.0L200.0,504.0L196.2,519.0L198.8,534.0L202.5,546.0" fill="none" stroke="#333" stroke-width="1.05" stroke-dasharray="1.3,4.2" stroke-linejoin="round"/>
<path d="M142.5,491.5L137.5,504.0L130.0,516.5L117.5,526.5L102.5,534.0L90.0,539.0L86.2,546.0" fill="none" stroke="#333" stroke-width="1.05" stroke-dasharray="1.3,4.2" stroke-linejoin="round"/>
<path d="M256.0,399.0L261.0,389.0L266.0,379.0L273.5,371.5" fill="none" stroke="#333" stroke-width="1.05" stroke-dasharray="1.3,4.2" stroke-linejoin="round"/>
<path d="M286.0,376.5L287.2,391.5L291.0,406.5L296.0,416.5L298.5,429.0L298.5,435.2L291.0,439.0" fill="none" stroke="#333" stroke-width="1.05" stroke-dasharray="1.3,4.2" stroke-linejoin="round"/>
<path d="M258.5,417.8L271.0,417.8L283.5,417.0L296.0,417.0" fill="none" stroke="#333" stroke-width="1.05" stroke-dasharray="1.3,4.2" stroke-linejoin="round"/>
<path d="M298.5,435.2L313.5,434.0L331.0,436.5L348.5,441.5L366.0,447.8L383.5,452.8L402.2,456.5" fill="none" stroke="#333" stroke-width="1.05" stroke-dasharray="1.3,4.2" stroke-linejoin="round"/>
<path d="M256.0,482.8L268.5,480.2L281.0,476.5L288.5,475.2" fill="none" stroke="#333" stroke-width="1.05" stroke-dasharray="1.3,4.2" stroke-linejoin="round"/>
<path d="M403.5,487.0L418.5,484.0L436.0,482.8L453.5,481.5L466.0,486.5L478.5,500.2L491.0,501.5L508.5,499.0" fill="none" stroke="#333" stroke-width="1.05" stroke-dasharray="1.3,4.2" stroke-linejoin="round"/>
<path d="M0.0,549.8L188.3,549.8L187.0,554.8L193.3,563.6L205.8,573.6L215.9,583.7L223.4,592.4L233.4,601.2L241.0,611.3L251.0,621.3L256.0,626.3" fill="none" stroke="#333" stroke-width="1.05" stroke-dasharray="1.3,4.2" stroke-linejoin="round"/>
<path d="M188.3,549.8L202.1,548.5L203.3,558.6L213.4,566.1L223.4,573.6L230.9,586.2L241.0,594.9L251.0,606.2L256.0,612.5" fill="none" stroke="#333" stroke-width="1.05" stroke-dasharray="1.3,4.2" stroke-linejoin="round"/>
<path d="M230.0,581.7L237.8,591.5L247.6,601.2L255.4,613.0L265.2,621.8L274.9,626.6L284.7,621.8L292.5,621.2L298.4,624.7L303.2,632.5L302.3,644.2L297.4,652.0L290.5,659.8L287.6,667.7L292.5,675.5L300.3,681.3L306.2,689.1L310.1,698.9L314.0,712.0" fill="none" stroke="#333" stroke-width="1.05" stroke-dasharray="1.3,4.2" stroke-linejoin="round"/>
<path d="M230.0,601.2L239.8,613.0L249.5,622.7L255.4,628.6L263.2,626.6L269.1,625.7" fill="none" stroke="#333" stroke-width="1.05" stroke-dasharray="1.3,4.2" stroke-linejoin="round"/>
<path d="M255.4,628.6L265.2,636.4L274.9,634.5L286.6,629.6L292.5,629.6L294.5,634.5L288.6,642.3L282.7,648.1L278.8,654.0L279.8,661.8L282.7,669.6L290.5,678.4L297.4,687.2L300.3,697.0L303.2,712.0" fill="none" stroke="#333" stroke-width="1.05" stroke-dasharray="1.3,4.2" stroke-linejoin="round"/>
<path d="M500.7,573.6L507.0,571.1L512.0,569.8" fill="none" stroke="#333" stroke-width="1.05" stroke-dasharray="1.3,4.2" stroke-linejoin="round"/>
<path d="M557.0,364.0L562.0,371.5L572.0,382.8L587.0,382.8L607.0,381.5L622.0,381.5L637.0,382.8L652.0,385.2L667.0,390.2L682.0,392.8L697.0,392.8L712.0,392.8L722.0,399.0L737.0,402.8L747.0,409.0L757.0,417.8L762.0,425.2L752.0,432.8L737.0,441.5L722.0,450.2L707.0,457.8L703.2,466.5L703.2,476.5L699.5,486.5L692.0,490.2L677.0,495.2L662.0,501.5L647.0,507.8L632.0,512.8L619.5,519.0L612.0,522.8L599.5,524.0L584.5,520.2L569.5,519.0L557.0,514.0L552.0,504.0L549.5,489.0" fill="none" stroke="#333" stroke-width="1.05" stroke-dasharray="1.3,4.2" stroke-linejoin="round"/>
<path d="M512.0,501.0L524.5,502.8L537.0,500.2L544.5,491.5L549.5,489.0" fill="none" stroke="#333" stroke-width="1.05" stroke-dasharray="1.3,4.2" stroke-linejoin="round"/>
<path d="M699.5,486.5L707.0,492.8L719.5,490.2L734.5,487.8L749.5,490.2L768.0,491.5" fill="none" stroke="#333" stroke-width="1.05" stroke-dasharray="1.3,4.2" stroke-linejoin="round"/>
<path d="M619.5,519.0L629.5,527.8L642.0,535.2L652.0,542.8" fill="none" stroke="#333" stroke-width="1.05" stroke-dasharray="1.3,4.2" stroke-linejoin="round"/>
<path d="M656.3,546.0L660.1,558.6L670.1,571.1L672.6,577.4L665.1,587.4L660.1,596.2L656.3,600.0L657.6,607.5L655.1,613.8L661.3,618.8L662.6,631.3L661.3,646.4L662.6,656.4L662.6,665.2" fill="none" stroke="#333" stroke-width="1.05" stroke-dasharray="1.3,4.2" stroke-linejoin="round"/>
<path d="M512.0,567.3L522.0,564.8L537.1,567.3L549.7,563.6L555.9,571.1L562.2,578.6L572.2,581.1L579.8,588.7L584.8,592.4L599.9,591.2L602.4,587.4L612.4,594.9L622.4,600.0L637.5,600.0L652.6,598.7L656.3,600.0" fill="none" stroke="#333" stroke-width="1.05" stroke-dasharray="1.3,4.2" stroke-linejoin="round"/>
<path d="M662.6,665.2L672.6,670.2L687.7,665.2L699.0,664.0L705.3,657.7L715.3,655.2L727.9,656.4L740.4,657.7L753.0,652.7L765.5,648.9" fill="none" stroke="#333" stroke-width="1.05" stroke-dasharray="1.3,4.2" stroke-linejoin="round"/>
<path d="M512.0,600.0L522.0,603.7L524.6,611.3L520.8,618.8L524.6,628.8L529.6,630.1L537.1,632.6L543.4,638.9L549.7,646.4L555.9,656.4L562.2,661.5L563.5,671.5L562.2,684.1L563.5,696.6L552.2,699.1L542.1,701.6L532.1,704.1" fill="none" stroke="#333" stroke-width="1.05" stroke-dasharray="1.3,4.2" stroke-linejoin="round"/>
<path d="M747.9,657.7L749.2,671.5L750.5,681.5L760.5,686.6L766.8,696.6" fill="none" stroke="#333" stroke-width="1.05" stroke-dasharray="1.3,4.2" stroke-linejoin="round"/>
<path d="M768.0,637.6L774.3,637.6L775.5,623.8L785.6,621.3L793.1,611.3L805.7,601.2L818.2,593.7L830.8,586.2L840.8,577.4L853.3,571.1L863.4,567.3L873.4,572.4L881.0,578.6L891.0,579.9L898.5,573.6L904.8,563.6L911.1,556.0L918.6,553.5L928.6,561.1L938.7,571.1L951.2,578.6L963.8,588.7L976.3,592.4L988.9,596.2L1001.4,603.7L1014.0,603.7L1021.5,607.5" fill="none" stroke="#333" stroke-width="1.05" stroke-dasharray="1.3,4.2" stroke-linejoin="round"/>
<path d="M903.5,572.4L912.3,577.4L913.6,583.7L903.5,591.2L892.2,600.0L889.7,611.3L893.5,621.3L901.0,631.3L906.1,642.6L907.3,653.9L903.5,656.4L888.5,656.4L873.4,656.4L864.6,664.0L853.3,671.5L840.8,675.3L830.8,679.0L824.5,687.8L825.7,696.6L822.0,701.6L808.2,702.1L793.1,701.6L783.1,697.9L775.5,700.4L770.5,709.2" fill="none" stroke="#333" stroke-width="1.05" stroke-dasharray="1.3,4.2" stroke-linejoin="round"/>
<path d="M899.8,546.0L904.8,551.0L911.1,556.0" fill="none" stroke="#333" stroke-width="1.05" stroke-dasharray="1.3,4.2" stroke-linejoin="round"/>
<path d="M770.0,38.7L784.9,38.7L799.8,39.4L819.6,37.4L837.0,38.7L839.5,47.4L841.9,54.8" fill="none" stroke="#333" stroke-width="1.05" stroke-dasharray="1.3,4.2" stroke-linejoin="round"/>
<path d="M819.6,30.0L820.9,37.4" fill="none" stroke="#333" stroke-width="1.05" stroke-dasharray="1.3,4.2" stroke-linejoin="round"/>
<path d="M873.0,54.8L869.2,62.3L864.3,69.7L851.9,70.9L854.3,79.6L874.2,77.1L884.1,83.3L886.6,89.5L876.7,90.8L866.8,97.0L859.3,104.4L851.9,109.4L844.4,115.6L838.2,126.8L835.7,139.2L833.3,149.1L837.0,159.0L841.9,168.9L851.9,173.9L864.3,178.8L874.2,183.8L886.6,188.8L894.0,198.7L899.0,210.1" fill="none" stroke="#333" stroke-width="1.05" stroke-dasharray="1.3,4.2" stroke-linejoin="round"/>
<path d="M899.0,103.2L905.2,109.4L905.2,119.3L904.0,129.2L894.0,131.7L881.6,133.0L874.2,134.2" fill="none" stroke="#333" stroke-width="1.05" stroke-dasharray="1.3,4.2" stroke-linejoin="round"/>
<path d="M905.2,129.2L908.9,139.2L908.9,149.1L906.4,159.0L901.5,171.4L891.6,178.8L886.6,188.8" fill="none" stroke="#333" stroke-width="1.05" stroke-dasharray="1.3,4.2" stroke-linejoin="round"/>
<path d="M899.0,101.9L911.4,99.5L918.8,100.7" fill="none" stroke="#333" stroke-width="1.05" stroke-dasharray="1.3,4.2" stroke-linejoin="round"/>
<path d="M770.0,176.4L782.4,176.4L793.6,173.9L794.8,183.8L797.3,193.7L807.2,201.2L815.9,201.2" fill="none" stroke="#333" stroke-width="1.05" stroke-dasharray="1.3,4.2" stroke-linejoin="round"/>
<path d="M814.7,149.1L819.6,154.0L820.9,164.0L818.4,167.7" fill="none" stroke="#333" stroke-width="1.05" stroke-dasharray="1.3,4.2" stroke-linejoin="round"/>
<path d="M951.1,116.8L958.5,109.4L968.5,104.4L980.9,100.7L993.3,101.9L1005.7,100.7L1018.1,101.9L1023.0,104.4" fill="none" stroke="#333" stroke-width="1.05" stroke-dasharray="1.3,4.2" stroke-linejoin="round"/>
<path d="M956.1,67.2L968.5,67.2L980.9,70.9L988.3,77.1L998.2,70.9L1008.2,69.7L1014.4,75.9L1015.6,84.6" fill="none" stroke="#333" stroke-width="1.05" stroke-dasharray="1.3,4.2" stroke-linejoin="round"/>
<path d="M983.3,164.0L993.3,171.4L1000.7,178.8L1008.2,186.3L1020.6,187.5" fill="none" stroke="#333" stroke-width="1.05" stroke-dasharray="1.3,4.2" stroke-linejoin="round"/>
<path d="M908.9,171.4L918.8,173.9L928.8,178.8L931.3,188.8L923.8,193.7L931.3,195.0L943.7,188.8L953.6,178.8L958.5,172.6" fill="none" stroke="#333" stroke-width="1.05" stroke-dasharray="1.3,4.2" stroke-linejoin="round"/>
<path d="M793.0,182.0L794.2,192.0L803.0,199.5L815.5,202.0L816.8,207.0L825.5,219.5L835.5,232.0L845.5,240.8L858.0,242.0L870.5,242.0L875.5,249.5L880.5,259.5L875.5,267.0L861.8,267.0" fill="none" stroke="#333" stroke-width="1.05" stroke-dasharray="1.3,4.2" stroke-linejoin="round"/>
<path d="M885.5,182.0L888.0,197.0L890.5,214.5L888.0,229.5L890.5,244.5L891.8,257.0L898.0,267.0L908.0,269.5L923.0,268.2L938.0,269.5L948.0,272.0L958.0,262.0L968.0,254.5" fill="none" stroke="#333" stroke-width="1.05" stroke-dasharray="1.3,4.2" stroke-linejoin="round"/>
<path d="M861.8,267.0L873.0,268.2L883.0,267.0L898.0,267.0" fill="none" stroke="#333" stroke-width="1.05" stroke-dasharray="1.3,4.2" stroke-linejoin="round"/>
<path d="M871.8,268.2L873.0,282.0L883.0,287.0L884.2,299.5L885.5,312.0L875.5,314.5L863.0,318.2L853.0,319.5" fill="none" stroke="#333" stroke-width="1.05" stroke-dasharray="1.3,4.2" stroke-linejoin="round"/>
<path d="M830.5,298.2L840.5,289.5L853.0,285.8L868.0,287.0L878.0,287.0" fill="none" stroke="#333" stroke-width="1.05" stroke-dasharray="1.3,4.2" stroke-linejoin="round"/>
<path d="M830.5,298.2L838.0,307.0L850.5,317.0L853.0,319.5L845.5,327.0L835.5,337.0L829.2,349.5L824.2,364.0" fill="none" stroke="#333" stroke-width="1.05" stroke-dasharray="1.3,4.2" stroke-linejoin="round"/>
<path d="M883.0,287.0L898.0,282.0L908.0,277.0" fill="none" stroke="#333" stroke-width="1.05" stroke-dasharray="1.3,4.2" stroke-linejoin="round"/>
<path d="M913.0,289.5L920.5,299.5L928.0,307.0L940.5,308.2L950.5,317.0L958.0,327.0L960.5,342.0L961.8,357.0L960.5,364.0" fill="none" stroke="#333" stroke-width="1.05" stroke-dasharray="1.3,4.2" stroke-linejoin="round"/>
<path d="M908.0,317.0L918.0,312.0L928.0,307.0" fill="none" stroke="#333" stroke-width="1.05" stroke-dasharray="1.3,4.2" stroke-linejoin="round"/>
<path d="M904.2,364.0L898.0,352.0L895.5,337.0L898.0,322.0L908.0,317.0" fill="none" stroke="#333" stroke-width="1.05" stroke-dasharray="1.3,4.2" stroke-linejoin="round"/>
<path d="M923.0,347.0L933.0,342.0L948.0,342.0L960.5,342.0" fill="none" stroke="#333" stroke-width="1.05" stroke-dasharray="1.3,4.2" stroke-linejoin="round"/>
<path d="M963.0,329.5L975.5,328.2L988.0,327.0L993.0,337.0L1000.5,352.0L1005.5,364.0" fill="none" stroke="#333" stroke-width="1.05" stroke-dasharray="1.3,4.2" stroke-linejoin="round"/>
<path d="M960.5,227.0L975.5,224.5L993.0,229.5L1008.0,234.5L1024.0,233.2" fill="none" stroke="#333" stroke-width="1.05" stroke-dasharray="1.3,4.2" stroke-linejoin="round"/>
<path d="M995.5,292.0L996.8,307.0L998.0,317.0L1003.0,327.0" fill="none" stroke="#333" stroke-width="1.05" stroke-dasharray="1.3,4.2" stroke-linejoin="round"/>
<path d="M824.2,364.0L818.0,376.5L810.5,394.0" fill="none" stroke="#333" stroke-width="1.05" stroke-dasharray="1.3,4.2" stroke-linejoin="round"/>
<path d="M904.2,364.0L898.0,379.0L885.5,391.5L878.0,406.5L870.5,424.0L861.8,439.0" fill="none" stroke="#333" stroke-width="1.05" stroke-dasharray="1.3,4.2" stroke-linejoin="round"/>
<path d="M961.8,364.0L959.2,374.0L958.0,385.2L965.5,389.0L975.5,389.0L988.0,390.2L998.0,401.5L1005.5,414.0L1009.2,426.5L1008.0,441.5L1005.5,454.0L1003.0,464.0" fill="none" stroke="#333" stroke-width="1.05" stroke-dasharray="1.3,4.2" stroke-linejoin="round"/>
<path d="M768.0,490.2L780.5,494.0L790.5,499.0L800.5,505.2L818.0,502.8L828.0,511.5L840.5,515.2L855.5,511.5L863.0,521.5L868.0,534.0L878.0,542.8L888.0,544.0" fill="none" stroke="#333" stroke-width="1.05" stroke-dasharray="1.3,4.2" stroke-linejoin="round"/>
<path d="M975.5,484.0L963.0,489.0L953.0,499.0L943.0,511.5L933.0,526.5L923.0,544.0" fill="none" stroke="#333" stroke-width="1.05" stroke-dasharray="1.3,4.2" stroke-linejoin="round"/>
<path d="M1008.0,369.0L1018.0,371.5L1024.0,372.8" fill="none" stroke="#333" stroke-width="1.05" stroke-dasharray="1.3,4.2" stroke-linejoin="round"/>
<path d="M1000.5,404.0L1013.0,401.5L1024.0,399.0" fill="none" stroke="#333" stroke-width="1.05" stroke-dasharray="1.3,4.2" stroke-linejoin="round"/>
<path d="M821.8,211.6L825.0,207.8L828.2,211.6L832.9,218.0L840.8,224.3L844.9,230.6L844.0,238.5L839.2,240.8L832.9,237.0L826.6,230.6L823.4,222.7L821.8,216.4L821.8,211.6" fill="none" stroke="#111" stroke-width="0.7" stroke-linejoin="round"/>
<path d="M834.5,259.1L839.2,255.3L844.0,258.5L848.7,260.7L848.7,265.4L844.0,268.0L839.2,264.8L834.5,262.9L834.5,259.1" fill="none" stroke="#111" stroke-width="0.7" stroke-linejoin="round"/>
<path d="M845.6,271.8L847.2,274.9L851.9,278.1L856.6,286.0L863.0,290.8L865.2,295.5L861.4,300.3L856.6,301.8L851.9,298.7L845.6,297.7L840.8,292.3L841.8,286.0L840.8,281.3L844.0,276.5L845.6,271.8" fill="none" stroke="#111" stroke-width="0.7" stroke-linejoin="round"/>
<path d="M573.0,105.9L574.4,108.9L572.0,111.8L568.1,113.8L566.2,117.7L568.1,121.6L572.0,124.5L577.9,126.4L582.8,128.4L585.7,126.4L589.6,129.4L592.5,130.4L590.6,132.3L585.7,133.3L581.8,134.3L579.8,132.3L575.9,130.4L571.1,128.4L567.1,125.5L564.2,120.6L563.8,115.7L567.1,111.4L570.1,108.9L573.0,105.9" fill="none" stroke="#111" stroke-width="0.7" stroke-linejoin="round"/>
<path d="M575.9,41.5L578.9,38.6L581.8,39.5L585.7,38.6L587.7,41.5L591.6,39.5L596.4,37.6L598.4,32.7L601.3,34.6L605.2,33.7L609.1,30.7L612.1,27.8L614.0,25.9L613.0,29.8L610.1,34.6L607.2,37.6L602.3,39.5L598.4,41.5L594.5,44.4L591.6,49.3L587.7,47.3L583.8,46.4L579.8,47.3L576.9,44.4L575.9,41.5" fill="none" stroke="#111" stroke-width="0.7" stroke-linejoin="round"/>
<path d="M493.8,643.2L488.9,647.1L486.9,653.0L491.8,655.9L499.6,660.2L505.5,665.3L510.4,666.1L514.3,664.7" fill="none" stroke="#111" stroke-width="0.7" stroke-linejoin="round"/>
<path d="M501.6,661.8L504.5,660.2L507.4,662.8L505.5,665.3L502.5,664.1L501.6,661.8" fill="none" stroke="#111" stroke-width="0.7" stroke-linejoin="round"/>
<path d="M509.4,661.8L512.3,660.8L514.3,663.4L511.3,664.7L509.4,661.8" fill="none" stroke="#111" stroke-width="0.7" stroke-linejoin="round"/>
<path d="M505.5,655.9L507.4,655.0L508.4,657.5L506.4,658.3L505.5,655.9" fill="none" stroke="#111" stroke-width="0.7" stroke-linejoin="round"/>
</g></svg>
<div class="t" style="left:3.2px;top:3.0px;font-size:17.5px;letter-spacing:1.3px">K-index</div>
<div class="t" style="right:2.6px;top:3.0px;font-size:17.5px;letter-spacing:0.1px">VALID T+204 MON, 20190805T12Z</div>
<div class="t" style="left:2.4px;top:714.2px;font-size:14.5px;letter-spacing:0.33px">ECMWF MODEL RUN: 20190728T00Z</div>
<div class="t" style="right:-0.6px;top:714.2px;font-size:14.5px;letter-spacing:0.88px">ArabiaWeather Inc.</div>
</body></html>
